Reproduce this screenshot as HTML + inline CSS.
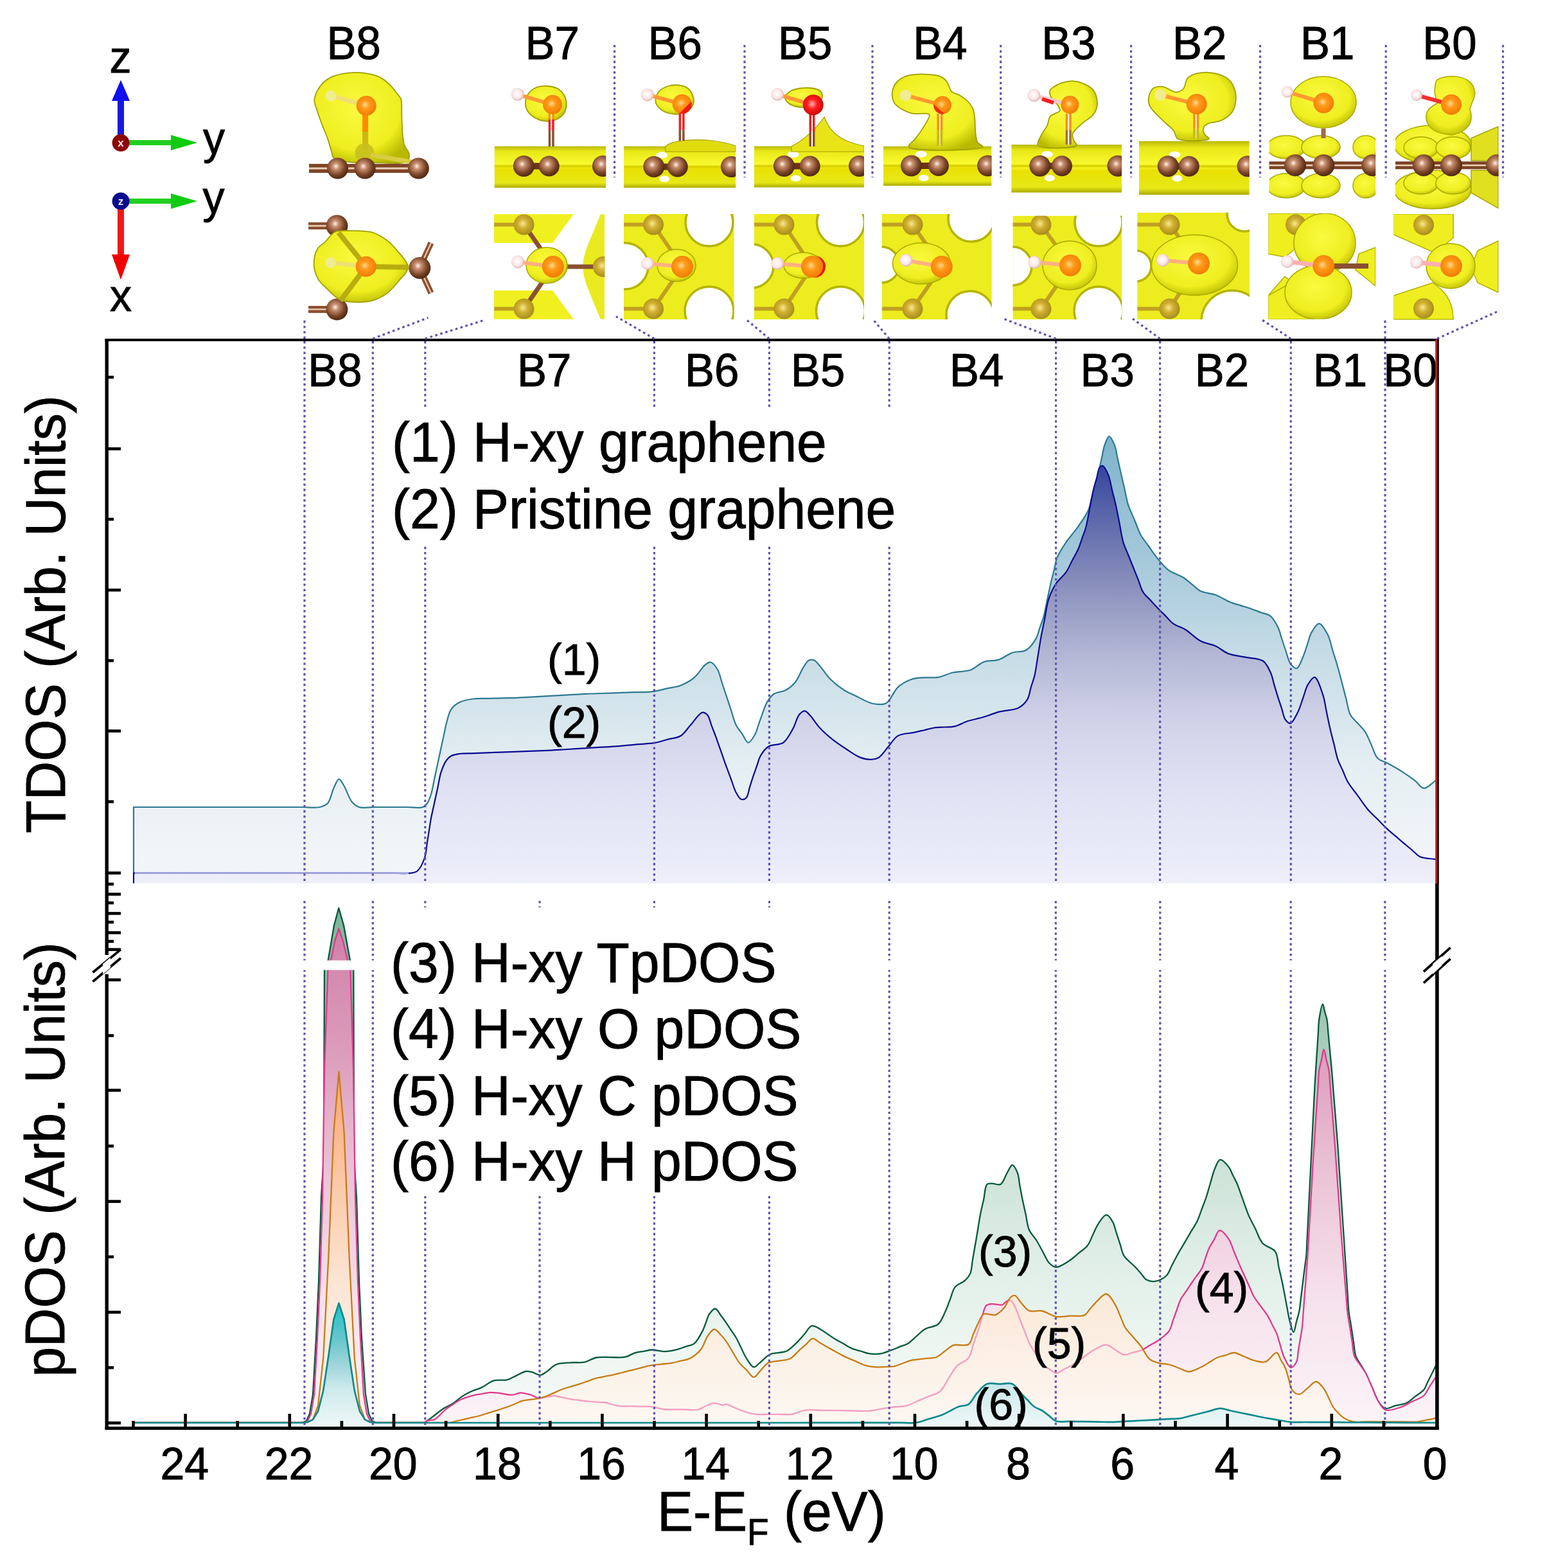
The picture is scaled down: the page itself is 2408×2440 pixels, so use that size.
<!DOCTYPE html><html><head><meta charset="utf-8"><title>DOS figure</title>
<style>html,body{margin:0;padding:0;background:#fff;}svg{display:block;}</style></head><body>
<svg width="2408" height="2440" viewBox="0 0 2408 2440">
<defs>
<linearGradient id="gf1" gradientUnits="userSpaceOnUse" x1="0" y1="680" x2="0" y2="1374"><stop offset="0" stop-color="#7fb4cc"/><stop offset="0.27" stop-color="#a4c8da"/><stop offset="0.5" stop-color="#c8dde7"/><stop offset="0.75" stop-color="#e6eff3"/><stop offset="1" stop-color="#f4f7f9"/></linearGradient>
<linearGradient id="gf2" gradientUnits="userSpaceOnUse" x1="0" y1="722" x2="0" y2="1374"><stop offset="0" stop-color="#34449e"/><stop offset="0.12" stop-color="#5a66aa"/><stop offset="0.29" stop-color="#8a90bc"/><stop offset="0.45" stop-color="#b2b6d4"/><stop offset="0.61" stop-color="#d0d2e8"/><stop offset="0.78" stop-color="#e0e2f4"/><stop offset="0.94" stop-color="#eaebf8"/><stop offset="1" stop-color="#eeeffa"/></linearGradient>
<linearGradient id="gf3" gradientUnits="userSpaceOnUse" x1="0" y1="1413" x2="0" y2="2220"><stop offset="0" stop-color="#7eb498"/><stop offset="0.185" stop-color="#9cc4b0"/><stop offset="0.48" stop-color="#cbe1d6"/><stop offset="0.66" stop-color="#deede6"/><stop offset="0.85" stop-color="#eef6f2"/><stop offset="1" stop-color="#f5faf8"/></linearGradient>
<linearGradient id="gf4" gradientUnits="userSpaceOnUse" x1="0" y1="1440" x2="0" y2="2220"><stop offset="0" stop-color="#cf7fa6"/><stop offset="0.25" stop-color="#dc9cbc"/><stop offset="0.5" stop-color="#ebc4d6"/><stop offset="0.75" stop-color="#f6e2ec"/><stop offset="1" stop-color="#fcf4f8"/></linearGradient>
<linearGradient id="gf5" gradientUnits="userSpaceOnUse" x1="0" y1="1666" x2="0" y2="2220"><stop offset="0" stop-color="#fca468"/><stop offset="0.3" stop-color="#fdc8a0"/><stop offset="0.6" stop-color="#fde6d2"/><stop offset="0.8" stop-color="#fdf0e4"/><stop offset="1" stop-color="#fdf8f2"/></linearGradient>
<linearGradient id="gf6" gradientUnits="userSpaceOnUse" x1="0" y1="2028" x2="0" y2="2220"><stop offset="0" stop-color="#04c0c8"/><stop offset="0.27" stop-color="#50c0c8"/><stop offset="0.48" stop-color="#90d0d8"/><stop offset="0.69" stop-color="#c8e8ec"/><stop offset="1" stop-color="#eef8f9"/></linearGradient>
<radialGradient id="rgC" cx="0.42" cy="0.4" r="0.6"><stop offset="0" stop-color="#fff4e8"/><stop offset="0.25" stop-color="#c89070"/><stop offset="0.7" stop-color="#7a4426"/><stop offset="1" stop-color="#4e2a14"/></radialGradient>
<radialGradient id="rgO" cx="0.45" cy="0.45" r="0.6"><stop offset="0" stop-color="#ffd890"/><stop offset="0.35" stop-color="#ff9a18"/><stop offset="1" stop-color="#f07800"/></radialGradient>
<radialGradient id="rgH" cx="0.45" cy="0.45" r="0.6"><stop offset="0" stop-color="#ffffff"/><stop offset="0.6" stop-color="#fbe6e6"/><stop offset="1" stop-color="#d8a8a8"/></radialGradient>
<radialGradient id="rgCg" cx="0.45" cy="0.45" r="0.6"><stop offset="0" stop-color="#f8e890"/><stop offset="0.4" stop-color="#d0b030"/><stop offset="1" stop-color="#a08818"/></radialGradient>
<radialGradient id="rgR" cx="0.45" cy="0.45" r="0.6"><stop offset="0" stop-color="#ffb0b0"/><stop offset="0.4" stop-color="#ff2020"/><stop offset="1" stop-color="#c80000"/></radialGradient>
<linearGradient id="band" x1="0" y1="0" x2="0" y2="1"><stop offset="0" stop-color="#b8b800"/><stop offset="0.12" stop-color="#e8e818"/><stop offset="0.45" stop-color="#fafa30"/><stop offset="0.55" stop-color="#e8e000"/><stop offset="0.88" stop-color="#e8e818"/><stop offset="1" stop-color="#a8a800"/></linearGradient>
<radialGradient id="blob" cx="0.45" cy="0.4" r="0.65"><stop offset="0" stop-color="#fafa40"/><stop offset="0.7" stop-color="#eeee20"/><stop offset="1" stop-color="#b8b800"/></radialGradient>
</defs>
<rect width="2408" height="2440" fill="#fff"/>
<path d="M208,1374.5 L208,1256 C217.7,1256 227.3,1256 237,1256 C246.6,1256 256.3,1256 266,1256 C275.6,1256 285.3,1256 294.9,1256 C304.6,1256 314.3,1256 323.9,1256 C333.6,1256 343.2,1256 352.9,1256 C362.6,1256 372.2,1256 381.9,1256 C391.5,1256 401.2,1256 410.9,1256 C420.5,1256 430.2,1256 439.8,1256 C449.5,1256 459.2,1256 468.8,1256 C478.5,1256 490.3,1257.7 497.8,1256 C502.9,1254.8 506.6,1253.6 510,1250 C514.7,1244.9 516.6,1231.8 520,1225 C522.5,1220 525.1,1212.5 527.7,1212.4 C530.1,1212.3 532.4,1217.9 535,1222 C539,1228.4 543.1,1242.2 548,1248 C551.4,1252 554.3,1254.5 559,1256 C565.4,1258.1 575.6,1256 583.8,1256 C592.1,1256 600.4,1256 608.6,1256 C616.9,1256 625.2,1256 633.5,1256 C641.7,1256 652.9,1258.1 658.3,1256 C661.6,1254.8 663.1,1252.7 665,1250 C667.5,1246.5 669.3,1241.4 671,1236 C673.2,1229.1 674.5,1219.9 676.2,1211.9 C677.9,1203.8 679.7,1195.8 681.4,1187.7 C683.1,1179.7 685,1171.2 686.6,1163.6 C688.1,1156.8 689.4,1150.7 690.8,1144.3 C692.2,1137.9 693.2,1131.5 695,1125 C696.9,1118 698.5,1109.3 702.3,1103.8 C705.5,1099 709.8,1095.7 715,1093 C721,1089.9 729.6,1088.5 737,1087.5 C744.4,1086.5 752.1,1087.1 759.6,1086.9 C767.2,1086.7 774.7,1086.6 782.3,1086.4 C789.8,1086.2 797.1,1086.1 804.9,1085.8 C813.3,1085.5 822.4,1084.8 831.1,1084.3 C839.9,1083.8 848.6,1083.3 857.3,1082.8 C866.1,1082.3 874.8,1081.8 883.6,1081.3 C892.3,1080.8 901.1,1080.2 909.8,1079.8 C918.5,1079.4 927.3,1079.2 936,1079 C944.7,1078.7 953.5,1078.4 962.2,1078.1 C970.9,1077.8 979.7,1077.5 988.4,1077.2 C997.1,1077 1006.3,1077.4 1014.6,1076.4 C1022.4,1075.4 1029.5,1073.2 1036.9,1071.6 C1044.3,1069.9 1052.1,1069.4 1059.2,1066.7 C1066.5,1063.9 1073.8,1060.1 1080.2,1054.9 C1087,1049.3 1093.3,1037.7 1098.5,1033.9 C1101.4,1031.8 1103.8,1029.9 1106.4,1030.5 C1109.9,1031.2 1114.1,1037.2 1116.9,1041.8 C1120.1,1047.2 1121.3,1054.9 1123.5,1061.4 C1125.6,1068 1127.7,1074.2 1130,1081.1 C1132.5,1088.6 1135.2,1096.8 1137.8,1104.7 C1140.5,1112.6 1142.4,1121.7 1145.7,1128.3 C1148.4,1133.7 1152,1137.4 1155.2,1141.9 C1158.4,1146.5 1161.4,1155.5 1164.7,1155.6 C1168,1155.7 1172.6,1147.6 1175.2,1143 C1177.8,1138.5 1178.7,1133.2 1180.5,1128.3 C1182.2,1123.4 1183.7,1118.9 1185.7,1113.6 C1188.1,1107.2 1190.5,1098.5 1194,1092.6 C1197,1087.6 1199.9,1083.1 1204.5,1080 C1209.5,1076.6 1217.8,1077 1223.4,1073.8 C1229,1070.7 1233.8,1066.5 1238.1,1061.2 C1243.1,1055 1246.7,1044.2 1250.7,1038.1 C1253.6,1033.8 1255.9,1029.1 1259.1,1027.6 C1261.6,1026.4 1264.9,1026.5 1267.5,1027.6 C1270.6,1028.9 1272.7,1032.5 1275.9,1036 C1280.7,1041.3 1286.3,1050.7 1292.6,1057 C1298.9,1063.3 1306.3,1069.2 1313.6,1073.8 C1320.4,1078.1 1327.4,1080.8 1334.6,1084.2 C1342.1,1087.8 1350,1093 1357.7,1094.7 C1364.7,1096.2 1373.9,1096.6 1378.6,1094.7 C1381.7,1093.4 1382.6,1091.2 1384.9,1088.4 C1388.6,1083.9 1392.2,1074.7 1397.5,1069.6 C1402.7,1064.6 1410.6,1060.4 1416.4,1058 C1420.9,1056.1 1424.5,1055.5 1429,1054.9 C1433.9,1054.2 1439.5,1054.5 1444.7,1054.3 C1449.9,1054.2 1454.7,1054.8 1460.4,1053.8 C1467.4,1052.6 1475.4,1048.4 1483.5,1046.5 C1492.2,1044.5 1502.7,1045.5 1511,1042.5 C1518.8,1039.7 1524.6,1032.3 1532,1029.7 C1539.1,1027.2 1547.2,1028.9 1554.4,1026.6 C1561.8,1024.3 1568.4,1018.2 1575.7,1015.7 C1582.6,1013.3 1591,1015.3 1597,1011.8 C1603.4,1008.1 1609,999.9 1612.6,993.6 C1615.7,988.2 1616.5,982.6 1618.4,977.1 C1620.3,971.6 1622.4,966.8 1624.2,960.6 C1626.4,952.7 1628.1,942.5 1630.1,933.4 C1632,924.3 1634,914.5 1635.9,906.2 C1637.5,899.2 1639.1,893.3 1640.8,886.8 C1642.4,880.3 1642.9,874 1645.6,867.4 C1648.7,859.8 1654.8,850.6 1659.2,844.1 C1662.5,839.1 1665.7,835.7 1668.9,831.5 C1672.1,827.3 1675.1,823.9 1678.6,818.9 C1683.3,812 1690.6,801.8 1694.1,793.7 C1697,787 1697.6,780.7 1699.3,774.3 C1701,767.8 1702.8,761.3 1704.5,754.8 C1706.2,748.4 1708.1,742 1709.7,735.4 C1711.4,728.5 1712.9,721.2 1714.6,714 C1716.2,706.9 1717.2,698.9 1719.4,692.7 C1721.3,687.5 1723.8,679.2 1726.3,679.1 C1728.9,679 1732.7,687.4 1734.9,692.7 C1737.4,698.8 1738.1,706.9 1739.8,714 C1741.4,721.2 1742.9,728 1744.6,735.4 C1746.4,743.5 1748.5,752.2 1750.4,760.6 C1752.3,769.1 1753.6,777.8 1756.2,785.9 C1758.8,793.9 1762.7,801.4 1766,809.2 C1769.2,817 1771.9,825.6 1775.7,832.5 C1779.1,838.7 1783.5,843.5 1787.3,849 C1791.2,854.5 1794.4,859.8 1799,865.5 C1804.5,872.3 1811.1,881.2 1818.4,886.8 C1825.4,892.1 1835.2,894.3 1841.7,898.5 C1847,901.9 1850.7,905.6 1855.2,909.1 C1859.8,912.7 1863.3,917.1 1868.8,919.8 C1875.2,923 1884.5,922.9 1892.1,925.7 C1900,928.6 1908.3,934.5 1915.4,937.3 C1921,939.6 1925.8,940.5 1931,942.1 C1936.1,943.8 1941.3,945.2 1946.5,947 C1951.7,948.8 1956.8,950.9 1962,952.9 C1967.2,954.8 1973.1,955.2 1977.5,958.7 C1982.4,962.6 1986.2,970.1 1989.2,976.1 C1992,981.7 1993.1,987.7 1995,993.5 C1996.9,999.4 1998.7,1004.9 2000.8,1011 C2003.2,1017.8 2005,1027.3 2008.6,1032.4 C2011.3,1036.1 2015.4,1040.8 2018.3,1040.2 C2022,1039.5 2025.3,1028.8 2028,1022.7 C2030.8,1016.5 2032.5,1009.8 2034.8,1003.3 C2037.1,996.8 2038.3,989.5 2041.6,983.9 C2044.6,978.6 2049.3,970.2 2053.3,970.3 C2057.7,970.4 2063.3,981.1 2066.8,987.8 C2070.6,995.1 2072,1004.6 2074.6,1013 C2077.2,1021.4 2080,1029.8 2082.4,1038.2 C2084.8,1046.4 2086.7,1054.6 2088.9,1062.8 C2091,1071 2093.2,1079.2 2095.3,1087.4 C2097.5,1095.6 2098.3,1105.3 2101.8,1112 C2104.7,1117.6 2109.6,1121.1 2113.4,1125.6 C2117.3,1130.1 2121.7,1134 2125.1,1139.2 C2128.9,1145.1 2131.6,1152.8 2134.8,1159.6 C2138,1166.4 2139.8,1175.3 2144.5,1180 C2148.6,1184.1 2154.4,1184.7 2160,1187.7 C2167,1191.5 2176,1196.6 2183.3,1201.3 C2190.2,1205.7 2196.9,1210.4 2202.7,1214.9 C2207.7,1218.8 2211.3,1226.3 2216.3,1226.6 C2221.8,1227 2228.4,1218.8 2234.5,1214.9 L2234.5,1374.5 Z" fill="url(#gf1)"/>
<path d="M208,1374.5 L208,1358.7 C217.6,1358.7 227.2,1358.7 236.8,1358.7 C246.3,1358.7 255.9,1358.7 265.5,1358.7 C275.1,1358.7 284.7,1358.7 294.3,1358.7 C303.9,1358.7 313.5,1358.7 323,1358.7 C332.6,1358.7 342.2,1358.7 351.8,1358.7 C361.4,1358.7 371,1358.7 380.6,1358.7 C390.1,1358.7 399.7,1358.7 409.3,1358.7 C418.9,1358.7 428.5,1358.7 438.1,1358.7 C447.7,1358.7 457.3,1358.7 466.8,1358.7 C476.4,1358.7 486,1358.7 495.6,1358.7 C505.2,1358.7 514.8,1358.7 524.4,1358.7 C533.9,1358.7 543.5,1358.7 553.1,1358.7 C562.7,1358.7 572.3,1358.7 581.9,1358.7 C591.5,1358.7 601.1,1358.7 610.6,1358.7 C620.2,1358.7 632.2,1359.9 639.4,1358.7 C643.9,1357.9 646.9,1357.7 650,1355 C654.6,1351 659,1340.7 661.4,1333.5 C663.6,1326.9 663.5,1320.2 664.6,1313.6 C665.6,1307 666.7,1300.3 667.7,1293.7 C668.8,1287.1 669.6,1280.7 670.9,1273.8 C672.3,1266.1 674.4,1257.7 676.1,1249.7 C677.9,1241.6 679.6,1233.6 681.4,1225.5 C683.1,1217.5 684.1,1208.8 686.6,1201.4 C688.8,1194.7 691.8,1187.4 695,1183 C697.2,1179.9 699.3,1177.8 702.3,1176.2 C705.8,1174.3 710.3,1173.7 715,1173 C720.6,1172.2 727.5,1172.5 733.7,1172.3 C739.9,1172.1 745.6,1171.9 752.4,1171.6 C760.4,1171.3 769.9,1170.9 778.6,1170.6 C787.4,1170.3 796.1,1169.9 804.8,1169.6 C813.6,1169.3 822.3,1168.9 831.1,1168.6 C839.8,1168.3 848.6,1168 857.3,1167.6 C866,1167.2 874.8,1166.5 883.5,1166 C892.3,1165.4 901,1164.9 909.8,1164.3 C918.5,1163.8 927.2,1163.3 936,1162.7 C944.7,1162.2 953.3,1161.8 962.2,1161.1 C971.6,1160.4 981.4,1159.3 991,1158.4 C1000.7,1157.6 1011.3,1157.3 1019.9,1155.8 C1027.1,1154.5 1033,1152.3 1039.5,1150.5 C1046.1,1148.8 1053.4,1148.8 1059.2,1145.3 C1065.3,1141.6 1069.5,1134.2 1074.9,1128.3 C1080.8,1122 1088.1,1109.5 1093.3,1108.6 C1096.3,1108.1 1099,1110.2 1101.2,1112.6 C1104.3,1116.1 1105.6,1123.9 1107.8,1129.6 C1109.9,1135.3 1112.1,1140.5 1114.3,1146.6 C1116.8,1153.5 1119.5,1161.5 1122.2,1168.9 C1124.8,1176.3 1127.3,1183.9 1130,1191.2 C1132.6,1198.3 1135.2,1205.2 1137.8,1212.2 C1140.5,1219.2 1142.6,1227.6 1145.7,1233.2 C1148.1,1237.5 1150.6,1242.7 1153.6,1243.7 C1156,1244.5 1159.4,1243.6 1161.5,1241.6 C1164.7,1238.6 1165.4,1229.7 1167.3,1223.8 C1169.2,1217.8 1171.2,1211.5 1173.1,1205.9 C1174.9,1200.7 1176.6,1196.1 1178.3,1191.2 C1180.1,1186.3 1180.9,1181.2 1183.6,1176.5 C1186.6,1171.3 1190.6,1165.3 1196.1,1161.8 C1202.2,1157.9 1213,1160 1219.2,1155.6 C1225.7,1151.1 1229.7,1142 1233.9,1134.6 C1238.1,1127.3 1240.3,1116.2 1244.4,1111.5 C1247,1108.6 1250.1,1106.1 1252.8,1106.3 C1255.7,1106.5 1258.2,1110.4 1261.2,1113.6 C1265.6,1118.3 1270.3,1126.4 1275.9,1132.5 C1282,1139.1 1289.6,1145.7 1296.8,1151.4 C1303.6,1156.8 1310.7,1161.4 1317.8,1166 C1324.7,1170.5 1332,1176 1338.8,1178.6 C1344.5,1180.8 1350.4,1182 1355.6,1181.8 C1360.1,1181.7 1364.1,1181 1368.1,1178.6 C1373.3,1175.4 1377.9,1167.4 1382.8,1161.8 C1387.7,1156.2 1391.2,1148.8 1397.5,1145.1 C1404.3,1141.1 1415.3,1141.4 1422.7,1139.8 C1428.6,1138.5 1433.2,1137.4 1438.4,1136.2 C1443.6,1134.9 1448.8,1133.3 1454.1,1132.5 C1459.3,1131.7 1464.6,1131.8 1469.8,1131.5 C1475.1,1131.1 1480.1,1131.7 1485.6,1130.4 C1492.2,1128.9 1499.5,1124.3 1506.6,1122 C1513.5,1119.8 1521.3,1118.6 1527.6,1116.8 C1532.9,1115.3 1537.2,1113.7 1541.9,1112.1 C1546.7,1110.5 1550.6,1108.9 1556.3,1107.4 C1564.3,1105.3 1577.9,1105.4 1585.4,1101.5 C1591.3,1098.4 1595.8,1093.9 1599,1088.7 C1602.4,1083.3 1602.9,1075.8 1604.8,1069.3 C1606.8,1062.8 1609,1057.1 1610.7,1049.9 C1612.7,1041.2 1613.9,1030.5 1615.6,1020.8 C1617.2,1011 1618.6,1001.3 1620.4,991.6 C1622.2,981.9 1624.3,972.2 1626.2,962.5 C1628.1,952.8 1629,942.6 1632,933.4 C1634.9,924.5 1638.9,915.5 1643.7,908.2 C1648.1,901.5 1654.9,896.9 1659.2,890.7 C1663.2,884.9 1665.7,878.4 1668.9,872.2 C1672.1,866.1 1676,859.9 1678.6,853.8 C1681,848.2 1682.5,842.8 1684.4,837.3 C1686.3,831.8 1688.5,827.1 1690.2,820.8 C1692.5,812.5 1694.1,801.4 1696.1,791.7 C1698,782 1699.9,771 1701.9,762.6 C1703.5,756 1705.1,750.9 1706.8,745.1 C1708.4,739.3 1709.2,730.7 1711.6,727.6 C1712.9,725.9 1714.7,724.5 1716.3,724.9 C1719.1,725.6 1722.8,733.7 1725.2,739.3 C1728,746 1729.1,754.8 1731,762.6 C1732.9,770.4 1735,777.7 1736.8,785.9 C1738.9,795 1740.7,805.3 1742.7,815 C1744.6,824.7 1745.9,835.5 1748.5,844.1 C1750.7,851.3 1753.7,857.1 1756.2,863.5 C1758.8,870 1761.4,876.5 1764,883 C1766.6,889.5 1769.2,895.9 1771.8,902.4 C1774.3,908.9 1776,916.3 1779.5,921.8 C1782.7,926.8 1787.3,930.2 1791.2,934.4 C1795,938.6 1798.9,942.9 1802.8,947 C1806.6,951 1810.6,954.8 1814.4,958.6 C1818.3,962.5 1821.4,966.9 1826.1,970.3 C1831.5,974.2 1838.9,975.9 1845.5,980 C1853.1,984.7 1860.7,993.3 1868.8,997.5 C1876.3,1001.4 1884.9,1001.9 1892.1,1005.2 C1899.1,1008.4 1904.2,1014 1911.5,1016.9 C1919.6,1020.1 1929.6,1020.8 1938.7,1022.7 C1947.8,1024.6 1959.3,1024 1965.9,1028.5 C1971.6,1032.4 1974.6,1039.8 1977.5,1046 C1980.4,1052.1 1981.4,1058.9 1983.3,1065.4 C1985.3,1071.9 1987.2,1078.5 1989.2,1084.8 C1991.1,1090.8 1993.1,1096.5 1995,1102.3 C1996.9,1108.1 1997.9,1115.8 2000.8,1119.8 C2002.9,1122.7 2006,1126.1 2008.6,1125.6 C2012.4,1124.9 2017,1114.4 2020.2,1108.1 C2023.5,1101.5 2025.4,1093.9 2028,1086.8 C2030.6,1079.6 2032.3,1071.2 2035.8,1065.4 C2038.7,1060.6 2043,1053.3 2046.3,1053.8 C2050.9,1054.5 2056,1071.7 2059.1,1080.9 C2062.1,1089.8 2063,1099 2064.9,1108.1 C2066.8,1117.2 2068.7,1126.6 2070.7,1135.3 C2072.6,1143.4 2074.6,1150.8 2076.6,1158.6 C2078.5,1166.4 2079.9,1174.8 2082.4,1181.9 C2084.6,1188.2 2087.6,1193.5 2090.2,1199.3 C2092.7,1205.2 2094.5,1210.9 2097.9,1216.8 C2101.9,1223.8 2108.3,1231 2113.4,1238.2 C2118.6,1245.3 2123.6,1253.1 2129,1259.5 C2134,1265.3 2139.3,1269.9 2144.5,1275 C2149.7,1280.2 2154.9,1285.9 2160,1290.6 C2164.6,1294.9 2169.1,1298.4 2173.6,1302.2 C2178.1,1306.1 2182.8,1310.2 2187.2,1313.9 C2191.2,1317.3 2195,1320.4 2198.8,1323.6 C2202.7,1326.8 2205.5,1331 2210.5,1333.3 C2216.8,1336.2 2226.5,1335.9 2234.5,1337.2 L2234.5,1374.5 Z" fill="url(#gf2)"/>
<path d="M208,1358 L208,1256 C217.7,1256 227.3,1256 237,1256 C246.6,1256 256.3,1256 266,1256 C275.6,1256 285.3,1256 294.9,1256 C304.6,1256 314.3,1256 323.9,1256 C333.6,1256 343.2,1256 352.9,1256 C362.6,1256 372.2,1256 381.9,1256 C391.5,1256 401.2,1256 410.9,1256 C420.5,1256 430.2,1256 439.8,1256 C449.5,1256 459.2,1256 468.8,1256 C478.5,1256 490.3,1257.7 497.8,1256 C502.9,1254.8 506.6,1253.6 510,1250 C514.7,1244.9 516.6,1231.8 520,1225 C522.5,1220 525.1,1212.5 527.7,1212.4 C530.1,1212.3 532.4,1217.9 535,1222 C539,1228.4 543.1,1242.2 548,1248 C551.4,1252 554.3,1254.5 559,1256 C565.4,1258.1 575.6,1256 583.8,1256 C592.1,1256 600.4,1256 608.6,1256 C616.9,1256 625.2,1256 633.5,1256 C641.7,1256 652.9,1258.1 658.3,1256 C661.6,1254.8 663.1,1252.7 665,1250 C667.5,1246.5 669.3,1241.4 671,1236 C673.2,1229.1 674.5,1219.9 676.2,1211.9 C677.9,1203.8 679.7,1195.8 681.4,1187.7 C683.1,1179.7 685,1171.2 686.6,1163.6 C688.1,1156.8 689.4,1150.7 690.8,1144.3 C692.2,1137.9 693.2,1131.5 695,1125 C696.9,1118 698.5,1109.3 702.3,1103.8 C705.5,1099 709.8,1095.7 715,1093 C721,1089.9 729.6,1088.5 737,1087.5 C744.4,1086.5 752.1,1087.1 759.6,1086.9 C767.2,1086.7 774.7,1086.6 782.3,1086.4 C789.8,1086.2 797.1,1086.1 804.9,1085.8 C813.3,1085.5 822.4,1084.8 831.1,1084.3 C839.9,1083.8 848.6,1083.3 857.3,1082.8 C866.1,1082.3 874.8,1081.8 883.6,1081.3 C892.3,1080.8 901.1,1080.2 909.8,1079.8 C918.5,1079.4 927.3,1079.2 936,1079 C944.7,1078.7 953.5,1078.4 962.2,1078.1 C970.9,1077.8 979.7,1077.5 988.4,1077.2 C997.1,1077 1006.3,1077.4 1014.6,1076.4 C1022.4,1075.4 1029.5,1073.2 1036.9,1071.6 C1044.3,1069.9 1052.1,1069.4 1059.2,1066.7 C1066.5,1063.9 1073.8,1060.1 1080.2,1054.9 C1087,1049.3 1093.3,1037.7 1098.5,1033.9 C1101.4,1031.8 1103.8,1029.9 1106.4,1030.5 C1109.9,1031.2 1114.1,1037.2 1116.9,1041.8 C1120.1,1047.2 1121.3,1054.9 1123.5,1061.4 C1125.6,1068 1127.7,1074.2 1130,1081.1 C1132.5,1088.6 1135.2,1096.8 1137.8,1104.7 C1140.5,1112.6 1142.4,1121.7 1145.7,1128.3 C1148.4,1133.7 1152,1137.4 1155.2,1141.9 C1158.4,1146.5 1161.4,1155.5 1164.7,1155.6 C1168,1155.7 1172.6,1147.6 1175.2,1143 C1177.8,1138.5 1178.7,1133.2 1180.5,1128.3 C1182.2,1123.4 1183.7,1118.9 1185.7,1113.6 C1188.1,1107.2 1190.5,1098.5 1194,1092.6 C1197,1087.6 1199.9,1083.1 1204.5,1080 C1209.5,1076.6 1217.8,1077 1223.4,1073.8 C1229,1070.7 1233.8,1066.5 1238.1,1061.2 C1243.1,1055 1246.7,1044.2 1250.7,1038.1 C1253.6,1033.8 1255.9,1029.1 1259.1,1027.6 C1261.6,1026.4 1264.9,1026.5 1267.5,1027.6 C1270.6,1028.9 1272.7,1032.5 1275.9,1036 C1280.7,1041.3 1286.3,1050.7 1292.6,1057 C1298.9,1063.3 1306.3,1069.2 1313.6,1073.8 C1320.4,1078.1 1327.4,1080.8 1334.6,1084.2 C1342.1,1087.8 1350,1093 1357.7,1094.7 C1364.7,1096.2 1373.9,1096.6 1378.6,1094.7 C1381.7,1093.4 1382.6,1091.2 1384.9,1088.4 C1388.6,1083.9 1392.2,1074.7 1397.5,1069.6 C1402.7,1064.6 1410.6,1060.4 1416.4,1058 C1420.9,1056.1 1424.5,1055.5 1429,1054.9 C1433.9,1054.2 1439.5,1054.5 1444.7,1054.3 C1449.9,1054.2 1454.7,1054.8 1460.4,1053.8 C1467.4,1052.6 1475.4,1048.4 1483.5,1046.5 C1492.2,1044.5 1502.7,1045.5 1511,1042.5 C1518.8,1039.7 1524.6,1032.3 1532,1029.7 C1539.1,1027.2 1547.2,1028.9 1554.4,1026.6 C1561.8,1024.3 1568.4,1018.2 1575.7,1015.7 C1582.6,1013.3 1591,1015.3 1597,1011.8 C1603.4,1008.1 1609,999.9 1612.6,993.6 C1615.7,988.2 1616.5,982.6 1618.4,977.1 C1620.3,971.6 1622.4,966.8 1624.2,960.6 C1626.4,952.7 1628.1,942.5 1630.1,933.4 C1632,924.3 1634,914.5 1635.9,906.2 C1637.5,899.2 1639.1,893.3 1640.8,886.8 C1642.4,880.3 1642.9,874 1645.6,867.4 C1648.7,859.8 1654.8,850.6 1659.2,844.1 C1662.5,839.1 1665.7,835.7 1668.9,831.5 C1672.1,827.3 1675.1,823.9 1678.6,818.9 C1683.3,812 1690.6,801.8 1694.1,793.7 C1697,787 1697.6,780.7 1699.3,774.3 C1701,767.8 1702.8,761.3 1704.5,754.8 C1706.2,748.4 1708.1,742 1709.7,735.4 C1711.4,728.5 1712.9,721.2 1714.6,714 C1716.2,706.9 1717.2,698.9 1719.4,692.7 C1721.3,687.5 1723.8,679.2 1726.3,679.1 C1728.9,679 1732.7,687.4 1734.9,692.7 C1737.4,698.8 1738.1,706.9 1739.8,714 C1741.4,721.2 1742.9,728 1744.6,735.4 C1746.4,743.5 1748.5,752.2 1750.4,760.6 C1752.3,769.1 1753.6,777.8 1756.2,785.9 C1758.8,793.9 1762.7,801.4 1766,809.2 C1769.2,817 1771.9,825.6 1775.7,832.5 C1779.1,838.7 1783.5,843.5 1787.3,849 C1791.2,854.5 1794.4,859.8 1799,865.5 C1804.5,872.3 1811.1,881.2 1818.4,886.8 C1825.4,892.1 1835.2,894.3 1841.7,898.5 C1847,901.9 1850.7,905.6 1855.2,909.1 C1859.8,912.7 1863.3,917.1 1868.8,919.8 C1875.2,923 1884.5,922.9 1892.1,925.7 C1900,928.6 1908.3,934.5 1915.4,937.3 C1921,939.6 1925.8,940.5 1931,942.1 C1936.1,943.8 1941.3,945.2 1946.5,947 C1951.7,948.8 1956.8,950.9 1962,952.9 C1967.2,954.8 1973.1,955.2 1977.5,958.7 C1982.4,962.6 1986.2,970.1 1989.2,976.1 C1992,981.7 1993.1,987.7 1995,993.5 C1996.9,999.4 1998.7,1004.9 2000.8,1011 C2003.2,1017.8 2005,1027.3 2008.6,1032.4 C2011.3,1036.1 2015.4,1040.8 2018.3,1040.2 C2022,1039.5 2025.3,1028.8 2028,1022.7 C2030.8,1016.5 2032.5,1009.8 2034.8,1003.3 C2037.1,996.8 2038.3,989.5 2041.6,983.9 C2044.6,978.6 2049.3,970.2 2053.3,970.3 C2057.7,970.4 2063.3,981.1 2066.8,987.8 C2070.6,995.1 2072,1004.6 2074.6,1013 C2077.2,1021.4 2080,1029.8 2082.4,1038.2 C2084.8,1046.4 2086.7,1054.6 2088.9,1062.8 C2091,1071 2093.2,1079.2 2095.3,1087.4 C2097.5,1095.6 2098.3,1105.3 2101.8,1112 C2104.7,1117.6 2109.6,1121.1 2113.4,1125.6 C2117.3,1130.1 2121.7,1134 2125.1,1139.2 C2128.9,1145.1 2131.6,1152.8 2134.8,1159.6 C2138,1166.4 2139.8,1175.3 2144.5,1180 C2148.6,1184.1 2154.4,1184.7 2160,1187.7 C2167,1191.5 2176,1196.6 2183.3,1201.3 C2190.2,1205.7 2196.9,1210.4 2202.7,1214.9 C2207.7,1218.8 2211.3,1226.3 2216.3,1226.6 C2221.8,1227 2228.4,1218.8 2234.5,1214.9" fill="none" stroke="#2c7a90" stroke-width="2.2" stroke-linejoin="round"/>
<path d="M208,1374.5 L208,1358.7 C217.6,1358.7 227.2,1358.7 236.8,1358.7 C246.3,1358.7 255.9,1358.7 265.5,1358.7 C275.1,1358.7 284.7,1358.7 294.3,1358.7 C303.9,1358.7 313.5,1358.7 323,1358.7 C332.6,1358.7 342.2,1358.7 351.8,1358.7 C361.4,1358.7 371,1358.7 380.6,1358.7 C390.1,1358.7 399.7,1358.7 409.3,1358.7 C418.9,1358.7 428.5,1358.7 438.1,1358.7 C447.7,1358.7 457.3,1358.7 466.8,1358.7 C476.4,1358.7 486,1358.7 495.6,1358.7 C505.2,1358.7 514.8,1358.7 524.4,1358.7 C533.9,1358.7 543.5,1358.7 553.1,1358.7 C562.7,1358.7 572.3,1358.7 581.9,1358.7 C591.5,1358.7 601.1,1358.7 610.6,1358.7 C620.2,1358.7 632.2,1359.9 639.4,1358.7 C643.9,1357.9 646.9,1357.7 650,1355 C654.6,1351 659,1340.7 661.4,1333.5 C663.6,1326.9 663.5,1320.2 664.6,1313.6 C665.6,1307 666.7,1300.3 667.7,1293.7 C668.8,1287.1 669.6,1280.7 670.9,1273.8 C672.3,1266.1 674.4,1257.7 676.1,1249.7 C677.9,1241.6 679.6,1233.6 681.4,1225.5 C683.1,1217.5 684.1,1208.8 686.6,1201.4 C688.8,1194.7 691.8,1187.4 695,1183 C697.2,1179.9 699.3,1177.8 702.3,1176.2 C705.8,1174.3 710.3,1173.7 715,1173 C720.6,1172.2 727.5,1172.5 733.7,1172.3 C739.9,1172.1 745.6,1171.9 752.4,1171.6 C760.4,1171.3 769.9,1170.9 778.6,1170.6 C787.4,1170.3 796.1,1169.9 804.8,1169.6 C813.6,1169.3 822.3,1168.9 831.1,1168.6 C839.8,1168.3 848.6,1168 857.3,1167.6 C866,1167.2 874.8,1166.5 883.5,1166 C892.3,1165.4 901,1164.9 909.8,1164.3 C918.5,1163.8 927.2,1163.3 936,1162.7 C944.7,1162.2 953.3,1161.8 962.2,1161.1 C971.6,1160.4 981.4,1159.3 991,1158.4 C1000.7,1157.6 1011.3,1157.3 1019.9,1155.8 C1027.1,1154.5 1033,1152.3 1039.5,1150.5 C1046.1,1148.8 1053.4,1148.8 1059.2,1145.3 C1065.3,1141.6 1069.5,1134.2 1074.9,1128.3 C1080.8,1122 1088.1,1109.5 1093.3,1108.6 C1096.3,1108.1 1099,1110.2 1101.2,1112.6 C1104.3,1116.1 1105.6,1123.9 1107.8,1129.6 C1109.9,1135.3 1112.1,1140.5 1114.3,1146.6 C1116.8,1153.5 1119.5,1161.5 1122.2,1168.9 C1124.8,1176.3 1127.3,1183.9 1130,1191.2 C1132.6,1198.3 1135.2,1205.2 1137.8,1212.2 C1140.5,1219.2 1142.6,1227.6 1145.7,1233.2 C1148.1,1237.5 1150.6,1242.7 1153.6,1243.7 C1156,1244.5 1159.4,1243.6 1161.5,1241.6 C1164.7,1238.6 1165.4,1229.7 1167.3,1223.8 C1169.2,1217.8 1171.2,1211.5 1173.1,1205.9 C1174.9,1200.7 1176.6,1196.1 1178.3,1191.2 C1180.1,1186.3 1180.9,1181.2 1183.6,1176.5 C1186.6,1171.3 1190.6,1165.3 1196.1,1161.8 C1202.2,1157.9 1213,1160 1219.2,1155.6 C1225.7,1151.1 1229.7,1142 1233.9,1134.6 C1238.1,1127.3 1240.3,1116.2 1244.4,1111.5 C1247,1108.6 1250.1,1106.1 1252.8,1106.3 C1255.7,1106.5 1258.2,1110.4 1261.2,1113.6 C1265.6,1118.3 1270.3,1126.4 1275.9,1132.5 C1282,1139.1 1289.6,1145.7 1296.8,1151.4 C1303.6,1156.8 1310.7,1161.4 1317.8,1166 C1324.7,1170.5 1332,1176 1338.8,1178.6 C1344.5,1180.8 1350.4,1182 1355.6,1181.8 C1360.1,1181.7 1364.1,1181 1368.1,1178.6 C1373.3,1175.4 1377.9,1167.4 1382.8,1161.8 C1387.7,1156.2 1391.2,1148.8 1397.5,1145.1 C1404.3,1141.1 1415.3,1141.4 1422.7,1139.8 C1428.6,1138.5 1433.2,1137.4 1438.4,1136.2 C1443.6,1134.9 1448.8,1133.3 1454.1,1132.5 C1459.3,1131.7 1464.6,1131.8 1469.8,1131.5 C1475.1,1131.1 1480.1,1131.7 1485.6,1130.4 C1492.2,1128.9 1499.5,1124.3 1506.6,1122 C1513.5,1119.8 1521.3,1118.6 1527.6,1116.8 C1532.9,1115.3 1537.2,1113.7 1541.9,1112.1 C1546.7,1110.5 1550.6,1108.9 1556.3,1107.4 C1564.3,1105.3 1577.9,1105.4 1585.4,1101.5 C1591.3,1098.4 1595.8,1093.9 1599,1088.7 C1602.4,1083.3 1602.9,1075.8 1604.8,1069.3 C1606.8,1062.8 1609,1057.1 1610.7,1049.9 C1612.7,1041.2 1613.9,1030.5 1615.6,1020.8 C1617.2,1011 1618.6,1001.3 1620.4,991.6 C1622.2,981.9 1624.3,972.2 1626.2,962.5 C1628.1,952.8 1629,942.6 1632,933.4 C1634.9,924.5 1638.9,915.5 1643.7,908.2 C1648.1,901.5 1654.9,896.9 1659.2,890.7 C1663.2,884.9 1665.7,878.4 1668.9,872.2 C1672.1,866.1 1676,859.9 1678.6,853.8 C1681,848.2 1682.5,842.8 1684.4,837.3 C1686.3,831.8 1688.5,827.1 1690.2,820.8 C1692.5,812.5 1694.1,801.4 1696.1,791.7 C1698,782 1699.9,771 1701.9,762.6 C1703.5,756 1705.1,750.9 1706.8,745.1 C1708.4,739.3 1709.2,730.7 1711.6,727.6 C1712.9,725.9 1714.7,724.5 1716.3,724.9 C1719.1,725.6 1722.8,733.7 1725.2,739.3 C1728,746 1729.1,754.8 1731,762.6 C1732.9,770.4 1735,777.7 1736.8,785.9 C1738.9,795 1740.7,805.3 1742.7,815 C1744.6,824.7 1745.9,835.5 1748.5,844.1 C1750.7,851.3 1753.7,857.1 1756.2,863.5 C1758.8,870 1761.4,876.5 1764,883 C1766.6,889.5 1769.2,895.9 1771.8,902.4 C1774.3,908.9 1776,916.3 1779.5,921.8 C1782.7,926.8 1787.3,930.2 1791.2,934.4 C1795,938.6 1798.9,942.9 1802.8,947 C1806.6,951 1810.6,954.8 1814.4,958.6 C1818.3,962.5 1821.4,966.9 1826.1,970.3 C1831.5,974.2 1838.9,975.9 1845.5,980 C1853.1,984.7 1860.7,993.3 1868.8,997.5 C1876.3,1001.4 1884.9,1001.9 1892.1,1005.2 C1899.1,1008.4 1904.2,1014 1911.5,1016.9 C1919.6,1020.1 1929.6,1020.8 1938.7,1022.7 C1947.8,1024.6 1959.3,1024 1965.9,1028.5 C1971.6,1032.4 1974.6,1039.8 1977.5,1046 C1980.4,1052.1 1981.4,1058.9 1983.3,1065.4 C1985.3,1071.9 1987.2,1078.5 1989.2,1084.8 C1991.1,1090.8 1993.1,1096.5 1995,1102.3 C1996.9,1108.1 1997.9,1115.8 2000.8,1119.8 C2002.9,1122.7 2006,1126.1 2008.6,1125.6 C2012.4,1124.9 2017,1114.4 2020.2,1108.1 C2023.5,1101.5 2025.4,1093.9 2028,1086.8 C2030.6,1079.6 2032.3,1071.2 2035.8,1065.4 C2038.7,1060.6 2043,1053.3 2046.3,1053.8 C2050.9,1054.5 2056,1071.7 2059.1,1080.9 C2062.1,1089.8 2063,1099 2064.9,1108.1 C2066.8,1117.2 2068.7,1126.6 2070.7,1135.3 C2072.6,1143.4 2074.6,1150.8 2076.6,1158.6 C2078.5,1166.4 2079.9,1174.8 2082.4,1181.9 C2084.6,1188.2 2087.6,1193.5 2090.2,1199.3 C2092.7,1205.2 2094.5,1210.9 2097.9,1216.8 C2101.9,1223.8 2108.3,1231 2113.4,1238.2 C2118.6,1245.3 2123.6,1253.1 2129,1259.5 C2134,1265.3 2139.3,1269.9 2144.5,1275 C2149.7,1280.2 2154.9,1285.9 2160,1290.6 C2164.6,1294.9 2169.1,1298.4 2173.6,1302.2 C2178.1,1306.1 2182.8,1310.2 2187.2,1313.9 C2191.2,1317.3 2195,1320.4 2198.8,1323.6 C2202.7,1326.8 2205.5,1331 2210.5,1333.3 C2216.8,1336.2 2226.5,1335.9 2234.5,1337.2" fill="none" stroke="#0a0a92" stroke-width="2.2" stroke-linejoin="round"/>
<line x1="210" y1="1358.7" x2="636" y2="1358.7" stroke="#a4a4dc" stroke-width="2.8"/>
<path d="M208,2220.5 L208,2214 L470,2214 L477,2211 L482,2200 L487,2170 L492,2083 L496,1995 L500,1863 L504,1800 L505,1509 L510.8,1494 L520,1440 L527.3,1413 L535,1440 L544.8,1494 L550.3,1509 L551,1800 L555,1863 L559,1995 L563,2083 L569,2170 L574,2200 L579,2211 L586,2214 L660,2214 C662.1,2212.7 663.8,2211.7 666.2,2210 C669.6,2207.6 674.1,2204 678.1,2201 C682.1,2198 685.6,2194.8 690,2192 C694.7,2189 700.7,2186.9 705.5,2183.8 C710.2,2180.7 714.2,2176.4 718.7,2173.4 C723,2170.5 727,2168.3 731.8,2166 C737.3,2163.4 744.1,2161.8 750.1,2158.9 C756.3,2155.9 761.9,2150.4 768.5,2148.4 C775,2146.4 783.2,2148.6 789.4,2147.1 C794.8,2145.8 799,2142.7 803.8,2140.6 C808.7,2138.4 813.8,2134.7 818.3,2134 C822,2133.4 825.3,2134.4 828.8,2135.3 C832.7,2136.3 836.9,2140 840.6,2139.8 C843.9,2139.7 846.4,2137.4 849.8,2135.3 C854.5,2132.4 859.4,2126 865.5,2123.5 C872.3,2120.7 881.5,2121 889.1,2120.4 C896.3,2119.8 903.4,2121 910,2119.6 C916.4,2118.3 921.9,2113.8 928.4,2112.5 C935.4,2111.1 943.3,2112.2 950.7,2112.1 C958.1,2112 966.3,2113.1 973,2111.7 C978.8,2110.5 983.6,2106.7 988.7,2105.2 C993.2,2103.9 997.4,2103.6 1001.8,2102.8 C1006.2,2102.1 1010.2,2100.6 1014.9,2100.5 C1020.5,2100.4 1027,2103.1 1033.3,2103.1 C1040.1,2103.1 1048.2,2101.4 1054.3,2099.9 C1059.2,2098.7 1063,2096.9 1067.4,2095.4 C1071.8,2093.8 1076.6,2093.8 1080.5,2090.8 C1085.6,2086.8 1090.4,2077.2 1093.6,2071.1 C1096.1,2066.4 1097.1,2062.4 1098.8,2058 C1100.6,2053.6 1101.6,2048.6 1104.1,2044.9 C1106.5,2041.5 1110.3,2036.3 1113.3,2036.5 C1116.5,2036.7 1119.6,2043.8 1122.4,2047.5 C1125.1,2051 1127.5,2054.3 1130,2057.9 C1132.6,2061.7 1135.2,2065.8 1137.8,2069.7 C1140.5,2073.6 1143.2,2077.2 1145.7,2081.5 C1148.5,2086.3 1151,2092 1153.6,2097.2 C1156.2,2102.5 1158.3,2108 1161.5,2113 C1164.8,2118.1 1169.4,2126.9 1173.3,2127.4 C1176.3,2127.8 1179,2123.5 1182.4,2120.9 C1187,2117.3 1192.8,2110.3 1198.2,2107.7 C1202.5,2105.6 1206.9,2106 1211.3,2105.1 C1215.7,2104.2 1220.1,2104.6 1224.4,2102.5 C1229.7,2100 1235.4,2093.9 1240.1,2089.4 C1244.5,2085.2 1248,2080.7 1251.9,2076.3 C1255.8,2071.9 1259.3,2064.2 1263.7,2063.2 C1267.7,2062.3 1272.7,2066.2 1276.8,2068.4 C1281,2070.6 1284.7,2073.6 1288.6,2076.2 C1292.5,2078.9 1296.3,2081.6 1300.4,2084.1 C1304.6,2086.7 1309.1,2088.9 1313.5,2091.3 C1317.9,2093.8 1322.1,2096.7 1326.6,2098.6 C1330.9,2100.4 1335.4,2101.2 1339.8,2102.5 C1344.1,2103.8 1348.1,2105.7 1352.9,2106.4 C1358.4,2107.2 1365.4,2107.3 1371.2,2106.4 C1376.7,2105.5 1382,2103 1387,2101.2 C1391.6,2099.5 1395.7,2097.7 1400.1,2095.9 C1404.5,2094.2 1409,2093.2 1413.2,2090.7 C1417.8,2087.9 1421.9,2083.3 1426.3,2079.6 C1430.7,2075.8 1434.2,2071.5 1439.4,2068.4 C1445.3,2064.9 1455.1,2065 1460.4,2060.5 C1465.5,2056.1 1467.8,2048.5 1470.8,2042.2 C1473.9,2035.9 1476.1,2029.1 1478.7,2022.6 C1481.3,2016 1482.5,2008 1486.6,2002.9 C1490.5,1998.1 1498.2,1996.3 1502.3,1992.4 C1505.7,1989.2 1508.3,1986.3 1510.2,1981.9 C1512.7,1976.1 1512.8,1967 1514.1,1959.6 C1515.4,1952.2 1516.7,1944.8 1518,1937.3 C1519.3,1929.5 1520.6,1921.6 1522,1913.7 C1523.3,1905.8 1524.4,1897.9 1525.9,1890.1 C1527.4,1882.2 1529.4,1874.4 1531.2,1866.5 C1532.9,1858.6 1532.9,1846.3 1536.4,1842.9 C1538.4,1841 1541.3,1841.7 1544.3,1841.6 C1548.1,1841.5 1553.7,1844.8 1557.4,1842.9 C1562,1840.5 1564.6,1830 1567.9,1824.6 C1570.6,1820.2 1573.1,1812.8 1575.7,1812.8 C1578.3,1812.8 1581.7,1819.9 1583.6,1824.6 C1586,1830.4 1586.2,1838.6 1587.5,1845.5 C1588.9,1852.5 1590,1859.3 1591.5,1866.5 C1593.1,1874.1 1595,1882.2 1596.7,1890.1 C1598.4,1898 1598.9,1906.8 1601.9,1913.7 C1604.6,1919.9 1609.7,1924.4 1613.2,1930 C1616.8,1935.7 1619.8,1941.7 1623.1,1947.6 C1626.4,1953.5 1629,1961.1 1633,1965.2 C1636.2,1968.5 1639.7,1971.6 1644,1971.8 C1650,1972 1659.8,1964.9 1666,1960.8 C1671.2,1957.4 1674.8,1953.5 1679.2,1949.8 C1683.6,1946.1 1688.8,1943.3 1692.4,1938.8 C1696.3,1933.9 1698.3,1927.1 1701.2,1921.2 C1704.1,1915.3 1706.4,1908.8 1710,1903.6 C1713.5,1898.6 1718.5,1890.3 1722.3,1890.4 C1725.8,1890.4 1729.5,1897 1732,1901.4 C1734.8,1906.3 1735.9,1913.1 1737.9,1919 C1739.8,1924.9 1741.8,1930.7 1743.7,1936.6 C1745.7,1942.5 1746.2,1948.7 1749.6,1954.2 C1753.5,1960.6 1762.4,1966.7 1767.2,1971.8 C1770.7,1975.5 1773.1,1978.4 1776,1981.7 C1778.9,1985 1781.1,1989.6 1784.8,1991.6 C1788.5,1993.6 1793.4,1994.5 1798,1993.8 C1803.6,1993 1811.2,1989.3 1815.6,1985 C1819.9,1980.8 1821.5,1974 1824.4,1968.5 C1827.3,1963 1830.1,1957.6 1833.2,1952 C1836.4,1946.2 1840,1940.3 1843.5,1934.4 C1846.9,1928.5 1850.3,1922.7 1853.7,1916.8 C1857.2,1910.9 1861.2,1905.2 1864,1899.2 C1866.7,1893.4 1868.4,1887.5 1870.6,1881.6 C1872.8,1875.7 1875.1,1870.2 1877.2,1864 C1879.5,1857.1 1881.6,1849.3 1883.8,1842 C1886,1834.7 1887.6,1826.5 1890.4,1820 C1892.9,1814.3 1895.5,1805.3 1899.2,1804.6 C1902.8,1803.9 1909.1,1811.4 1912.4,1815.6 C1915.5,1819.5 1916.8,1824.4 1919,1828.8 C1921.2,1833.2 1923.6,1837.3 1925.6,1842 C1927.8,1847 1929.5,1852.8 1931.5,1858.1 C1933.4,1863.5 1935.4,1868.9 1937.3,1874.3 C1939.3,1879.6 1940.7,1884.7 1943.2,1890.4 C1946.1,1897.2 1950.5,1905.1 1954.2,1912.4 C1957.9,1919.7 1960,1928.5 1965.2,1934.4 C1970.3,1940.2 1980.8,1941.5 1985,1947.6 C1989.3,1953.9 1988.7,1963.7 1990.5,1971.8 C1992.3,1979.9 1994.4,1988.4 1996,1996 C1997.4,2002.7 1998.4,2008.7 1999.7,2015.1 C2000.9,2021.4 2002.1,2027.8 2003.3,2034.1 C2004.6,2040.5 2005.3,2046.8 2007,2053.2 C2008.7,2059.8 2011.7,2073.1 2013.6,2073 C2015.3,2072.9 2016.5,2062 2018,2056.5 C2019.5,2051 2021.2,2045.9 2022.4,2040 C2023.7,2033.2 2024.2,2025.3 2025.2,2018 C2026.1,2010.7 2027,2003.3 2027.9,1996 C2028.8,1988.7 2029.7,1981.3 2030.7,1974 C2031.6,1966.7 2032.8,1959.3 2033.4,1952 C2034,1944.7 2034.1,1937.3 2034.5,1930 C2034.9,1922.7 2035.2,1915.3 2035.6,1908 C2036,1900.7 2036.3,1893.3 2036.7,1886 C2037.1,1878.7 2037.4,1871.3 2037.8,1864 C2038.2,1856.7 2038.5,1849.3 2038.9,1842 C2039.3,1834.7 2039.6,1827.3 2040,1820 C2040.4,1812.7 2040.7,1805.3 2041.1,1798 C2041.5,1790.7 2041.8,1783.3 2042.2,1776 C2042.6,1768.7 2042.9,1761.3 2043.3,1754 C2043.7,1746.7 2044,1739.3 2044.4,1732 C2044.8,1724.7 2045.1,1717.3 2045.5,1710 C2045.9,1702.7 2046.2,1695.2 2046.6,1688 C2047,1681.1 2047.5,1674.5 2047.9,1667.8 C2048.4,1661 2048.8,1654.3 2049.2,1647.5 C2049.7,1640.8 2050.1,1634 2050.6,1627.3 C2051,1620.5 2051.4,1613.8 2051.9,1607 C2052.3,1600.3 2052.2,1593.8 2053.2,1586.8 C2054.4,1579 2057.2,1562.6 2058.9,1562.6 C2060.1,1562.6 2061.1,1570.7 2062.2,1574.7 C2063.3,1578.7 2064.7,1582.2 2065.5,1586.8 C2066.5,1592.6 2066.8,1600 2067.4,1606.6 C2068,1613.2 2068.6,1619.8 2069.2,1626.4 C2069.9,1633 2070.5,1639.6 2071.1,1646.2 C2071.8,1652.8 2072.4,1659.2 2073,1666 C2073.6,1673.1 2074.2,1680.7 2074.8,1688 C2075.3,1695.3 2075.9,1702.7 2076.5,1710 C2077.1,1717.3 2077.7,1724.7 2078.3,1732 C2078.9,1739.3 2079.5,1746.7 2080,1754 C2080.6,1761.3 2081.3,1768.7 2081.8,1776 C2082.3,1783.3 2082.8,1790.7 2083.3,1798 C2083.8,1805.3 2084.2,1812.7 2084.7,1820 C2085.2,1827.3 2085.7,1834.7 2086.2,1842 C2086.7,1849.3 2087.2,1856.7 2087.7,1864 C2088.2,1871.3 2088.6,1878.7 2089.1,1886 C2089.6,1893.3 2090.1,1900.7 2090.6,1908 C2091.1,1915.3 2091.6,1922.7 2092.1,1930 C2092.6,1937.3 2093,1944.7 2093.5,1952 C2094,1959.3 2094.5,1966.7 2095,1974 C2095.5,1981.3 2096,1988.7 2096.5,1996 C2097,2003.3 2097.4,2010.7 2097.9,2018 C2098.4,2025.3 2098.6,2032.6 2099.4,2040 C2100.3,2047.7 2101.8,2055.6 2103.1,2063.5 C2104.3,2071.3 2105.5,2079.1 2106.7,2086.9 C2108,2094.8 2108.1,2103.9 2110.4,2110.4 C2112.3,2115.6 2115.5,2119.2 2118.1,2123.6 C2120.7,2128 2123.2,2131.8 2125.8,2136.8 C2129.1,2143.1 2132.4,2151.5 2135.7,2158.8 C2139,2166.1 2141.6,2175 2145.6,2180.8 C2148.8,2185.5 2152.2,2190.7 2156.6,2191.8 C2161,2192.9 2166.7,2188.8 2172,2187.4 C2177.7,2185.9 2184.4,2185.5 2189.6,2183 C2194.6,2180.6 2198.4,2176.4 2202.8,2173.1 C2207.2,2169.7 2212.7,2167.1 2216,2163.1 C2219.1,2159.3 2220.4,2154.3 2222.6,2149.9 C2224.8,2145.6 2227.1,2141 2229.2,2136.8 C2231.1,2133 2232.7,2129.5 2234.5,2125.8 L2234.5,2220.5 Z" fill="url(#gf3)"/>
<path d="M208,2214 L470,2214 L477,2211 L482,2200 L487,2170 L492,2083 L496,1995 L500,1863 L504,1800 L505,1509 L510.8,1494 L520,1440 L527.3,1413 L535,1440 L544.8,1494 L550.3,1509 L551,1800 L555,1863 L559,1995 L563,2083 L569,2170 L574,2200 L579,2211 L586,2214 L660,2214 C662.1,2212.7 663.8,2211.7 666.2,2210 C669.6,2207.6 674.1,2204 678.1,2201 C682.1,2198 685.6,2194.8 690,2192 C694.7,2189 700.7,2186.9 705.5,2183.8 C710.2,2180.7 714.2,2176.4 718.7,2173.4 C723,2170.5 727,2168.3 731.8,2166 C737.3,2163.4 744.1,2161.8 750.1,2158.9 C756.3,2155.9 761.9,2150.4 768.5,2148.4 C775,2146.4 783.2,2148.6 789.4,2147.1 C794.8,2145.8 799,2142.7 803.8,2140.6 C808.7,2138.4 813.8,2134.7 818.3,2134 C822,2133.4 825.3,2134.4 828.8,2135.3 C832.7,2136.3 836.9,2140 840.6,2139.8 C843.9,2139.7 846.4,2137.4 849.8,2135.3 C854.5,2132.4 859.4,2126 865.5,2123.5 C872.3,2120.7 881.5,2121 889.1,2120.4 C896.3,2119.8 903.4,2121 910,2119.6 C916.4,2118.3 921.9,2113.8 928.4,2112.5 C935.4,2111.1 943.3,2112.2 950.7,2112.1 C958.1,2112 966.3,2113.1 973,2111.7 C978.8,2110.5 983.6,2106.7 988.7,2105.2 C993.2,2103.9 997.4,2103.6 1001.8,2102.8 C1006.2,2102.1 1010.2,2100.6 1014.9,2100.5 C1020.5,2100.4 1027,2103.1 1033.3,2103.1 C1040.1,2103.1 1048.2,2101.4 1054.3,2099.9 C1059.2,2098.7 1063,2096.9 1067.4,2095.4 C1071.8,2093.8 1076.6,2093.8 1080.5,2090.8 C1085.6,2086.8 1090.4,2077.2 1093.6,2071.1 C1096.1,2066.4 1097.1,2062.4 1098.8,2058 C1100.6,2053.6 1101.6,2048.6 1104.1,2044.9 C1106.5,2041.5 1110.3,2036.3 1113.3,2036.5 C1116.5,2036.7 1119.6,2043.8 1122.4,2047.5 C1125.1,2051 1127.5,2054.3 1130,2057.9 C1132.6,2061.7 1135.2,2065.8 1137.8,2069.7 C1140.5,2073.6 1143.2,2077.2 1145.7,2081.5 C1148.5,2086.3 1151,2092 1153.6,2097.2 C1156.2,2102.5 1158.3,2108 1161.5,2113 C1164.8,2118.1 1169.4,2126.9 1173.3,2127.4 C1176.3,2127.8 1179,2123.5 1182.4,2120.9 C1187,2117.3 1192.8,2110.3 1198.2,2107.7 C1202.5,2105.6 1206.9,2106 1211.3,2105.1 C1215.7,2104.2 1220.1,2104.6 1224.4,2102.5 C1229.7,2100 1235.4,2093.9 1240.1,2089.4 C1244.5,2085.2 1248,2080.7 1251.9,2076.3 C1255.8,2071.9 1259.3,2064.2 1263.7,2063.2 C1267.7,2062.3 1272.7,2066.2 1276.8,2068.4 C1281,2070.6 1284.7,2073.6 1288.6,2076.2 C1292.5,2078.9 1296.3,2081.6 1300.4,2084.1 C1304.6,2086.7 1309.1,2088.9 1313.5,2091.3 C1317.9,2093.8 1322.1,2096.7 1326.6,2098.6 C1330.9,2100.4 1335.4,2101.2 1339.8,2102.5 C1344.1,2103.8 1348.1,2105.7 1352.9,2106.4 C1358.4,2107.2 1365.4,2107.3 1371.2,2106.4 C1376.7,2105.5 1382,2103 1387,2101.2 C1391.6,2099.5 1395.7,2097.7 1400.1,2095.9 C1404.5,2094.2 1409,2093.2 1413.2,2090.7 C1417.8,2087.9 1421.9,2083.3 1426.3,2079.6 C1430.7,2075.8 1434.2,2071.5 1439.4,2068.4 C1445.3,2064.9 1455.1,2065 1460.4,2060.5 C1465.5,2056.1 1467.8,2048.5 1470.8,2042.2 C1473.9,2035.9 1476.1,2029.1 1478.7,2022.6 C1481.3,2016 1482.5,2008 1486.6,2002.9 C1490.5,1998.1 1498.2,1996.3 1502.3,1992.4 C1505.7,1989.2 1508.3,1986.3 1510.2,1981.9 C1512.7,1976.1 1512.8,1967 1514.1,1959.6 C1515.4,1952.2 1516.7,1944.8 1518,1937.3 C1519.3,1929.5 1520.6,1921.6 1522,1913.7 C1523.3,1905.8 1524.4,1897.9 1525.9,1890.1 C1527.4,1882.2 1529.4,1874.4 1531.2,1866.5 C1532.9,1858.6 1532.9,1846.3 1536.4,1842.9 C1538.4,1841 1541.3,1841.7 1544.3,1841.6 C1548.1,1841.5 1553.7,1844.8 1557.4,1842.9 C1562,1840.5 1564.6,1830 1567.9,1824.6 C1570.6,1820.2 1573.1,1812.8 1575.7,1812.8 C1578.3,1812.8 1581.7,1819.9 1583.6,1824.6 C1586,1830.4 1586.2,1838.6 1587.5,1845.5 C1588.9,1852.5 1590,1859.3 1591.5,1866.5 C1593.1,1874.1 1595,1882.2 1596.7,1890.1 C1598.4,1898 1598.9,1906.8 1601.9,1913.7 C1604.6,1919.9 1609.7,1924.4 1613.2,1930 C1616.8,1935.7 1619.8,1941.7 1623.1,1947.6 C1626.4,1953.5 1629,1961.1 1633,1965.2 C1636.2,1968.5 1639.7,1971.6 1644,1971.8 C1650,1972 1659.8,1964.9 1666,1960.8 C1671.2,1957.4 1674.8,1953.5 1679.2,1949.8 C1683.6,1946.1 1688.8,1943.3 1692.4,1938.8 C1696.3,1933.9 1698.3,1927.1 1701.2,1921.2 C1704.1,1915.3 1706.4,1908.8 1710,1903.6 C1713.5,1898.6 1718.5,1890.3 1722.3,1890.4 C1725.8,1890.4 1729.5,1897 1732,1901.4 C1734.8,1906.3 1735.9,1913.1 1737.9,1919 C1739.8,1924.9 1741.8,1930.7 1743.7,1936.6 C1745.7,1942.5 1746.2,1948.7 1749.6,1954.2 C1753.5,1960.6 1762.4,1966.7 1767.2,1971.8 C1770.7,1975.5 1773.1,1978.4 1776,1981.7 C1778.9,1985 1781.1,1989.6 1784.8,1991.6 C1788.5,1993.6 1793.4,1994.5 1798,1993.8 C1803.6,1993 1811.2,1989.3 1815.6,1985 C1819.9,1980.8 1821.5,1974 1824.4,1968.5 C1827.3,1963 1830.1,1957.6 1833.2,1952 C1836.4,1946.2 1840,1940.3 1843.5,1934.4 C1846.9,1928.5 1850.3,1922.7 1853.7,1916.8 C1857.2,1910.9 1861.2,1905.2 1864,1899.2 C1866.7,1893.4 1868.4,1887.5 1870.6,1881.6 C1872.8,1875.7 1875.1,1870.2 1877.2,1864 C1879.5,1857.1 1881.6,1849.3 1883.8,1842 C1886,1834.7 1887.6,1826.5 1890.4,1820 C1892.9,1814.3 1895.5,1805.3 1899.2,1804.6 C1902.8,1803.9 1909.1,1811.4 1912.4,1815.6 C1915.5,1819.5 1916.8,1824.4 1919,1828.8 C1921.2,1833.2 1923.6,1837.3 1925.6,1842 C1927.8,1847 1929.5,1852.8 1931.5,1858.1 C1933.4,1863.5 1935.4,1868.9 1937.3,1874.3 C1939.3,1879.6 1940.7,1884.7 1943.2,1890.4 C1946.1,1897.2 1950.5,1905.1 1954.2,1912.4 C1957.9,1919.7 1960,1928.5 1965.2,1934.4 C1970.3,1940.2 1980.8,1941.5 1985,1947.6 C1989.3,1953.9 1988.7,1963.7 1990.5,1971.8 C1992.3,1979.9 1994.4,1988.4 1996,1996 C1997.4,2002.7 1998.4,2008.7 1999.7,2015.1 C2000.9,2021.4 2002.1,2027.8 2003.3,2034.1 C2004.6,2040.5 2005.3,2046.8 2007,2053.2 C2008.7,2059.8 2011.7,2073.1 2013.6,2073 C2015.3,2072.9 2016.5,2062 2018,2056.5 C2019.5,2051 2021.2,2045.9 2022.4,2040 C2023.7,2033.2 2024.2,2025.3 2025.2,2018 C2026.1,2010.7 2027,2003.3 2027.9,1996 C2028.8,1988.7 2029.7,1981.3 2030.7,1974 C2031.6,1966.7 2032.8,1959.3 2033.4,1952 C2034,1944.7 2034.1,1937.3 2034.5,1930 C2034.9,1922.7 2035.2,1915.3 2035.6,1908 C2036,1900.7 2036.3,1893.3 2036.7,1886 C2037.1,1878.7 2037.4,1871.3 2037.8,1864 C2038.2,1856.7 2038.5,1849.3 2038.9,1842 C2039.3,1834.7 2039.6,1827.3 2040,1820 C2040.4,1812.7 2040.7,1805.3 2041.1,1798 C2041.5,1790.7 2041.8,1783.3 2042.2,1776 C2042.6,1768.7 2042.9,1761.3 2043.3,1754 C2043.7,1746.7 2044,1739.3 2044.4,1732 C2044.8,1724.7 2045.1,1717.3 2045.5,1710 C2045.9,1702.7 2046.2,1695.2 2046.6,1688 C2047,1681.1 2047.5,1674.5 2047.9,1667.8 C2048.4,1661 2048.8,1654.3 2049.2,1647.5 C2049.7,1640.8 2050.1,1634 2050.6,1627.3 C2051,1620.5 2051.4,1613.8 2051.9,1607 C2052.3,1600.3 2052.2,1593.8 2053.2,1586.8 C2054.4,1579 2057.2,1562.6 2058.9,1562.6 C2060.1,1562.6 2061.1,1570.7 2062.2,1574.7 C2063.3,1578.7 2064.7,1582.2 2065.5,1586.8 C2066.5,1592.6 2066.8,1600 2067.4,1606.6 C2068,1613.2 2068.6,1619.8 2069.2,1626.4 C2069.9,1633 2070.5,1639.6 2071.1,1646.2 C2071.8,1652.8 2072.4,1659.2 2073,1666 C2073.6,1673.1 2074.2,1680.7 2074.8,1688 C2075.3,1695.3 2075.9,1702.7 2076.5,1710 C2077.1,1717.3 2077.7,1724.7 2078.3,1732 C2078.9,1739.3 2079.5,1746.7 2080,1754 C2080.6,1761.3 2081.3,1768.7 2081.8,1776 C2082.3,1783.3 2082.8,1790.7 2083.3,1798 C2083.8,1805.3 2084.2,1812.7 2084.7,1820 C2085.2,1827.3 2085.7,1834.7 2086.2,1842 C2086.7,1849.3 2087.2,1856.7 2087.7,1864 C2088.2,1871.3 2088.6,1878.7 2089.1,1886 C2089.6,1893.3 2090.1,1900.7 2090.6,1908 C2091.1,1915.3 2091.6,1922.7 2092.1,1930 C2092.6,1937.3 2093,1944.7 2093.5,1952 C2094,1959.3 2094.5,1966.7 2095,1974 C2095.5,1981.3 2096,1988.7 2096.5,1996 C2097,2003.3 2097.4,2010.7 2097.9,2018 C2098.4,2025.3 2098.6,2032.6 2099.4,2040 C2100.3,2047.7 2101.8,2055.6 2103.1,2063.5 C2104.3,2071.3 2105.5,2079.1 2106.7,2086.9 C2108,2094.8 2108.1,2103.9 2110.4,2110.4 C2112.3,2115.6 2115.5,2119.2 2118.1,2123.6 C2120.7,2128 2123.2,2131.8 2125.8,2136.8 C2129.1,2143.1 2132.4,2151.5 2135.7,2158.8 C2139,2166.1 2141.6,2175 2145.6,2180.8 C2148.8,2185.5 2152.2,2190.7 2156.6,2191.8 C2161,2192.9 2166.7,2188.8 2172,2187.4 C2177.7,2185.9 2184.4,2185.5 2189.6,2183 C2194.6,2180.6 2198.4,2176.4 2202.8,2173.1 C2207.2,2169.7 2212.7,2167.1 2216,2163.1 C2219.1,2159.3 2220.4,2154.3 2222.6,2149.9 C2224.8,2145.6 2227.1,2141 2229.2,2136.8 C2231.1,2133 2232.7,2129.5 2234.5,2125.8" fill="none" stroke="#045a3a" stroke-width="2.3" stroke-linejoin="round"/>
<path d="M208,2220.5 L208,2214 L473,2214 L479,2211 L484,2200 L489,2170 L494,2083 L498,1995 L502,1863 L505,1664 L510.4,1509 L515,1494 L521,1465 L527.3,1445 L534,1465 L541,1494 L545.4,1509 L550,1664 L553,1863 L557,1995 L561,2083 L566,2170 L571,2200 L576,2211 L582,2214 L660,2214 C662.1,2212.9 663.8,2211.5 666.2,2210.6 C669.2,2209.5 673.1,2210.5 676.7,2208.7 C681.8,2206.2 687.3,2198.4 692.4,2194.3 C696.8,2190.7 701.1,2188 705.5,2185.1 C709.8,2182.3 713.8,2179.5 718.7,2177.3 C724.2,2174.8 731.4,2172.7 737,2171.3 C741.7,2170.1 745.7,2169.8 750.1,2169.1 C754.5,2168.3 758.6,2167 763.2,2166.8 C768.2,2166.6 773.5,2167.5 779,2168.1 C784.9,2168.8 791.7,2171 797.3,2170.7 C802.1,2170.4 805.8,2167.4 810.4,2167.3 C815.4,2167.2 821.2,2169.2 826.2,2170.7 C830.8,2172.1 834.2,2175.4 839.3,2176 C845.9,2176.7 856.2,2171.9 862.9,2172 C867.9,2172.1 871.6,2173.8 876,2174.7 C880.4,2175.5 884.7,2176.6 889.1,2177.3 C893.5,2178 897.8,2178.4 902.2,2179 C906.6,2179.6 910.9,2180.3 915.3,2180.7 C919.7,2181.1 924,2181.3 928.4,2181.6 C932.8,2181.9 936.7,2181.7 941.5,2182.5 C947.7,2183.5 955.8,2186.9 962.5,2187.8 C968.5,2188.6 974.1,2188.1 980,2188.2 C985.8,2188.4 991.6,2188.5 997.4,2188.7 C1003.3,2188.8 1009,2188.4 1014.9,2189.1 C1021,2189.8 1027.2,2192.3 1033.3,2193 C1039.2,2193.7 1044.9,2193.2 1050.8,2193.3 C1056.6,2193.4 1062.4,2193.4 1068.2,2193.5 C1074.1,2193.6 1080.2,2195 1085.7,2193.8 C1091.2,2192.6 1096.7,2188.3 1101.5,2186.5 C1105.3,2185.1 1108.2,2183.4 1111.9,2183.3 C1116,2183.2 1121.8,2186.6 1125.1,2186.5 C1127.1,2186.5 1128,2185 1130,2185.1 C1133.3,2185.3 1138.7,2188.6 1143.1,2190.3 C1147.5,2192.1 1151.3,2194 1156.2,2195.6 C1162.3,2197.6 1170.4,2200 1177.2,2200.8 C1183.5,2201.6 1189.4,2200.8 1195.6,2200.8 C1201.7,2200.8 1207.8,2200.8 1213.9,2200.8 C1220.1,2200.8 1226.1,2201.7 1232.3,2200.8 C1239.1,2199.8 1245.8,2195.4 1253.2,2194.3 C1261.1,2193.2 1269.8,2194.5 1278.1,2194.6 C1286.4,2194.7 1294.7,2194.8 1303.1,2194.9 C1311.4,2195.1 1319.7,2195.2 1328,2195.3 C1336.3,2195.4 1345.6,2196.2 1352.9,2195.6 C1358.8,2195.1 1363.4,2193.8 1368.6,2192.9 C1373.8,2192.1 1379.3,2191 1384.3,2190.3 C1388.9,2189.7 1393,2189.4 1397.4,2189 C1401.8,2188.6 1405.9,2188.9 1410.5,2187.7 C1415.9,2186.3 1421.9,2182.9 1427.5,2180.5 C1433.2,2178.1 1438.8,2175.8 1444.6,2173.3 C1450.6,2170.7 1457.9,2169.7 1463,2165.4 C1468.6,2160.8 1471.7,2152.3 1476.1,2145.8 C1480.5,2139.2 1483.9,2131.6 1489.2,2126.1 C1494.4,2120.7 1503.2,2118.8 1507.6,2113 C1512.1,2107.1 1512.8,2098.1 1515.4,2090.7 C1518.1,2083.3 1521,2075.5 1523.3,2068.4 C1525.3,2062 1526.5,2056.2 1528.5,2050.1 C1530.5,2043.9 1531.6,2035 1535.1,2031.7 C1537.5,2029.4 1540.8,2029.4 1544.3,2029.1 C1548.8,2028.7 1556.1,2031.6 1560,2030.4 C1562.9,2029.5 1564.3,2026.3 1566.6,2025.2 C1568.7,2024.2 1571.1,2023 1573.1,2023.8 C1576,2025 1578.7,2031.4 1580.9,2035.6 C1583.1,2039.9 1584.4,2044.8 1586.2,2049.4 C1588,2054 1589.7,2058.7 1591.5,2063.2 C1593.2,2067.6 1595,2071.9 1596.7,2076.3 C1598.4,2080.7 1599.7,2084.8 1601.9,2089.4 C1604.5,2094.8 1608.6,2100.8 1612,2106.4 C1615.3,2112.1 1618,2119.4 1622,2123.5 C1625.2,2126.8 1629.3,2127.9 1633,2130.2 C1636.7,2132.4 1640.1,2136.7 1644,2136.8 C1648.2,2137 1652.8,2132.4 1657.2,2130.2 C1661.6,2127.9 1665.9,2126.2 1670.4,2123.5 C1675.5,2120.4 1680.7,2116.2 1685.8,2112.5 C1690.9,2108.8 1695.5,2104.7 1701.2,2101.5 C1707.5,2098 1716.1,2092.3 1722.3,2092.7 C1727.4,2093 1731.4,2097.9 1735.9,2100.4 C1740.5,2103 1745,2107.6 1749.6,2108.2 C1753.9,2108.8 1758.4,2106 1762.8,2104.8 C1767.2,2103.7 1771.7,2103.2 1776,2101.5 C1780.5,2099.7 1784.8,2096.4 1789.2,2093.8 C1793.6,2091.3 1797.8,2089.5 1802.4,2086.2 C1808,2082.2 1816.1,2076.5 1820,2070.8 C1823.4,2065.9 1823.9,2060 1825.9,2054.7 C1827.8,2049.3 1829.8,2043.9 1831.7,2038.5 C1833.7,2033.2 1835.1,2027.4 1837.6,2022.4 C1840,2017.6 1843.5,2013.6 1846.4,2009.2 C1849.3,2004.8 1852.3,2000.2 1855.2,1996 C1857.8,1992.2 1860.3,1988.7 1862.9,1985 C1865.5,1981.3 1868.5,1978.1 1870.6,1974 C1873,1969.4 1874.3,1963.7 1876.1,1958.6 C1877.9,1953.5 1879.3,1948.1 1881.6,1943.2 C1883.9,1938.2 1887.2,1933.7 1889.9,1928.9 C1892.7,1924.1 1894.8,1915.1 1898.3,1914.6 C1902.1,1914 1908.7,1922.4 1912.4,1927.8 C1916.5,1933.6 1918.3,1941.7 1921.2,1948.7 C1924.1,1955.7 1927.2,1963.1 1930,1969.6 C1932.5,1975.3 1934.9,1980.4 1937.3,1985.7 C1939.8,1991.1 1942.2,1996.5 1944.7,2001.9 C1947.1,2007.2 1949,2012.8 1952,2018 C1955.1,2023.3 1959.3,2028.3 1963,2033.4 C1966.7,2038.5 1971,2043.7 1974,2048.8 C1976.7,2053.3 1978.4,2057.6 1980.6,2062 C1982.8,2066.4 1985.3,2070.4 1987.2,2075.2 C1989.4,2080.6 1990.9,2086.9 1992.7,2092.8 C1994.5,2098.7 1995.6,2104.7 1998.2,2110.4 C2001,2116.5 2005.5,2127.6 2009.2,2128 C2012.1,2128.3 2016,2123 2018,2119.2 C2020.4,2114.6 2020,2107.5 2020.9,2101.6 C2021.9,2095.7 2022.9,2089.9 2023.9,2084 C2024.8,2078.1 2026,2072.7 2026.8,2066.4 C2027.7,2059.3 2028,2051.1 2028.6,2043.5 C2029.1,2035.9 2029.7,2028.3 2030.3,2020.6 C2030.9,2013 2031.5,2005.4 2032.1,1997.8 C2032.7,1990.1 2033.3,1982.5 2033.8,1974.9 C2034.4,1967.3 2035.1,1959.6 2035.6,1952 C2036.1,1944.6 2036.4,1937.3 2036.9,1930 C2037.3,1922.7 2037.7,1915.3 2038.1,1908 C2038.5,1900.7 2039,1893.3 2039.4,1886 C2039.8,1878.7 2040.2,1871.3 2040.6,1864 C2041,1856.7 2041.5,1849.3 2041.9,1842 C2042.3,1834.7 2042.7,1827.3 2043.1,1820 C2043.6,1812.7 2043.9,1805.3 2044.4,1798 C2044.9,1790.7 2045.4,1783.3 2045.9,1776 C2046.4,1768.7 2046.8,1761.3 2047.3,1754 C2047.8,1746.7 2048.3,1739.3 2048.8,1732 C2049.3,1724.7 2049.8,1717.3 2050.3,1710 C2050.8,1702.7 2051.2,1695.3 2051.7,1688 C2052.2,1680.7 2052.2,1672.8 2053.2,1666 C2054.1,1660.1 2055.7,1655 2056.9,1649.5 C2058.2,1644 2059.4,1633 2060.7,1633 C2062,1633 2063.3,1644 2064.6,1649.5 C2066,1655 2067.7,1660.1 2068.6,1666 C2069.7,1672.8 2069.8,1680.7 2070.4,1688 C2070.9,1695.3 2071.5,1702.7 2072.1,1710 C2072.7,1717.3 2073.3,1724.7 2073.9,1732 C2074.5,1739.3 2075.1,1746.7 2075.6,1754 C2076.2,1761.3 2076.8,1768.7 2077.4,1776 C2078,1783.3 2078.4,1790.7 2079,1798 C2079.5,1805.3 2080,1812.7 2080.5,1820 C2081.1,1827.3 2081.6,1834.7 2082.1,1842 C2082.6,1849.3 2083.2,1856.7 2083.7,1864 C2084.2,1871.3 2084.7,1878.7 2085.3,1886 C2085.8,1893.3 2086.3,1900.7 2086.8,1908 C2087.4,1915.3 2087.8,1922.7 2088.4,1930 C2089,1937.3 2089.6,1944.7 2090.2,1952 C2090.7,1959.3 2091.3,1966.7 2091.9,1974 C2092.5,1981.3 2093.1,1988.7 2093.7,1996 C2094.3,2003.3 2094.9,2010.7 2095.4,2018 C2096,2025.3 2096.3,2032.6 2097.2,2040 C2098.1,2047.7 2099.6,2055.6 2100.9,2063.5 C2102.1,2071.3 2103.3,2079.1 2104.5,2086.9 C2105.8,2094.8 2105.7,2103.9 2108.2,2110.4 C2110.3,2115.7 2114.1,2119.2 2117,2123.6 C2119.9,2128 2123,2131.7 2125.8,2136.8 C2129.3,2143.1 2132.4,2151.5 2135.7,2158.8 C2139,2166.1 2141.7,2174.6 2145.6,2180.8 C2148.9,2186 2151.5,2192.2 2156.6,2194 C2162.7,2196.2 2173.5,2192 2180.8,2189.6 C2187.3,2187.4 2192.5,2183.7 2198.4,2180.8 C2204.3,2177.9 2211.5,2176.1 2216,2172 C2220.2,2168.2 2222.2,2162.5 2225.2,2157.7 C2228.3,2152.9 2231.4,2148.2 2234.5,2143.4 L2234.5,2220.5 Z" fill="url(#gf4)"/>
<path d="M208,2214 L473,2214 L479,2211 L484,2200 L489,2170 L494,2083 L498,1995 L502,1863 L505,1664 L510.4,1509 L515,1494 L521,1465 L527.3,1445 L534,1465 L541,1494 L545.4,1509 L550,1664 L553,1863 L557,1995 L561,2083 L566,2170 L571,2200 L576,2211 L582,2214 L660,2214 C662.1,2212.9 663.8,2211.5 666.2,2210.6 C669.2,2209.5 673.1,2210.5 676.7,2208.7 C681.8,2206.2 687.3,2198.4 692.4,2194.3 C696.8,2190.7 701.1,2188 705.5,2185.1 C709.8,2182.3 713.8,2179.5 718.7,2177.3 C724.2,2174.8 731.4,2172.7 737,2171.3 C741.7,2170.1 745.7,2169.8 750.1,2169.1 C754.5,2168.3 758.6,2167 763.2,2166.8 C768.2,2166.6 773.5,2167.5 779,2168.1 C784.9,2168.8 791.7,2171 797.3,2170.7 C802.1,2170.4 805.8,2167.4 810.4,2167.3 C815.4,2167.2 821.2,2169.2 826.2,2170.7 C830.8,2172.1 834.2,2175.4 839.3,2176 C845.9,2176.7 856.2,2171.9 862.9,2172 C867.9,2172.1 871.6,2173.8 876,2174.7 C880.4,2175.5 884.7,2176.6 889.1,2177.3 C893.5,2178 897.8,2178.4 902.2,2179 C906.6,2179.6 910.9,2180.3 915.3,2180.7 C919.7,2181.1 924,2181.3 928.4,2181.6 C932.8,2181.9 936.7,2181.7 941.5,2182.5 C947.7,2183.5 955.8,2186.9 962.5,2187.8 C968.5,2188.6 974.1,2188.1 980,2188.2 C985.8,2188.4 991.6,2188.5 997.4,2188.7 C1003.3,2188.8 1009,2188.4 1014.9,2189.1 C1021,2189.8 1027.2,2192.3 1033.3,2193 C1039.2,2193.7 1044.9,2193.2 1050.8,2193.3 C1056.6,2193.4 1062.4,2193.4 1068.2,2193.5 C1074.1,2193.6 1080.2,2195 1085.7,2193.8 C1091.2,2192.6 1096.7,2188.3 1101.5,2186.5 C1105.3,2185.1 1108.2,2183.4 1111.9,2183.3 C1116,2183.2 1121.8,2186.6 1125.1,2186.5 C1127.1,2186.5 1128,2185 1130,2185.1 C1133.3,2185.3 1138.7,2188.6 1143.1,2190.3 C1147.5,2192.1 1151.3,2194 1156.2,2195.6 C1162.3,2197.6 1170.4,2200 1177.2,2200.8 C1183.5,2201.6 1189.4,2200.8 1195.6,2200.8 C1201.7,2200.8 1207.8,2200.8 1213.9,2200.8 C1220.1,2200.8 1226.1,2201.7 1232.3,2200.8 C1239.1,2199.8 1245.8,2195.4 1253.2,2194.3 C1261.1,2193.2 1269.8,2194.5 1278.1,2194.6 C1286.4,2194.7 1294.7,2194.8 1303.1,2194.9 C1311.4,2195.1 1319.7,2195.2 1328,2195.3 C1336.3,2195.4 1345.6,2196.2 1352.9,2195.6 C1358.8,2195.1 1363.4,2193.8 1368.6,2192.9 C1373.8,2192.1 1379.3,2191 1384.3,2190.3 C1388.9,2189.7 1393,2189.4 1397.4,2189 C1401.8,2188.6 1405.9,2188.9 1410.5,2187.7 C1415.9,2186.3 1421.9,2182.9 1427.5,2180.5 C1433.2,2178.1 1438.8,2175.8 1444.6,2173.3 C1450.6,2170.7 1457.9,2169.7 1463,2165.4 C1468.6,2160.8 1471.7,2152.3 1476.1,2145.8 C1480.5,2139.2 1483.9,2131.6 1489.2,2126.1 C1494.4,2120.7 1503.2,2118.8 1507.6,2113 C1512.1,2107.1 1512.8,2098.1 1515.4,2090.7 C1518.1,2083.3 1521,2075.5 1523.3,2068.4 C1525.3,2062 1526.5,2056.2 1528.5,2050.1 C1530.5,2043.9 1531.6,2035 1535.1,2031.7 C1537.5,2029.4 1540.8,2029.4 1544.3,2029.1 C1548.8,2028.7 1556.1,2031.6 1560,2030.4 C1562.9,2029.5 1564.3,2026.3 1566.6,2025.2 C1568.7,2024.2 1571.1,2023 1573.1,2023.8 C1576,2025 1578.7,2031.4 1580.9,2035.6 C1583.1,2039.9 1584.4,2044.8 1586.2,2049.4 C1588,2054 1589.7,2058.7 1591.5,2063.2 C1593.2,2067.6 1595,2071.9 1596.7,2076.3 C1598.4,2080.7 1599.7,2084.8 1601.9,2089.4 C1604.5,2094.8 1608.6,2100.8 1612,2106.4 C1615.3,2112.1 1618,2119.4 1622,2123.5 C1625.2,2126.8 1629.3,2127.9 1633,2130.2 C1636.7,2132.4 1640.1,2136.7 1644,2136.8 C1648.2,2137 1652.8,2132.4 1657.2,2130.2 C1661.6,2127.9 1665.9,2126.2 1670.4,2123.5 C1675.5,2120.4 1680.7,2116.2 1685.8,2112.5 C1690.9,2108.8 1695.5,2104.7 1701.2,2101.5 C1707.5,2098 1716.1,2092.3 1722.3,2092.7 C1727.4,2093 1731.4,2097.9 1735.9,2100.4 C1740.5,2103 1745,2107.6 1749.6,2108.2 C1753.9,2108.8 1758.4,2106 1762.8,2104.8 C1767.2,2103.7 1771.7,2103.2 1776,2101.5 C1780.5,2099.7 1784.8,2096.4 1789.2,2093.8 C1793.6,2091.3 1797.8,2089.5 1802.4,2086.2 C1808,2082.2 1816.1,2076.5 1820,2070.8 C1823.4,2065.9 1823.9,2060 1825.9,2054.7 C1827.8,2049.3 1829.8,2043.9 1831.7,2038.5 C1833.7,2033.2 1835.1,2027.4 1837.6,2022.4 C1840,2017.6 1843.5,2013.6 1846.4,2009.2 C1849.3,2004.8 1852.3,2000.2 1855.2,1996 C1857.8,1992.2 1860.3,1988.7 1862.9,1985 C1865.5,1981.3 1868.5,1978.1 1870.6,1974 C1873,1969.4 1874.3,1963.7 1876.1,1958.6 C1877.9,1953.5 1879.3,1948.1 1881.6,1943.2 C1883.9,1938.2 1887.2,1933.7 1889.9,1928.9 C1892.7,1924.1 1894.8,1915.1 1898.3,1914.6 C1902.1,1914 1908.7,1922.4 1912.4,1927.8 C1916.5,1933.6 1918.3,1941.7 1921.2,1948.7 C1924.1,1955.7 1927.2,1963.1 1930,1969.6 C1932.5,1975.3 1934.9,1980.4 1937.3,1985.7 C1939.8,1991.1 1942.2,1996.5 1944.7,2001.9 C1947.1,2007.2 1949,2012.8 1952,2018 C1955.1,2023.3 1959.3,2028.3 1963,2033.4 C1966.7,2038.5 1971,2043.7 1974,2048.8 C1976.7,2053.3 1978.4,2057.6 1980.6,2062 C1982.8,2066.4 1985.3,2070.4 1987.2,2075.2 C1989.4,2080.6 1990.9,2086.9 1992.7,2092.8 C1994.5,2098.7 1995.6,2104.7 1998.2,2110.4 C2001,2116.5 2005.5,2127.6 2009.2,2128 C2012.1,2128.3 2016,2123 2018,2119.2 C2020.4,2114.6 2020,2107.5 2020.9,2101.6 C2021.9,2095.7 2022.9,2089.9 2023.9,2084 C2024.8,2078.1 2026,2072.7 2026.8,2066.4 C2027.7,2059.3 2028,2051.1 2028.6,2043.5 C2029.1,2035.9 2029.7,2028.3 2030.3,2020.6 C2030.9,2013 2031.5,2005.4 2032.1,1997.8 C2032.7,1990.1 2033.3,1982.5 2033.8,1974.9 C2034.4,1967.3 2035.1,1959.6 2035.6,1952 C2036.1,1944.6 2036.4,1937.3 2036.9,1930 C2037.3,1922.7 2037.7,1915.3 2038.1,1908 C2038.5,1900.7 2039,1893.3 2039.4,1886 C2039.8,1878.7 2040.2,1871.3 2040.6,1864 C2041,1856.7 2041.5,1849.3 2041.9,1842 C2042.3,1834.7 2042.7,1827.3 2043.1,1820 C2043.6,1812.7 2043.9,1805.3 2044.4,1798 C2044.9,1790.7 2045.4,1783.3 2045.9,1776 C2046.4,1768.7 2046.8,1761.3 2047.3,1754 C2047.8,1746.7 2048.3,1739.3 2048.8,1732 C2049.3,1724.7 2049.8,1717.3 2050.3,1710 C2050.8,1702.7 2051.2,1695.3 2051.7,1688 C2052.2,1680.7 2052.2,1672.8 2053.2,1666 C2054.1,1660.1 2055.7,1655 2056.9,1649.5 C2058.2,1644 2059.4,1633 2060.7,1633 C2062,1633 2063.3,1644 2064.6,1649.5 C2066,1655 2067.7,1660.1 2068.6,1666 C2069.7,1672.8 2069.8,1680.7 2070.4,1688 C2070.9,1695.3 2071.5,1702.7 2072.1,1710 C2072.7,1717.3 2073.3,1724.7 2073.9,1732 C2074.5,1739.3 2075.1,1746.7 2075.6,1754 C2076.2,1761.3 2076.8,1768.7 2077.4,1776 C2078,1783.3 2078.4,1790.7 2079,1798 C2079.5,1805.3 2080,1812.7 2080.5,1820 C2081.1,1827.3 2081.6,1834.7 2082.1,1842 C2082.6,1849.3 2083.2,1856.7 2083.7,1864 C2084.2,1871.3 2084.7,1878.7 2085.3,1886 C2085.8,1893.3 2086.3,1900.7 2086.8,1908 C2087.4,1915.3 2087.8,1922.7 2088.4,1930 C2089,1937.3 2089.6,1944.7 2090.2,1952 C2090.7,1959.3 2091.3,1966.7 2091.9,1974 C2092.5,1981.3 2093.1,1988.7 2093.7,1996 C2094.3,2003.3 2094.9,2010.7 2095.4,2018 C2096,2025.3 2096.3,2032.6 2097.2,2040 C2098.1,2047.7 2099.6,2055.6 2100.9,2063.5 C2102.1,2071.3 2103.3,2079.1 2104.5,2086.9 C2105.8,2094.8 2105.7,2103.9 2108.2,2110.4 C2110.3,2115.7 2114.1,2119.2 2117,2123.6 C2119.9,2128 2123,2131.7 2125.8,2136.8 C2129.3,2143.1 2132.4,2151.5 2135.7,2158.8 C2139,2166.1 2141.7,2174.6 2145.6,2180.8 C2148.9,2186 2151.5,2192.2 2156.6,2194 C2162.7,2196.2 2173.5,2192 2180.8,2189.6 C2187.3,2187.4 2192.5,2183.7 2198.4,2180.8 C2204.3,2177.9 2211.5,2176.1 2216,2172 C2220.2,2168.2 2222.2,2162.5 2225.2,2157.7 C2228.3,2152.9 2231.4,2148.2 2234.5,2143.4" fill="none" stroke="#e0388a" stroke-width="2.3" stroke-linejoin="round"/>
<clipPath id="clipO"><path d="M208,2220.5 L208,2214 L470.8,2213.9 L478.9,2213.4 L487,2209.1 L495.1,2187.2 L503.2,2113.7 L511.3,1956.9 L519.4,1761.7 L527.5,1668 L535.6,1761.7 L543.7,1956.9 L551.8,2113.7 L559.9,2187.2 L568,2209.1 L576.1,2213.4 L584.2,2213.9 L590,2214 L700,2214 C705.3,2212.7 710.8,2211.2 716,2210 C720.9,2208.8 725.6,2207.8 730.5,2206.8 C735.3,2205.7 740,2204.8 744.9,2203.5 C750.1,2202.1 755.4,2200.3 760.6,2198.7 C765.8,2197 770.7,2195.6 776.3,2193.8 C782.8,2191.7 790.8,2189 797.3,2186.5 C803,2184.3 807.9,2181.3 813,2179.9 C817.5,2178.6 821.8,2178.6 826.1,2177.9 C830.5,2177.3 834.8,2177.1 839.3,2176 C844.4,2174.8 849.4,2172.9 855,2170.7 C861.5,2168.2 869.8,2163.8 876,2161.5 C880.8,2159.7 884.7,2158.9 889.1,2157.6 C893.5,2156.3 897.9,2155.1 902.2,2153.7 C906.6,2152.3 910.9,2150.6 915.3,2149.1 C919.7,2147.6 924,2145.7 928.4,2144.5 C932.7,2143.3 937.1,2142.8 941.5,2141.9 C945.9,2141 950.2,2140.3 954.6,2139.3 C959,2138.3 963.4,2137.1 967.8,2136 C972.1,2134.9 976.3,2133.9 980.9,2132.7 C985.9,2131.4 991.4,2130.1 996.6,2128.8 C1001.8,2127.4 1006.9,2125.8 1012.3,2124.8 C1017.8,2123.8 1023.7,2123.5 1029.3,2122.9 C1035,2122.2 1041.1,2121.9 1046.4,2120.9 C1051.1,2120.1 1055.1,2118.7 1059.5,2117.7 C1063.9,2116.6 1068.1,2116.6 1072.6,2114.4 C1078.5,2111.5 1086.2,2105.8 1091,2099.9 C1095.8,2094 1097.5,2084.5 1101.5,2079 C1104.7,2074.6 1108.4,2068.6 1111.9,2068.5 C1115.3,2068.4 1119.3,2074.5 1122.4,2077.7 C1125.3,2080.6 1127.4,2083.2 1130,2086.8 C1133.4,2091.5 1137,2098.2 1140.5,2103.9 C1144,2109.5 1147.1,2116 1151,2120.9 C1154.4,2125.2 1158.4,2128.3 1162.2,2132 C1165.9,2135.7 1169.6,2143.1 1173.3,2143.1 C1177,2143.1 1180.7,2135.7 1184.4,2132 C1188.1,2128.3 1191,2123.3 1195.5,2120.9 C1200.3,2118.4 1206.9,2118.7 1212.5,2117.6 C1218.2,2116.5 1224.4,2116.9 1229.6,2114.3 C1235.4,2111.4 1240.7,2104.1 1245.4,2099.9 C1249,2096.7 1251.9,2094.2 1255.2,2091.4 C1258.5,2088.5 1261.5,2083.1 1265,2082.8 C1268.5,2082.5 1272.4,2087.2 1276.2,2089.4 C1279.9,2091.5 1283.4,2093.7 1287.3,2095.9 C1291.5,2098.3 1296,2100.7 1300.4,2103.2 C1304.8,2105.6 1308.8,2108.1 1313.5,2110.4 C1318.7,2113 1324.9,2115.2 1330.5,2117.6 C1336.2,2120 1341.7,2123.2 1347.6,2124.8 C1353.5,2126.4 1360.4,2127.1 1366,2127.4 C1370.7,2127.6 1374.7,2127 1379.1,2126.8 C1383.5,2126.5 1387.9,2126.9 1392.2,2126.1 C1396.6,2125.2 1400.9,2123 1405.3,2121.5 C1409.7,2120 1413.5,2118.1 1418.4,2116.9 C1424.2,2115.5 1431.5,2115.2 1438.1,2114.3 C1444.6,2113.4 1452,2113.9 1457.7,2111.7 C1462.8,2109.7 1466.5,2105.6 1470.8,2102.5 C1475.2,2099.4 1478.7,2095.1 1484,2093.3 C1490.5,2091.1 1502.3,2095.6 1507.6,2092 C1512.3,2088.8 1512.8,2080.6 1515.4,2074.9 C1518.1,2069.3 1520.5,2063.1 1523.3,2057.9 C1525.8,2053.2 1527.2,2046.9 1531.2,2044.8 C1535.6,2042.5 1544.2,2047.8 1549.5,2046.1 C1554.6,2044.5 1558.8,2039.9 1562.6,2035.6 C1566.8,2030.9 1569.5,2021.6 1573.1,2018.6 C1575.3,2016.8 1577.5,2015.5 1579.7,2016 C1582.8,2016.8 1585.4,2022.9 1588.8,2026.5 C1592.7,2030.7 1596.5,2037.3 1601.9,2039.6 C1607.5,2042 1615.3,2038.6 1622,2040 C1629.3,2041.5 1636.5,2047.6 1644,2048.8 C1651.2,2050 1658.7,2048.1 1666,2047.7 C1673.3,2047.3 1682.7,2049.2 1688,2046.6 C1692.1,2044.6 1693.9,2040 1696.8,2036.7 C1699.7,2033.4 1702,2030.2 1705.6,2026.8 C1710.1,2022.5 1717.2,2012.9 1722.3,2013.5 C1727.5,2014.1 1732.7,2025.1 1736.4,2031.2 C1739.8,2036.9 1741.5,2042.9 1744.1,2048.8 C1746.7,2054.7 1748.5,2061.1 1751.8,2066.4 C1755.1,2071.7 1759.9,2075.9 1763.9,2080.7 C1767.9,2085.5 1772,2089.7 1776,2095 C1780.5,2100.9 1783.9,2110.4 1789.2,2114.8 C1793.7,2118.5 1799.4,2119.8 1804.6,2121.3 C1809.6,2122.7 1814.9,2122.2 1820,2123.5 C1825.2,2124.8 1830.3,2127.2 1835.4,2129 C1840.5,2130.8 1845.2,2134.6 1850.8,2134.5 C1857.5,2134.4 1866.8,2128.7 1872.8,2125.7 C1877.2,2123.5 1880.1,2121.3 1883.8,2119.1 C1887.5,2116.9 1890.8,2114.2 1894.8,2112.5 C1898.9,2110.7 1903.6,2110 1908,2108.8 C1912.4,2107.5 1916.7,2104.8 1921.2,2105 C1926.2,2105.2 1931.5,2109 1936.6,2111 C1941.7,2113 1946.6,2115.6 1952,2117 C1957.6,2118.4 1964,2120.8 1969.6,2119.2 C1975.9,2117.4 1983,2104.2 1987.2,2105 C1990.4,2105.6 1991.6,2112.7 1993.8,2116.5 C1996,2120.3 1998.5,2123.6 2000.4,2128 C2002.6,2133.1 2004.1,2139.7 2005.9,2145.6 C2007.7,2151.4 2008.2,2159 2011.4,2163.1 C2014.1,2166.5 2018.6,2169.9 2022.4,2169.7 C2026.7,2169.5 2031.2,2163.1 2035.6,2159.8 C2040,2156.6 2044.5,2149.7 2048.8,2150 C2053.3,2150.3 2058.6,2158.4 2062,2163.1 C2065,2167.3 2066.4,2171.9 2068.6,2176.3 C2070.8,2180.8 2072,2185.1 2075.2,2189.6 C2079.4,2195.4 2087,2203.3 2092.8,2207.1 C2097.2,2210 2101,2211.4 2106,2212.4 C2111.9,2213.5 2119.5,2212.4 2126.2,2212.4 C2132.9,2212.4 2139.7,2212.4 2146.4,2212.4 C2153.1,2212.4 2159.9,2212.4 2166.6,2212.4 C2173.3,2212.4 2180.1,2212.4 2186.8,2212.4 C2193.5,2212.4 2201,2213 2207,2212.4 C2211.9,2211.9 2215.9,2210.6 2220.3,2209.7 C2224.7,2208.8 2231.8,2208 2233.6,2207 C2234.2,2206.7 2234.2,2206.3 2234.5,2206 L2234.5,2220.5 Z"/></clipPath>
<path d="M208,2220.5 L208,2214 L470.8,2213.9 L478.9,2213.4 L487,2209.1 L495.1,2187.2 L503.2,2113.7 L511.3,1956.9 L519.4,1761.7 L527.5,1668 L535.6,1761.7 L543.7,1956.9 L551.8,2113.7 L559.9,2187.2 L568,2209.1 L576.1,2213.4 L584.2,2213.9 L590,2214 L700,2214 C705.3,2212.7 710.8,2211.2 716,2210 C720.9,2208.8 725.6,2207.8 730.5,2206.8 C735.3,2205.7 740,2204.8 744.9,2203.5 C750.1,2202.1 755.4,2200.3 760.6,2198.7 C765.8,2197 770.7,2195.6 776.3,2193.8 C782.8,2191.7 790.8,2189 797.3,2186.5 C803,2184.3 807.9,2181.3 813,2179.9 C817.5,2178.6 821.8,2178.6 826.1,2177.9 C830.5,2177.3 834.8,2177.1 839.3,2176 C844.4,2174.8 849.4,2172.9 855,2170.7 C861.5,2168.2 869.8,2163.8 876,2161.5 C880.8,2159.7 884.7,2158.9 889.1,2157.6 C893.5,2156.3 897.9,2155.1 902.2,2153.7 C906.6,2152.3 910.9,2150.6 915.3,2149.1 C919.7,2147.6 924,2145.7 928.4,2144.5 C932.7,2143.3 937.1,2142.8 941.5,2141.9 C945.9,2141 950.2,2140.3 954.6,2139.3 C959,2138.3 963.4,2137.1 967.8,2136 C972.1,2134.9 976.3,2133.9 980.9,2132.7 C985.9,2131.4 991.4,2130.1 996.6,2128.8 C1001.8,2127.4 1006.9,2125.8 1012.3,2124.8 C1017.8,2123.8 1023.7,2123.5 1029.3,2122.9 C1035,2122.2 1041.1,2121.9 1046.4,2120.9 C1051.1,2120.1 1055.1,2118.7 1059.5,2117.7 C1063.9,2116.6 1068.1,2116.6 1072.6,2114.4 C1078.5,2111.5 1086.2,2105.8 1091,2099.9 C1095.8,2094 1097.5,2084.5 1101.5,2079 C1104.7,2074.6 1108.4,2068.6 1111.9,2068.5 C1115.3,2068.4 1119.3,2074.5 1122.4,2077.7 C1125.3,2080.6 1127.4,2083.2 1130,2086.8 C1133.4,2091.5 1137,2098.2 1140.5,2103.9 C1144,2109.5 1147.1,2116 1151,2120.9 C1154.4,2125.2 1158.4,2128.3 1162.2,2132 C1165.9,2135.7 1169.6,2143.1 1173.3,2143.1 C1177,2143.1 1180.7,2135.7 1184.4,2132 C1188.1,2128.3 1191,2123.3 1195.5,2120.9 C1200.3,2118.4 1206.9,2118.7 1212.5,2117.6 C1218.2,2116.5 1224.4,2116.9 1229.6,2114.3 C1235.4,2111.4 1240.7,2104.1 1245.4,2099.9 C1249,2096.7 1251.9,2094.2 1255.2,2091.4 C1258.5,2088.5 1261.5,2083.1 1265,2082.8 C1268.5,2082.5 1272.4,2087.2 1276.2,2089.4 C1279.9,2091.5 1283.4,2093.7 1287.3,2095.9 C1291.5,2098.3 1296,2100.7 1300.4,2103.2 C1304.8,2105.6 1308.8,2108.1 1313.5,2110.4 C1318.7,2113 1324.9,2115.2 1330.5,2117.6 C1336.2,2120 1341.7,2123.2 1347.6,2124.8 C1353.5,2126.4 1360.4,2127.1 1366,2127.4 C1370.7,2127.6 1374.7,2127 1379.1,2126.8 C1383.5,2126.5 1387.9,2126.9 1392.2,2126.1 C1396.6,2125.2 1400.9,2123 1405.3,2121.5 C1409.7,2120 1413.5,2118.1 1418.4,2116.9 C1424.2,2115.5 1431.5,2115.2 1438.1,2114.3 C1444.6,2113.4 1452,2113.9 1457.7,2111.7 C1462.8,2109.7 1466.5,2105.6 1470.8,2102.5 C1475.2,2099.4 1478.7,2095.1 1484,2093.3 C1490.5,2091.1 1502.3,2095.6 1507.6,2092 C1512.3,2088.8 1512.8,2080.6 1515.4,2074.9 C1518.1,2069.3 1520.5,2063.1 1523.3,2057.9 C1525.8,2053.2 1527.2,2046.9 1531.2,2044.8 C1535.6,2042.5 1544.2,2047.8 1549.5,2046.1 C1554.6,2044.5 1558.8,2039.9 1562.6,2035.6 C1566.8,2030.9 1569.5,2021.6 1573.1,2018.6 C1575.3,2016.8 1577.5,2015.5 1579.7,2016 C1582.8,2016.8 1585.4,2022.9 1588.8,2026.5 C1592.7,2030.7 1596.5,2037.3 1601.9,2039.6 C1607.5,2042 1615.3,2038.6 1622,2040 C1629.3,2041.5 1636.5,2047.6 1644,2048.8 C1651.2,2050 1658.7,2048.1 1666,2047.7 C1673.3,2047.3 1682.7,2049.2 1688,2046.6 C1692.1,2044.6 1693.9,2040 1696.8,2036.7 C1699.7,2033.4 1702,2030.2 1705.6,2026.8 C1710.1,2022.5 1717.2,2012.9 1722.3,2013.5 C1727.5,2014.1 1732.7,2025.1 1736.4,2031.2 C1739.8,2036.9 1741.5,2042.9 1744.1,2048.8 C1746.7,2054.7 1748.5,2061.1 1751.8,2066.4 C1755.1,2071.7 1759.9,2075.9 1763.9,2080.7 C1767.9,2085.5 1772,2089.7 1776,2095 C1780.5,2100.9 1783.9,2110.4 1789.2,2114.8 C1793.7,2118.5 1799.4,2119.8 1804.6,2121.3 C1809.6,2122.7 1814.9,2122.2 1820,2123.5 C1825.2,2124.8 1830.3,2127.2 1835.4,2129 C1840.5,2130.8 1845.2,2134.6 1850.8,2134.5 C1857.5,2134.4 1866.8,2128.7 1872.8,2125.7 C1877.2,2123.5 1880.1,2121.3 1883.8,2119.1 C1887.5,2116.9 1890.8,2114.2 1894.8,2112.5 C1898.9,2110.7 1903.6,2110 1908,2108.8 C1912.4,2107.5 1916.7,2104.8 1921.2,2105 C1926.2,2105.2 1931.5,2109 1936.6,2111 C1941.7,2113 1946.6,2115.6 1952,2117 C1957.6,2118.4 1964,2120.8 1969.6,2119.2 C1975.9,2117.4 1983,2104.2 1987.2,2105 C1990.4,2105.6 1991.6,2112.7 1993.8,2116.5 C1996,2120.3 1998.5,2123.6 2000.4,2128 C2002.6,2133.1 2004.1,2139.7 2005.9,2145.6 C2007.7,2151.4 2008.2,2159 2011.4,2163.1 C2014.1,2166.5 2018.6,2169.9 2022.4,2169.7 C2026.7,2169.5 2031.2,2163.1 2035.6,2159.8 C2040,2156.6 2044.5,2149.7 2048.8,2150 C2053.3,2150.3 2058.6,2158.4 2062,2163.1 C2065,2167.3 2066.4,2171.9 2068.6,2176.3 C2070.8,2180.8 2072,2185.1 2075.2,2189.6 C2079.4,2195.4 2087,2203.3 2092.8,2207.1 C2097.2,2210 2101,2211.4 2106,2212.4 C2111.9,2213.5 2119.5,2212.4 2126.2,2212.4 C2132.9,2212.4 2139.7,2212.4 2146.4,2212.4 C2153.1,2212.4 2159.9,2212.4 2166.6,2212.4 C2173.3,2212.4 2180.1,2212.4 2186.8,2212.4 C2193.5,2212.4 2201,2213 2207,2212.4 C2211.9,2211.9 2215.9,2210.6 2220.3,2209.7 C2224.7,2208.8 2231.8,2208 2233.6,2207 C2234.2,2206.7 2234.2,2206.3 2234.5,2206 L2234.5,2220.5 Z" fill="url(#gf5)" fill-opacity="0.88"/>
<path d="M208,2214 L473,2214 L479,2211 L484,2200 L489,2170 L494,2083 L498,1995 L502,1863 L505,1664 L510.4,1509 L515,1494 L521,1465 L527.3,1445 L534,1465 L541,1494 L545.4,1509 L550,1664 L553,1863 L557,1995 L561,2083 L566,2170 L571,2200 L576,2211 L582,2214 L660,2214 C662.1,2212.9 663.8,2211.5 666.2,2210.6 C669.2,2209.5 673.1,2210.5 676.7,2208.7 C681.8,2206.2 687.3,2198.4 692.4,2194.3 C696.8,2190.7 701.1,2188 705.5,2185.1 C709.8,2182.3 713.8,2179.5 718.7,2177.3 C724.2,2174.8 731.4,2172.7 737,2171.3 C741.7,2170.1 745.7,2169.8 750.1,2169.1 C754.5,2168.3 758.6,2167 763.2,2166.8 C768.2,2166.6 773.5,2167.5 779,2168.1 C784.9,2168.8 791.7,2171 797.3,2170.7 C802.1,2170.4 805.8,2167.4 810.4,2167.3 C815.4,2167.2 821.2,2169.2 826.2,2170.7 C830.8,2172.1 834.2,2175.4 839.3,2176 C845.9,2176.7 856.2,2171.9 862.9,2172 C867.9,2172.1 871.6,2173.8 876,2174.7 C880.4,2175.5 884.7,2176.6 889.1,2177.3 C893.5,2178 897.8,2178.4 902.2,2179 C906.6,2179.6 910.9,2180.3 915.3,2180.7 C919.7,2181.1 924,2181.3 928.4,2181.6 C932.8,2181.9 936.7,2181.7 941.5,2182.5 C947.7,2183.5 955.8,2186.9 962.5,2187.8 C968.5,2188.6 974.1,2188.1 980,2188.2 C985.8,2188.4 991.6,2188.5 997.4,2188.7 C1003.3,2188.8 1009,2188.4 1014.9,2189.1 C1021,2189.8 1027.2,2192.3 1033.3,2193 C1039.2,2193.7 1044.9,2193.2 1050.8,2193.3 C1056.6,2193.4 1062.4,2193.4 1068.2,2193.5 C1074.1,2193.6 1080.2,2195 1085.7,2193.8 C1091.2,2192.6 1096.7,2188.3 1101.5,2186.5 C1105.3,2185.1 1108.2,2183.4 1111.9,2183.3 C1116,2183.2 1121.8,2186.6 1125.1,2186.5 C1127.1,2186.5 1128,2185 1130,2185.1 C1133.3,2185.3 1138.7,2188.6 1143.1,2190.3 C1147.5,2192.1 1151.3,2194 1156.2,2195.6 C1162.3,2197.6 1170.4,2200 1177.2,2200.8 C1183.5,2201.6 1189.4,2200.8 1195.6,2200.8 C1201.7,2200.8 1207.8,2200.8 1213.9,2200.8 C1220.1,2200.8 1226.1,2201.7 1232.3,2200.8 C1239.1,2199.8 1245.8,2195.4 1253.2,2194.3 C1261.1,2193.2 1269.8,2194.5 1278.1,2194.6 C1286.4,2194.7 1294.7,2194.8 1303.1,2194.9 C1311.4,2195.1 1319.7,2195.2 1328,2195.3 C1336.3,2195.4 1345.6,2196.2 1352.9,2195.6 C1358.8,2195.1 1363.4,2193.8 1368.6,2192.9 C1373.8,2192.1 1379.3,2191 1384.3,2190.3 C1388.9,2189.7 1393,2189.4 1397.4,2189 C1401.8,2188.6 1405.9,2188.9 1410.5,2187.7 C1415.9,2186.3 1421.9,2182.9 1427.5,2180.5 C1433.2,2178.1 1438.8,2175.8 1444.6,2173.3 C1450.6,2170.7 1457.9,2169.7 1463,2165.4 C1468.6,2160.8 1471.7,2152.3 1476.1,2145.8 C1480.5,2139.2 1483.9,2131.6 1489.2,2126.1 C1494.4,2120.7 1503.2,2118.8 1507.6,2113 C1512.1,2107.1 1512.8,2098.1 1515.4,2090.7 C1518.1,2083.3 1521,2075.5 1523.3,2068.4 C1525.3,2062 1526.5,2056.2 1528.5,2050.1 C1530.5,2043.9 1531.6,2035 1535.1,2031.7 C1537.5,2029.4 1540.8,2029.4 1544.3,2029.1 C1548.8,2028.7 1556.1,2031.6 1560,2030.4 C1562.9,2029.5 1564.3,2026.3 1566.6,2025.2 C1568.7,2024.2 1571.1,2023 1573.1,2023.8 C1576,2025 1578.7,2031.4 1580.9,2035.6 C1583.1,2039.9 1584.4,2044.8 1586.2,2049.4 C1588,2054 1589.7,2058.7 1591.5,2063.2 C1593.2,2067.6 1595,2071.9 1596.7,2076.3 C1598.4,2080.7 1599.7,2084.8 1601.9,2089.4 C1604.5,2094.8 1608.6,2100.8 1612,2106.4 C1615.3,2112.1 1618,2119.4 1622,2123.5 C1625.2,2126.8 1629.3,2127.9 1633,2130.2 C1636.7,2132.4 1640.1,2136.7 1644,2136.8 C1648.2,2137 1652.8,2132.4 1657.2,2130.2 C1661.6,2127.9 1665.9,2126.2 1670.4,2123.5 C1675.5,2120.4 1680.7,2116.2 1685.8,2112.5 C1690.9,2108.8 1695.5,2104.7 1701.2,2101.5 C1707.5,2098 1716.1,2092.3 1722.3,2092.7 C1727.4,2093 1731.4,2097.9 1735.9,2100.4 C1740.5,2103 1745,2107.6 1749.6,2108.2 C1753.9,2108.8 1758.4,2106 1762.8,2104.8 C1767.2,2103.7 1771.7,2103.2 1776,2101.5 C1780.5,2099.7 1784.8,2096.4 1789.2,2093.8 C1793.6,2091.3 1797.8,2089.5 1802.4,2086.2 C1808,2082.2 1816.1,2076.5 1820,2070.8 C1823.4,2065.9 1823.9,2060 1825.9,2054.7 C1827.8,2049.3 1829.8,2043.9 1831.7,2038.5 C1833.7,2033.2 1835.1,2027.4 1837.6,2022.4 C1840,2017.6 1843.5,2013.6 1846.4,2009.2 C1849.3,2004.8 1852.3,2000.2 1855.2,1996 C1857.8,1992.2 1860.3,1988.7 1862.9,1985 C1865.5,1981.3 1868.5,1978.1 1870.6,1974 C1873,1969.4 1874.3,1963.7 1876.1,1958.6 C1877.9,1953.5 1879.3,1948.1 1881.6,1943.2 C1883.9,1938.2 1887.2,1933.7 1889.9,1928.9 C1892.7,1924.1 1894.8,1915.1 1898.3,1914.6 C1902.1,1914 1908.7,1922.4 1912.4,1927.8 C1916.5,1933.6 1918.3,1941.7 1921.2,1948.7 C1924.1,1955.7 1927.2,1963.1 1930,1969.6 C1932.5,1975.3 1934.9,1980.4 1937.3,1985.7 C1939.8,1991.1 1942.2,1996.5 1944.7,2001.9 C1947.1,2007.2 1949,2012.8 1952,2018 C1955.1,2023.3 1959.3,2028.3 1963,2033.4 C1966.7,2038.5 1971,2043.7 1974,2048.8 C1976.7,2053.3 1978.4,2057.6 1980.6,2062 C1982.8,2066.4 1985.3,2070.4 1987.2,2075.2 C1989.4,2080.6 1990.9,2086.9 1992.7,2092.8 C1994.5,2098.7 1995.6,2104.7 1998.2,2110.4 C2001,2116.5 2005.5,2127.6 2009.2,2128 C2012.1,2128.3 2016,2123 2018,2119.2 C2020.4,2114.6 2020,2107.5 2020.9,2101.6 C2021.9,2095.7 2022.9,2089.9 2023.9,2084 C2024.8,2078.1 2026,2072.7 2026.8,2066.4 C2027.7,2059.3 2028,2051.1 2028.6,2043.5 C2029.1,2035.9 2029.7,2028.3 2030.3,2020.6 C2030.9,2013 2031.5,2005.4 2032.1,1997.8 C2032.7,1990.1 2033.3,1982.5 2033.8,1974.9 C2034.4,1967.3 2035.1,1959.6 2035.6,1952 C2036.1,1944.6 2036.4,1937.3 2036.9,1930 C2037.3,1922.7 2037.7,1915.3 2038.1,1908 C2038.5,1900.7 2039,1893.3 2039.4,1886 C2039.8,1878.7 2040.2,1871.3 2040.6,1864 C2041,1856.7 2041.5,1849.3 2041.9,1842 C2042.3,1834.7 2042.7,1827.3 2043.1,1820 C2043.6,1812.7 2043.9,1805.3 2044.4,1798 C2044.9,1790.7 2045.4,1783.3 2045.9,1776 C2046.4,1768.7 2046.8,1761.3 2047.3,1754 C2047.8,1746.7 2048.3,1739.3 2048.8,1732 C2049.3,1724.7 2049.8,1717.3 2050.3,1710 C2050.8,1702.7 2051.2,1695.3 2051.7,1688 C2052.2,1680.7 2052.2,1672.8 2053.2,1666 C2054.1,1660.1 2055.7,1655 2056.9,1649.5 C2058.2,1644 2059.4,1633 2060.7,1633 C2062,1633 2063.3,1644 2064.6,1649.5 C2066,1655 2067.7,1660.1 2068.6,1666 C2069.7,1672.8 2069.8,1680.7 2070.4,1688 C2070.9,1695.3 2071.5,1702.7 2072.1,1710 C2072.7,1717.3 2073.3,1724.7 2073.9,1732 C2074.5,1739.3 2075.1,1746.7 2075.6,1754 C2076.2,1761.3 2076.8,1768.7 2077.4,1776 C2078,1783.3 2078.4,1790.7 2079,1798 C2079.5,1805.3 2080,1812.7 2080.5,1820 C2081.1,1827.3 2081.6,1834.7 2082.1,1842 C2082.6,1849.3 2083.2,1856.7 2083.7,1864 C2084.2,1871.3 2084.7,1878.7 2085.3,1886 C2085.8,1893.3 2086.3,1900.7 2086.8,1908 C2087.4,1915.3 2087.8,1922.7 2088.4,1930 C2089,1937.3 2089.6,1944.7 2090.2,1952 C2090.7,1959.3 2091.3,1966.7 2091.9,1974 C2092.5,1981.3 2093.1,1988.7 2093.7,1996 C2094.3,2003.3 2094.9,2010.7 2095.4,2018 C2096,2025.3 2096.3,2032.6 2097.2,2040 C2098.1,2047.7 2099.6,2055.6 2100.9,2063.5 C2102.1,2071.3 2103.3,2079.1 2104.5,2086.9 C2105.8,2094.8 2105.7,2103.9 2108.2,2110.4 C2110.3,2115.7 2114.1,2119.2 2117,2123.6 C2119.9,2128 2123,2131.7 2125.8,2136.8 C2129.3,2143.1 2132.4,2151.5 2135.7,2158.8 C2139,2166.1 2141.7,2174.6 2145.6,2180.8 C2148.9,2186 2151.5,2192.2 2156.6,2194 C2162.7,2196.2 2173.5,2192 2180.8,2189.6 C2187.3,2187.4 2192.5,2183.7 2198.4,2180.8 C2204.3,2177.9 2211.5,2176.1 2216,2172 C2220.2,2168.2 2222.2,2162.5 2225.2,2157.7 C2228.3,2152.9 2231.4,2148.2 2234.5,2143.4" fill="none" stroke="#f2a0c2" stroke-width="2.3" stroke-linejoin="round" clip-path="url(#clipO)"/>
<path d="M208,2214 L470.8,2213.9 L478.9,2213.4 L487,2209.1 L495.1,2187.2 L503.2,2113.7 L511.3,1956.9 L519.4,1761.7 L527.5,1668 L535.6,1761.7 L543.7,1956.9 L551.8,2113.7 L559.9,2187.2 L568,2209.1 L576.1,2213.4 L584.2,2213.9 L590,2214 L700,2214 C705.3,2212.7 710.8,2211.2 716,2210 C720.9,2208.8 725.6,2207.8 730.5,2206.8 C735.3,2205.7 740,2204.8 744.9,2203.5 C750.1,2202.1 755.4,2200.3 760.6,2198.7 C765.8,2197 770.7,2195.6 776.3,2193.8 C782.8,2191.7 790.8,2189 797.3,2186.5 C803,2184.3 807.9,2181.3 813,2179.9 C817.5,2178.6 821.8,2178.6 826.1,2177.9 C830.5,2177.3 834.8,2177.1 839.3,2176 C844.4,2174.8 849.4,2172.9 855,2170.7 C861.5,2168.2 869.8,2163.8 876,2161.5 C880.8,2159.7 884.7,2158.9 889.1,2157.6 C893.5,2156.3 897.9,2155.1 902.2,2153.7 C906.6,2152.3 910.9,2150.6 915.3,2149.1 C919.7,2147.6 924,2145.7 928.4,2144.5 C932.7,2143.3 937.1,2142.8 941.5,2141.9 C945.9,2141 950.2,2140.3 954.6,2139.3 C959,2138.3 963.4,2137.1 967.8,2136 C972.1,2134.9 976.3,2133.9 980.9,2132.7 C985.9,2131.4 991.4,2130.1 996.6,2128.8 C1001.8,2127.4 1006.9,2125.8 1012.3,2124.8 C1017.8,2123.8 1023.7,2123.5 1029.3,2122.9 C1035,2122.2 1041.1,2121.9 1046.4,2120.9 C1051.1,2120.1 1055.1,2118.7 1059.5,2117.7 C1063.9,2116.6 1068.1,2116.6 1072.6,2114.4 C1078.5,2111.5 1086.2,2105.8 1091,2099.9 C1095.8,2094 1097.5,2084.5 1101.5,2079 C1104.7,2074.6 1108.4,2068.6 1111.9,2068.5 C1115.3,2068.4 1119.3,2074.5 1122.4,2077.7 C1125.3,2080.6 1127.4,2083.2 1130,2086.8 C1133.4,2091.5 1137,2098.2 1140.5,2103.9 C1144,2109.5 1147.1,2116 1151,2120.9 C1154.4,2125.2 1158.4,2128.3 1162.2,2132 C1165.9,2135.7 1169.6,2143.1 1173.3,2143.1 C1177,2143.1 1180.7,2135.7 1184.4,2132 C1188.1,2128.3 1191,2123.3 1195.5,2120.9 C1200.3,2118.4 1206.9,2118.7 1212.5,2117.6 C1218.2,2116.5 1224.4,2116.9 1229.6,2114.3 C1235.4,2111.4 1240.7,2104.1 1245.4,2099.9 C1249,2096.7 1251.9,2094.2 1255.2,2091.4 C1258.5,2088.5 1261.5,2083.1 1265,2082.8 C1268.5,2082.5 1272.4,2087.2 1276.2,2089.4 C1279.9,2091.5 1283.4,2093.7 1287.3,2095.9 C1291.5,2098.3 1296,2100.7 1300.4,2103.2 C1304.8,2105.6 1308.8,2108.1 1313.5,2110.4 C1318.7,2113 1324.9,2115.2 1330.5,2117.6 C1336.2,2120 1341.7,2123.2 1347.6,2124.8 C1353.5,2126.4 1360.4,2127.1 1366,2127.4 C1370.7,2127.6 1374.7,2127 1379.1,2126.8 C1383.5,2126.5 1387.9,2126.9 1392.2,2126.1 C1396.6,2125.2 1400.9,2123 1405.3,2121.5 C1409.7,2120 1413.5,2118.1 1418.4,2116.9 C1424.2,2115.5 1431.5,2115.2 1438.1,2114.3 C1444.6,2113.4 1452,2113.9 1457.7,2111.7 C1462.8,2109.7 1466.5,2105.6 1470.8,2102.5 C1475.2,2099.4 1478.7,2095.1 1484,2093.3 C1490.5,2091.1 1502.3,2095.6 1507.6,2092 C1512.3,2088.8 1512.8,2080.6 1515.4,2074.9 C1518.1,2069.3 1520.5,2063.1 1523.3,2057.9 C1525.8,2053.2 1527.2,2046.9 1531.2,2044.8 C1535.6,2042.5 1544.2,2047.8 1549.5,2046.1 C1554.6,2044.5 1558.8,2039.9 1562.6,2035.6 C1566.8,2030.9 1569.5,2021.6 1573.1,2018.6 C1575.3,2016.8 1577.5,2015.5 1579.7,2016 C1582.8,2016.8 1585.4,2022.9 1588.8,2026.5 C1592.7,2030.7 1596.5,2037.3 1601.9,2039.6 C1607.5,2042 1615.3,2038.6 1622,2040 C1629.3,2041.5 1636.5,2047.6 1644,2048.8 C1651.2,2050 1658.7,2048.1 1666,2047.7 C1673.3,2047.3 1682.7,2049.2 1688,2046.6 C1692.1,2044.6 1693.9,2040 1696.8,2036.7 C1699.7,2033.4 1702,2030.2 1705.6,2026.8 C1710.1,2022.5 1717.2,2012.9 1722.3,2013.5 C1727.5,2014.1 1732.7,2025.1 1736.4,2031.2 C1739.8,2036.9 1741.5,2042.9 1744.1,2048.8 C1746.7,2054.7 1748.5,2061.1 1751.8,2066.4 C1755.1,2071.7 1759.9,2075.9 1763.9,2080.7 C1767.9,2085.5 1772,2089.7 1776,2095 C1780.5,2100.9 1783.9,2110.4 1789.2,2114.8 C1793.7,2118.5 1799.4,2119.8 1804.6,2121.3 C1809.6,2122.7 1814.9,2122.2 1820,2123.5 C1825.2,2124.8 1830.3,2127.2 1835.4,2129 C1840.5,2130.8 1845.2,2134.6 1850.8,2134.5 C1857.5,2134.4 1866.8,2128.7 1872.8,2125.7 C1877.2,2123.5 1880.1,2121.3 1883.8,2119.1 C1887.5,2116.9 1890.8,2114.2 1894.8,2112.5 C1898.9,2110.7 1903.6,2110 1908,2108.8 C1912.4,2107.5 1916.7,2104.8 1921.2,2105 C1926.2,2105.2 1931.5,2109 1936.6,2111 C1941.7,2113 1946.6,2115.6 1952,2117 C1957.6,2118.4 1964,2120.8 1969.6,2119.2 C1975.9,2117.4 1983,2104.2 1987.2,2105 C1990.4,2105.6 1991.6,2112.7 1993.8,2116.5 C1996,2120.3 1998.5,2123.6 2000.4,2128 C2002.6,2133.1 2004.1,2139.7 2005.9,2145.6 C2007.7,2151.4 2008.2,2159 2011.4,2163.1 C2014.1,2166.5 2018.6,2169.9 2022.4,2169.7 C2026.7,2169.5 2031.2,2163.1 2035.6,2159.8 C2040,2156.6 2044.5,2149.7 2048.8,2150 C2053.3,2150.3 2058.6,2158.4 2062,2163.1 C2065,2167.3 2066.4,2171.9 2068.6,2176.3 C2070.8,2180.8 2072,2185.1 2075.2,2189.6 C2079.4,2195.4 2087,2203.3 2092.8,2207.1 C2097.2,2210 2101,2211.4 2106,2212.4 C2111.9,2213.5 2119.5,2212.4 2126.2,2212.4 C2132.9,2212.4 2139.7,2212.4 2146.4,2212.4 C2153.1,2212.4 2159.9,2212.4 2166.6,2212.4 C2173.3,2212.4 2180.1,2212.4 2186.8,2212.4 C2193.5,2212.4 2201,2213 2207,2212.4 C2211.9,2211.9 2215.9,2210.6 2220.3,2209.7 C2224.7,2208.8 2231.8,2208 2233.6,2207 C2234.2,2206.7 2234.2,2206.3 2234.5,2206" fill="none" stroke="#c77c14" stroke-width="2.3" stroke-linejoin="round"/>
<path d="M208,2220.5 L208,2214 L470.8,2213.9 L478.9,2213 L487,2209.1 L495.1,2196 L503.2,2163.9 L511.3,2110.2 L519.4,2053.2 L527.5,2028 L535.6,2053.2 L543.7,2110.2 L551.8,2163.9 L559.9,2196 L568,2209.1 L576.1,2213 L584.2,2213.9 L590,2214 L1100,2214 C1107.8,2214 1115.5,2214 1123.3,2214 C1131.1,2214 1138.8,2214 1146.6,2214 C1154.4,2214 1162.2,2214 1169.9,2214 C1177.7,2214 1185.5,2214 1193.2,2214 C1201,2214 1208.8,2214 1216.5,2214 C1224.3,2214 1232.1,2214 1239.8,2214 C1247.6,2214 1255.4,2214 1263.2,2213.9 C1270.9,2213.9 1278.7,2213.9 1286.5,2213.9 C1294.2,2213.9 1302,2213.9 1309.8,2213.9 C1317.5,2213.9 1325.3,2213.9 1333.1,2213.9 C1340.8,2213.9 1348.6,2213.9 1356.4,2213.9 C1364.1,2213.9 1371.9,2213.9 1379.7,2213.9 C1387.5,2213.9 1395.2,2213.9 1403,2213.9 C1410.8,2213.9 1418.9,2215 1426.3,2213.9 C1433.2,2212.9 1439.4,2210 1445.9,2208 C1452.5,2206 1459.8,2204.4 1465.6,2202.1 C1470.5,2200.2 1474.3,2197.7 1478.7,2195.6 C1483.1,2193.4 1487.1,2190.7 1491.8,2189 C1496.7,2187.2 1503,2188.1 1507.6,2185.1 C1512.9,2181.6 1515.9,2173.3 1520.7,2168 C1525.5,2162.8 1530.4,2156 1536.4,2153.6 C1542.2,2151.3 1549.5,2153.6 1556.1,2153.6 C1562.6,2153.6 1570,2151.1 1575.7,2153.6 C1581.9,2156.3 1586.9,2165.9 1591.5,2170.7 C1594.9,2174.3 1597.6,2176.8 1600.7,2179.8 C1603.7,2182.9 1606.3,2186.5 1609.8,2189 C1613.4,2191.6 1618.1,2192.6 1622,2195 C1625.9,2197.4 1629.3,2200.5 1633,2203.2 C1636.7,2206 1639.4,2209.9 1644,2211.5 C1649.8,2213.5 1658.7,2211.7 1666,2211.8 C1673.3,2212 1680.7,2212.1 1688,2212.2 C1695.3,2212.3 1702.7,2212.4 1710,2212.6 C1717.3,2212.7 1724.7,2213 1732,2212.9 C1739.3,2212.8 1746.7,2212.1 1754,2211.7 C1761.3,2211.3 1768.7,2210.9 1776,2210.5 C1783.3,2210.1 1790.9,2209.7 1798,2209.3 C1804.8,2208.9 1811.2,2208.6 1817.8,2208.2 C1824.4,2207.8 1831.7,2208 1837.6,2207.1 C1842.5,2206.4 1846.4,2204.9 1850.8,2203.8 C1855.2,2202.7 1859.3,2201.7 1864,2200.5 C1869.4,2199.1 1875.7,2197.6 1881.6,2196.1 C1887.5,2194.6 1893.5,2191.8 1899.2,2191.7 C1904.5,2191.6 1909.5,2193.9 1914.6,2195 C1919.7,2196.1 1924.4,2197.1 1930,2198.3 C1936.7,2199.7 1944.7,2201.2 1952,2202.7 C1959.3,2204.2 1967.1,2205.8 1974,2207.1 C1980.2,2208.2 1985.7,2209 1991.6,2210 C1997.5,2211 2002.9,2212.4 2009.2,2212.9 C2016.2,2213.5 2024.2,2213 2031.7,2213 C2039.2,2213 2046.8,2213.1 2054.3,2213.1 C2061.8,2213.2 2069.3,2213.2 2076.8,2213.2 C2084.3,2213.3 2091.8,2213.3 2099.3,2213.3 C2106.8,2213.4 2114.3,2213.4 2121.8,2213.4 C2129.4,2213.5 2136.9,2213.5 2144.4,2213.6 C2151.9,2213.6 2159.4,2213.6 2166.9,2213.7 C2174.4,2213.7 2181.9,2213.7 2189.4,2213.8 C2196.9,2213.8 2204.5,2213.9 2212,2213.9 C2219.5,2213.9 2227,2214 2234.5,2214 L2234.5,2220.5 Z" fill="url(#gf6)" fill-opacity="0.9"/>
<path d="M208,2214 L470.8,2213.9 L478.9,2213 L487,2209.1 L495.1,2196 L503.2,2163.9 L511.3,2110.2 L519.4,2053.2 L527.5,2028 L535.6,2053.2 L543.7,2110.2 L551.8,2163.9 L559.9,2196 L568,2209.1 L576.1,2213 L584.2,2213.9 L590,2214 L1100,2214 C1107.8,2214 1115.5,2214 1123.3,2214 C1131.1,2214 1138.8,2214 1146.6,2214 C1154.4,2214 1162.2,2214 1169.9,2214 C1177.7,2214 1185.5,2214 1193.2,2214 C1201,2214 1208.8,2214 1216.5,2214 C1224.3,2214 1232.1,2214 1239.8,2214 C1247.6,2214 1255.4,2214 1263.2,2213.9 C1270.9,2213.9 1278.7,2213.9 1286.5,2213.9 C1294.2,2213.9 1302,2213.9 1309.8,2213.9 C1317.5,2213.9 1325.3,2213.9 1333.1,2213.9 C1340.8,2213.9 1348.6,2213.9 1356.4,2213.9 C1364.1,2213.9 1371.9,2213.9 1379.7,2213.9 C1387.5,2213.9 1395.2,2213.9 1403,2213.9 C1410.8,2213.9 1418.9,2215 1426.3,2213.9 C1433.2,2212.9 1439.4,2210 1445.9,2208 C1452.5,2206 1459.8,2204.4 1465.6,2202.1 C1470.5,2200.2 1474.3,2197.7 1478.7,2195.6 C1483.1,2193.4 1487.1,2190.7 1491.8,2189 C1496.7,2187.2 1503,2188.1 1507.6,2185.1 C1512.9,2181.6 1515.9,2173.3 1520.7,2168 C1525.5,2162.8 1530.4,2156 1536.4,2153.6 C1542.2,2151.3 1549.5,2153.6 1556.1,2153.6 C1562.6,2153.6 1570,2151.1 1575.7,2153.6 C1581.9,2156.3 1586.9,2165.9 1591.5,2170.7 C1594.9,2174.3 1597.6,2176.8 1600.7,2179.8 C1603.7,2182.9 1606.3,2186.5 1609.8,2189 C1613.4,2191.6 1618.1,2192.6 1622,2195 C1625.9,2197.4 1629.3,2200.5 1633,2203.2 C1636.7,2206 1639.4,2209.9 1644,2211.5 C1649.8,2213.5 1658.7,2211.7 1666,2211.8 C1673.3,2212 1680.7,2212.1 1688,2212.2 C1695.3,2212.3 1702.7,2212.4 1710,2212.6 C1717.3,2212.7 1724.7,2213 1732,2212.9 C1739.3,2212.8 1746.7,2212.1 1754,2211.7 C1761.3,2211.3 1768.7,2210.9 1776,2210.5 C1783.3,2210.1 1790.9,2209.7 1798,2209.3 C1804.8,2208.9 1811.2,2208.6 1817.8,2208.2 C1824.4,2207.8 1831.7,2208 1837.6,2207.1 C1842.5,2206.4 1846.4,2204.9 1850.8,2203.8 C1855.2,2202.7 1859.3,2201.7 1864,2200.5 C1869.4,2199.1 1875.7,2197.6 1881.6,2196.1 C1887.5,2194.6 1893.5,2191.8 1899.2,2191.7 C1904.5,2191.6 1909.5,2193.9 1914.6,2195 C1919.7,2196.1 1924.4,2197.1 1930,2198.3 C1936.7,2199.7 1944.7,2201.2 1952,2202.7 C1959.3,2204.2 1967.1,2205.8 1974,2207.1 C1980.2,2208.2 1985.7,2209 1991.6,2210 C1997.5,2211 2002.9,2212.4 2009.2,2212.9 C2016.2,2213.5 2024.2,2213 2031.7,2213 C2039.2,2213 2046.8,2213.1 2054.3,2213.1 C2061.8,2213.2 2069.3,2213.2 2076.8,2213.2 C2084.3,2213.3 2091.8,2213.3 2099.3,2213.3 C2106.8,2213.4 2114.3,2213.4 2121.8,2213.4 C2129.4,2213.5 2136.9,2213.5 2144.4,2213.6 C2151.9,2213.6 2159.4,2213.6 2166.9,2213.7 C2174.4,2213.7 2181.9,2213.7 2189.4,2213.8 C2196.9,2213.8 2204.5,2213.9 2212,2213.9 C2219.5,2213.9 2227,2214 2234.5,2214" fill="none" stroke="#0e8a8c" stroke-width="2.6999999999999997" stroke-linejoin="round"/>
<line x1="474" y1="531" x2="474" y2="1374.5" stroke="#6050ae" stroke-width="3.2" stroke-dasharray="3.6 4.6" fill="none"/>
<line x1="580.3" y1="531" x2="580.3" y2="1374.5" stroke="#6050ae" stroke-width="3.2" stroke-dasharray="3.6 4.6" fill="none"/>
<line x1="661.8" y1="531" x2="661.8" y2="1374.5" stroke="#6050ae" stroke-width="3.2" stroke-dasharray="3.6 4.6" fill="none"/>
<line x1="1018.4" y1="531" x2="1018.4" y2="1374.5" stroke="#6050ae" stroke-width="3.2" stroke-dasharray="3.6 4.6" fill="none"/>
<line x1="1197.4" y1="531" x2="1197.4" y2="1374.5" stroke="#6050ae" stroke-width="3.2" stroke-dasharray="3.6 4.6" fill="none"/>
<line x1="1384.2" y1="531" x2="1384.2" y2="1374.5" stroke="#6050ae" stroke-width="3.2" stroke-dasharray="3.6 4.6" fill="none"/>
<line x1="1643.6" y1="531" x2="1643.6" y2="1374.5" stroke="#6050ae" stroke-width="3.2" stroke-dasharray="3.6 4.6" fill="none"/>
<line x1="1805.6" y1="531" x2="1805.6" y2="1374.5" stroke="#6050ae" stroke-width="3.2" stroke-dasharray="3.6 4.6" fill="none"/>
<line x1="2009.3" y1="531" x2="2009.3" y2="1374.5" stroke="#6050ae" stroke-width="3.2" stroke-dasharray="3.6 4.6" fill="none"/>
<line x1="2156" y1="531" x2="2156" y2="1374.5" stroke="#6050ae" stroke-width="3.2" stroke-dasharray="3.6 4.6" fill="none"/>
<line x1="474" y1="1402" x2="474" y2="2220" stroke="#6050ae" stroke-width="3.2" stroke-dasharray="3.6 4.6" fill="none"/>
<line x1="580.3" y1="1402" x2="580.3" y2="2220" stroke="#6050ae" stroke-width="3.2" stroke-dasharray="3.6 4.6" fill="none"/>
<line x1="661.8" y1="1402" x2="661.8" y2="2220" stroke="#6050ae" stroke-width="3.2" stroke-dasharray="3.6 4.6" fill="none"/>
<line x1="840" y1="1402" x2="840" y2="2220" stroke="#6050ae" stroke-width="3.2" stroke-dasharray="3.6 4.6" fill="none"/>
<line x1="1018.4" y1="1402" x2="1018.4" y2="2220" stroke="#6050ae" stroke-width="3.2" stroke-dasharray="3.6 4.6" fill="none"/>
<line x1="1197.4" y1="1402" x2="1197.4" y2="2220" stroke="#6050ae" stroke-width="3.2" stroke-dasharray="3.6 4.6" fill="none"/>
<line x1="1384.2" y1="1402" x2="1384.2" y2="2220" stroke="#6050ae" stroke-width="3.2" stroke-dasharray="3.6 4.6" fill="none"/>
<line x1="1643.3" y1="1402" x2="1643.3" y2="2220" stroke="#6050ae" stroke-width="3.2" stroke-dasharray="3.6 4.6" fill="none"/>
<line x1="1805.8" y1="1402" x2="1805.8" y2="2220" stroke="#6050ae" stroke-width="3.2" stroke-dasharray="3.6 4.6" fill="none"/>
<line x1="2009.2" y1="1402" x2="2009.2" y2="2220" stroke="#6050ae" stroke-width="3.2" stroke-dasharray="3.6 4.6" fill="none"/>
<line x1="2155.8" y1="1402" x2="2155.8" y2="2220" stroke="#6050ae" stroke-width="3.2" stroke-dasharray="3.6 4.6" fill="none"/>
<rect x="598" y="635" width="822" height="215" fill="#fff"/>
<rect x="598" y="1412" width="770" height="448" fill="#fff"/>
<rect x="169" y="1494.5" width="2065" height="15" fill="#fff"/>
<g style="font-family:'Liberation Sans',Arial,Helvetica,sans-serif;font-size:84px" fill="#000" stroke="#000" stroke-width="0.9">
<text transform="translate(610,717.8) scale(1,1.042)">(1) H-xy graphene</text>
<text transform="translate(610,821.7) scale(1,1.042)">(2) Pristine graphene</text>
<text transform="translate(608,1528.4) scale(1,1.042)">(3) H-xy TpDOS</text>
<text transform="translate(608,1631) scale(1,1.042)">(4) H-xy O pDOS</text>
<text transform="translate(608,1734.6) scale(1,1.042)">(5) H-xy C pDOS</text>
<text transform="translate(608,1836.8) scale(1,1.042)">(6) H-xy H pDOS</text>
</g>
<g style="font-family:'Liberation Sans',Arial,Helvetica,sans-serif;font-size:68px" fill="#000" stroke="#000" stroke-width="0.9">
<text transform="translate(852,1050)">(1)</text>
<text transform="translate(852,1148.4)">(2)</text>
<text transform="translate(1523,1970.5)">(3)</text>
<text transform="translate(1860,2028)">(4)</text>
<text transform="translate(1607,2114)">(5)</text>
<text transform="translate(1516.5,2209)">(6)</text>
</g>
<g style="font-family:'Liberation Sans',Arial,Helvetica,sans-serif;font-size:69px" fill="#000" stroke="#000" stroke-width="0.9">
<text transform="translate(479.3,600.6) scale(1,1.042)">B8</text>
<text transform="translate(805,600.6) scale(1,1.042)">B7</text>
<text transform="translate(1065.9,600.6) scale(1,1.042)">B6</text>
<text transform="translate(1231.1,600.6) scale(1,1.042)">B5</text>
<text transform="translate(1478,600.6) scale(1,1.042)">B4</text>
<text transform="translate(1681.4,600.6) scale(1,1.042)">B3</text>
<text transform="translate(1859.7,600.6) scale(1,1.042)">B2</text>
<text transform="translate(2043.8,600.6) scale(1,1.042)">B1</text>
<text transform="translate(2153.3,600.6) scale(1,1.042)">B0</text>
</g>
<line x1="163.5" y1="529" x2="2239.8" y2="529" stroke="#000" stroke-width="4.2"/>
<line x1="163.5" y1="2222.5" x2="2239.8" y2="2222.5" stroke="#000" stroke-width="5.1"/>
<line x1="166.2" y1="527" x2="166.2" y2="1486" stroke="#000" stroke-width="5.4"/>
<line x1="166.2" y1="1516" x2="166.2" y2="2225" stroke="#000" stroke-width="5.4"/>
<line x1="2238.45" y1="527" x2="2238.45" y2="1375" stroke="#000" stroke-width="2.7"/>
<line x1="2235.65" y1="527.5" x2="2235.65" y2="1375" stroke="#b41a1a" stroke-width="2.9"/>
<line x1="2236.9" y1="1375" x2="2236.9" y2="2225" stroke="#000" stroke-width="5.6"/>
<g stroke="#000" stroke-width="3.8">
<line x1="144.4" y1="1513.3" x2="187.9" y2="1477.6"/>
<line x1="144.4" y1="1527.6" x2="187.9" y2="1491"/>
<line x1="2216" y1="1512" x2="2257.7" y2="1474.6"/>
<line x1="2216" y1="1529.6" x2="2257.7" y2="1492.2"/>
</g>
<polygon points="160,1500 172,1490 172,1506 160,1516" fill="#fff"/>
<polygon points="2230,1500 2244,1488 2244,1503 2230,1516" fill="#fff"/>
<g stroke="#000" stroke-width="4.6">
<line x1="166" y1="698.4" x2="188" y2="698.4"/>
<line x1="166" y1="918.2" x2="188" y2="918.2"/>
<line x1="166" y1="1137.5" x2="188" y2="1137.5"/>
<line x1="166" y1="1358.5" x2="188" y2="1358.5"/>
<line x1="166" y1="587" x2="177" y2="587"/>
<line x1="166" y1="808" x2="177" y2="808"/>
<line x1="166" y1="1028" x2="177" y2="1028"/>
<line x1="166" y1="1247.5" x2="177" y2="1247.5"/>
<line x1="166" y1="1391.5" x2="188" y2="1391.5"/>
<line x1="166" y1="1421.4" x2="188" y2="1421.4"/>
<line x1="166" y1="1451.4" x2="188" y2="1451.4"/>
<line x1="166" y1="1477.6" x2="188" y2="1477.6"/>
<line x1="166" y1="1375.8" x2="177" y2="1375.8"/>
<line x1="166" y1="1405" x2="177" y2="1405"/>
<line x1="166" y1="1435" x2="177" y2="1435"/>
<line x1="166" y1="1464.9" x2="177" y2="1464.9"/>
<line x1="166" y1="1524.8" x2="188" y2="1524.8"/>
<line x1="166" y1="1696.6" x2="188" y2="1696.6"/>
<line x1="166" y1="1869.6" x2="188" y2="1869.6"/>
<line x1="166" y1="2042" x2="188" y2="2042"/>
<line x1="166" y1="2214.3" x2="188" y2="2214.3"/>
<line x1="166" y1="1611.5" x2="177" y2="1611.5"/>
<line x1="166" y1="1783.4" x2="177" y2="1783.4"/>
<line x1="166" y1="1955.8" x2="177" y2="1955.8"/>
<line x1="166" y1="2128.2" x2="177" y2="2128.2"/>
<line x1="2153.9" y1="2221" x2="2153.9" y2="2211"/>
<line x1="2072.8" y1="2221" x2="2072.8" y2="2200"/>
<line x1="1991.7" y1="2221" x2="1991.7" y2="2211"/>
<line x1="1910.6" y1="2221" x2="1910.6" y2="2200"/>
<line x1="1829.5" y1="2221" x2="1829.5" y2="2211"/>
<line x1="1748.4" y1="2221" x2="1748.4" y2="2200"/>
<line x1="1667.3" y1="2221" x2="1667.3" y2="2211"/>
<line x1="1586.2" y1="2221" x2="1586.2" y2="2200"/>
<line x1="1505.1" y1="2221" x2="1505.1" y2="2211"/>
<line x1="1424" y1="2221" x2="1424" y2="2200"/>
<line x1="1342.9" y1="2221" x2="1342.9" y2="2211"/>
<line x1="1261.8" y1="2221" x2="1261.8" y2="2200"/>
<line x1="1180.7" y1="2221" x2="1180.7" y2="2211"/>
<line x1="1099.6" y1="2221" x2="1099.6" y2="2200"/>
<line x1="1018.5" y1="2221" x2="1018.5" y2="2211"/>
<line x1="937.4" y1="2221" x2="937.4" y2="2200"/>
<line x1="856.3" y1="2221" x2="856.3" y2="2211"/>
<line x1="775.2" y1="2221" x2="775.2" y2="2200"/>
<line x1="694.1" y1="2221" x2="694.1" y2="2211"/>
<line x1="613" y1="2221" x2="613" y2="2200"/>
<line x1="531.9" y1="2221" x2="531.9" y2="2211"/>
<line x1="450.8" y1="2221" x2="450.8" y2="2200"/>
<line x1="369.7" y1="2221" x2="369.7" y2="2211"/>
<line x1="288.6" y1="2221" x2="288.6" y2="2200"/>
<line x1="207.5" y1="2221" x2="207.5" y2="2211"/>
</g>
<g style="font-family:'Liberation Sans',Arial,Helvetica,sans-serif;font-size:68px" fill="#000" text-anchor="middle" stroke="#000" stroke-width="0.9">
<text transform="translate(2233.7,2301.7) scale(1,1.042)">0</text>
<text transform="translate(2071.5,2301.7) scale(1,1.042)">2</text>
<text transform="translate(1909.3,2301.7) scale(1,1.042)">4</text>
<text transform="translate(1747.1,2301.7) scale(1,1.042)">6</text>
<text transform="translate(1584.9,2301.7) scale(1,1.042)">8</text>
<text transform="translate(1422.7,2301.7) scale(1,1.042)">10</text>
<text transform="translate(1260.5,2301.7) scale(1,1.042)">12</text>
<text transform="translate(1098.3,2301.7) scale(1,1.042)">14</text>
<text transform="translate(936.1,2301.7) scale(1,1.042)">16</text>
<text transform="translate(773.9,2301.7) scale(1,1.042)">18</text>
<text transform="translate(611.7,2301.7) scale(1,1.042)">20</text>
<text transform="translate(449.5,2301.7) scale(1,1.042)">22</text>
<text transform="translate(287.3,2301.7) scale(1,1.042)">24</text>
</g>
<text transform="translate(1023,2381.8) scale(1,1.042)" style="font-family:'Liberation Sans',Arial,Helvetica,sans-serif;font-size:84px" stroke="#000" stroke-width="0.9">E-E<tspan style="font-size:55px" dy="21.5">F</tspan><tspan dy="-21.5"> (eV)</tspan></text>
<text transform="translate(101,956) rotate(-90) scale(1,1.042)" text-anchor="middle" style="font-family:'Liberation Sans',Arial,Helvetica,sans-serif;font-size:84px" stroke="#000" stroke-width="0.9">TDOS (Arb. Units)</text>
<text transform="translate(100,1804.5) rotate(-90) scale(1,1.042)" text-anchor="middle" style="font-family:'Liberation Sans',Arial,Helvetica,sans-serif;font-size:84px" stroke="#000" stroke-width="0.9">pDOS (Arb. Units)</text>
<g id="images">
<line x1="481" y1="262" x2="651" y2="262" stroke="#7e4626" stroke-width="14"/><line x1="481" y1="262" x2="651" y2="262" stroke="#f0d0b8" stroke-width="3.08"/>
<path d="M541.3,113.6 C549.5,112.7 558.3,112.5 566.5,113.6 C574.7,114.7 583.7,116.6 590.6,119.9 C596.7,122.8 601.8,127.3 606.3,131.5 C610.4,135.4 613.7,140 616.8,144 C619.6,147.6 622.7,150.2 624.2,154.5 C626,159.7 624.9,166.3 625.2,173.4 C625.6,182.6 625.4,195.5 626.3,204.9 C627,212.6 627.4,219.8 629.4,225.9 C631.1,231.1 636.3,235.1 636.8,239.5 C637.2,243.4 637,248.3 633.6,251 C626.8,256.4 600.9,253 585.4,253.1 C570.9,253.2 555.4,253.7 543.4,252 C534.2,250.7 523.4,249.7 519.3,245.8 C516.7,243.4 517.3,240.1 516.1,236.3 C514.3,230.7 512.3,222.3 509.9,215.4 C507.5,208.4 504.1,201.4 501.5,194.4 C498.9,187.4 496.2,180 494.1,173.4 C492.2,167.5 489.4,162.1 489.4,156.6 C489.4,151.3 491.6,145.7 494.1,140.9 C496.6,135.9 500.5,131 504.6,127.3 C508.6,123.7 512.9,121.1 518.2,118.9 C524.7,116.2 533.4,114.5 541.3,113.6 Z" fill="url(#blob)" stroke="#a0a000" stroke-width="1.8" opacity="1"/>
<line x1="568.6" y1="178" x2="568.6" y2="205" stroke="#ff8a00" stroke-width="9"/>
<line x1="568.6" y1="205" x2="568.6" y2="232" stroke="#c8b818" stroke-width="9"/>
<circle cx="567.5" cy="238" r="15" fill="#c8c020" opacity="0.9"/>
<line x1="577" y1="241" x2="640" y2="252" stroke="#d8cc40" stroke-width="7"/>
<line x1="515" y1="149" x2="570" y2="164" stroke="#f0e070" stroke-width="7"/>
<circle cx="515" cy="149.3" r="8.5" fill="#f0ec90"/>
<circle cx="570.2" cy="164.5" r="15.5" fill="url(#rgO)"/>
<circle cx="525.6" cy="262" r="16.5" fill="url(#rgC)"/>
<circle cx="568.1" cy="262" r="16.5" fill="url(#rgC)"/>
<circle cx="651.4" cy="262" r="16.5" fill="url(#rgC)"/>
<line x1="480" y1="351.5" x2="524" y2="351.5" stroke="#8a5030" stroke-width="11"/><line x1="480" y1="351.5" x2="524" y2="351.5" stroke="#f0d0b8" stroke-width="2.42"/>
<line x1="480" y1="481.4" x2="524" y2="481.4" stroke="#8a5030" stroke-width="11"/><line x1="480" y1="481.4" x2="524" y2="481.4" stroke="#f0d0b8" stroke-width="2.42"/>
<line x1="653" y1="417" x2="671" y2="378" stroke="#8a5030" stroke-width="9"/><line x1="653" y1="417" x2="671" y2="378" stroke="#f0d0b8" stroke-width="1.98"/>
<line x1="653" y1="417" x2="671" y2="456" stroke="#8a5030" stroke-width="9"/><line x1="653" y1="417" x2="671" y2="456" stroke="#f0d0b8" stroke-width="1.98"/>
<circle cx="524.5" cy="351.5" r="17" fill="url(#rgC)"/>
<circle cx="524.5" cy="481.4" r="17" fill="url(#rgC)"/>
<path d="M488.7,411.5 C488.5,403.6 490.6,393.4 494.2,387.3 C497.1,382.3 502.1,380.3 506.3,376.3 C511.2,371.6 515.3,363.7 521.8,360.8 C528.7,357.7 538.1,359.1 547.1,359.2 C557.4,359.3 570.5,359 580.1,361.9 C588.5,364.4 595.6,369.1 602.1,374 C608.4,378.7 613.5,384.2 618.7,390.6 C624.6,397.9 635.2,408 635.2,415.9 C635.2,422.9 627.2,429.2 622,435.7 C616.3,442.8 609.4,451.2 602.1,456.6 C595.3,461.6 588.4,465.3 580.1,467.6 C570.4,470.2 556.7,470.6 547.1,469.9 C539.6,469.3 533.4,468.5 527.3,465.4 C520.5,461.9 514.1,454.3 508.5,448.9 C503.6,444.1 498.6,440.4 495.3,434.6 C491.7,428.2 488.9,419.3 488.7,411.5 Z" fill="url(#blob)" stroke="#a0a000" stroke-width="1.8" opacity="1"/>
<line x1="527" y1="362" x2="569.7" y2="414.8" stroke="#b8ac10" stroke-width="8"/>
<line x1="530" y1="468" x2="569.7" y2="414.8" stroke="#b8ac10" stroke-width="8"/>
<line x1="569.7" y1="414.8" x2="636" y2="416" stroke="#b8ac10" stroke-width="8"/>
<line x1="514.6" y1="408.7" x2="569.7" y2="414.8" stroke="#f0e070" stroke-width="7"/>
<circle cx="514.6" cy="408.7" r="8.5" fill="#f0ec90"/>
<circle cx="569.7" cy="414.8" r="16" fill="url(#rgO)"/>
<circle cx="653.3" cy="417" r="17" fill="url(#rgC)"/>
<clipPath id="cs769"><rect x="769.5" y="77.6" width="173.8" height="214.8"/></clipPath>
<g clip-path="url(#cs769)">
<rect x="769.5" y="227.6" width="173.8" height="64.8" fill="url(#band)"/>
<line x1="769.5" y1="258.5" x2="943.3" y2="258.5" stroke="#dcd400" stroke-width="4"/>

<line x1="815.3" y1="258.5" x2="854.7" y2="258.5" stroke="#6a3418" stroke-width="10"/>
<circle cx="854.7" cy="258.5" r="16" fill="url(#rgC)"/>
<circle cx="815.3" cy="258.5" r="16.5" fill="url(#rgC)"/>
<circle cx="938.4" cy="258.5" r="16.5" fill="url(#rgC)"/>
<path d="M817.8,160 C817.9,155.1 820.1,149 823,145 C825.9,141.1 830.4,137.9 835,136 C839.9,134 846.5,133.6 852,134 C857.4,134.3 863.6,135.5 868,138 C872.1,140.3 875.7,144 878,148 C880.3,152 881.6,157.3 881.6,162 C881.6,166.7 880.5,172 878,176 C875.4,180.1 870.6,183.9 866,186 C861.3,188.2 855.3,189 850,188.7 C844.6,188.4 838.7,186.5 834,184 C829.4,181.6 824.7,178.1 822,174 C819.4,170 817.7,164.7 817.8,160 Z" fill="url(#blob)" stroke="#a0a000" stroke-width="1.8" opacity="1"/>
<line x1="858.2" y1="228" x2="858.2" y2="203" stroke="#8a5030" stroke-width="9"/><line x1="858.2" y1="228" x2="858.2" y2="203" stroke="#ffffff" stroke-width="1.98"/>
<line x1="858.2" y1="203" x2="858.2" y2="186" stroke="#f02020" stroke-width="9"/><line x1="858.2" y1="203" x2="858.2" y2="186" stroke="#ffffff" stroke-width="1.98"/>
<line x1="858.2" y1="186" x2="858.2" y2="172" stroke="#ff9000" stroke-width="9"/><line x1="858.2" y1="186" x2="858.2" y2="172" stroke="#ffffff" stroke-width="1.98"/>
<line x1="805.8" y1="146.9" x2="860.1" y2="162.8" stroke="#ff9a30" stroke-width="6"/>
<circle cx="805.8" cy="146.9" r="10" fill="url(#rgH)"/>
<circle cx="860.1" cy="162.8" r="15" fill="url(#rgO)"/>

</g>
<clipPath id="cs971"><rect x="971" y="77.6" width="174.3" height="214.8"/></clipPath>
<g clip-path="url(#cs971)">
<rect x="971" y="227.6" width="174.3" height="64.8" fill="url(#band)"/>
<line x1="971" y1="259.5" x2="1145.3" y2="259.5" stroke="#dcd400" stroke-width="4"/>
<ellipse cx="1030.2" cy="241.5" rx="9" ry="5" fill="#fff"/><ellipse cx="1034.2" cy="278.5" rx="8" ry="5" fill="#fff"/>
<line x1="1017.8" y1="259.5" x2="1054.7" y2="259.5" stroke="#6a3418" stroke-width="10"/>
<circle cx="1054.7" cy="259.5" r="16" fill="url(#rgC)"/>
<circle cx="1017.8" cy="259.5" r="16.5" fill="url(#rgC)"/>
<circle cx="1138.4" cy="259.5" r="16.5" fill="url(#rgC)"/>
<path d="M1036,228 C1045,218 1080,216 1110,219 C1125,221 1140,225 1145,227 L1145,236 L1036,236 Z" fill="#e0dc10" stroke="#a8a000" stroke-width="1.2"/>
<path d="M1020.3,157 C1020,152.4 1022.7,145.8 1026,142 C1029.3,138.2 1035,135.6 1040,134 C1045,132.4 1050.9,131.9 1056,132.5 C1060.9,133 1066.3,134.3 1070,137 C1073.6,139.6 1076.4,144 1078,148 C1079.5,151.7 1080.4,156.1 1079.6,160 C1078.7,164.2 1075.5,169.1 1072,172 C1068.4,175 1063,176.6 1058,177.3 C1052.5,178.1 1045.5,177.7 1040,176 C1034.8,174.4 1029.3,171.5 1026,168 C1023.1,165 1020.5,161 1020.3,157 Z" fill="url(#blob)" stroke="#a0a000" stroke-width="1.8" opacity="1"/>
<line x1="1061.1" y1="219" x2="1061.1" y2="202.7" stroke="#8a5030" stroke-width="9"/><line x1="1061.1" y1="219" x2="1061.1" y2="202.7" stroke="#ffffff" stroke-width="1.98"/>
<line x1="1061.1" y1="202.7" x2="1061.1" y2="176" stroke="#f02020" stroke-width="9"/><line x1="1061.1" y1="202.7" x2="1061.1" y2="176" stroke="#ffffff" stroke-width="1.98"/>
<line x1="1007.8" y1="147.4" x2="1061.6" y2="161.8" stroke="#ff9a30" stroke-width="6"/>
<circle cx="1007.8" cy="147.4" r="10" fill="url(#rgH)"/>
<circle cx="1061.6" cy="161.8" r="15" fill="url(#rgO)"/><path d="M1076.1,157.9 A15,15 0 0 1 1057.7,176.4 Z" fill="#f01818"/>

</g>
<clipPath id="cs1173"><rect x="1173.8" y="77.5" width="171.2" height="214.2"/></clipPath>
<g clip-path="url(#cs1173)">
<rect x="1173.8" y="227.5" width="171.2" height="64.2" fill="url(#band)"/>
<line x1="1173.8" y1="258.5" x2="1345" y2="258.5" stroke="#dcd400" stroke-width="4"/>
<ellipse cx="1234.6" cy="240.5" rx="9" ry="5" fill="#fff"/><ellipse cx="1238.6" cy="277.5" rx="8" ry="5" fill="#fff"/>
<line x1="1220.4" y1="258.5" x2="1260.7" y2="258.5" stroke="#6a3418" stroke-width="10"/>
<circle cx="1260.7" cy="258.5" r="16" fill="url(#rgC)"/>
<circle cx="1220.4" cy="258.5" r="16.5" fill="url(#rgC)"/>
<circle cx="1337.5" cy="258.5" r="16.5" fill="url(#rgC)"/>
<path d="M1232,228 C1250,218 1268,204 1283,182 C1290,200 1300,212 1320,220 C1330,224 1340,226 1345,227 L1345,236 L1232,236 Z" fill="#e8e418" stroke="#a8a000" stroke-width="1.2"/>
<path d="M1222,152 C1222.1,148.7 1226.5,144.4 1230,142 C1233.9,139.4 1239.8,138.3 1245,137.5 C1250.4,136.6 1256.7,136.3 1262,137 C1266.9,137.6 1273,138.4 1276,141 C1278.5,143.1 1280.2,147 1280,150 C1279.8,153.3 1277.1,157.4 1274,160 C1270.3,163.1 1263.6,165 1258,166 C1252.3,167 1245.3,167.1 1240,166 C1235.5,165.1 1231.1,163.5 1228,161 C1225.2,158.7 1221.9,155 1222,152 Z" fill="url(#blob)" stroke="#a0a000" stroke-width="1.8" opacity="1"/>
<line x1="1264" y1="228" x2="1264" y2="205" stroke="#8a5030" stroke-width="9"/><line x1="1264" y1="228" x2="1264" y2="205" stroke="#ffffff" stroke-width="1.98"/>
<line x1="1264" y1="205" x2="1264" y2="176" stroke="#f02020" stroke-width="9"/><line x1="1264" y1="205" x2="1264" y2="176" stroke="#ffffff" stroke-width="1.98"/>
<line x1="1210.3" y1="147" x2="1265.7" y2="163.3" stroke="#ff9a30" stroke-width="6"/>
<circle cx="1210.3" cy="147" r="10" fill="url(#rgH)"/>
<circle cx="1265.7" cy="163.3" r="16" fill="url(#rgR)"/>

</g>
<clipPath id="cs1375"><rect x="1375" y="77.7" width="168.6" height="211.6"/></clipPath>
<g clip-path="url(#cs1375)">
<rect x="1375" y="227.7" width="168.6" height="61.6" fill="url(#band)"/>
<line x1="1375" y1="258" x2="1543.6" y2="258" stroke="#dcd400" stroke-width="4"/>
<ellipse cx="1433.7" cy="240" rx="9" ry="5" fill="#fff"/><ellipse cx="1437.7" cy="277" rx="8" ry="5" fill="#fff"/>
<line x1="1418.5" y1="258" x2="1460.9" y2="258" stroke="#6a3418" stroke-width="10"/>
<circle cx="1460.9" cy="258" r="16" fill="url(#rgC)"/>
<circle cx="1418.5" cy="258" r="16.5" fill="url(#rgC)"/>
<circle cx="1537.6" cy="258" r="16.5" fill="url(#rgC)"/>
<path d="M1388.7,145.4 C1388.9,140.6 1390.8,135.2 1393.2,131.2 C1395.4,127.5 1398.7,124.5 1402.3,122.2 C1406.1,119.8 1410.2,118.2 1415.4,117.1 C1422.4,115.6 1432.5,115.2 1440.7,115.6 C1448.6,116 1458,116.5 1463.9,119.1 C1468.3,121 1471.2,123.7 1474,127.2 C1477.1,131.2 1477.5,138.8 1481.1,142.4 C1484.4,145.7 1490,145.9 1494.2,148.4 C1498.5,150.9 1502.9,153.9 1506.3,157.5 C1509.6,161 1512.6,165.1 1514.4,169.6 C1516.4,174.4 1516.7,180.1 1517.4,185.8 C1518.1,192.1 1517.6,199.8 1518.4,206 C1519.1,211.4 1519.1,217.2 1521.4,221.1 C1523.3,224.4 1530.7,226.6 1530,228.5 C1527.8,234.5 1418.2,236.6 1414.4,228.5 C1413,225.5 1421.1,220.5 1424.5,216.1 C1428.2,211.3 1432.1,206.6 1435.6,200.9 C1439.6,194.3 1448.1,182.1 1446.7,178.7 C1446,177 1443.3,177.1 1440.7,176.7 C1436,175.9 1426.8,178 1420.5,176.7 C1414.4,175.5 1408.2,172.5 1403.3,169.6 C1399,167 1394.6,164.4 1392.2,160.5 C1389.7,156.4 1388.5,150.3 1388.7,145.4 Z" fill="url(#blob)" stroke="#a0a000" stroke-width="1.8" opacity="1"/>
<line x1="1462.9" y1="227" x2="1462.9" y2="202" stroke="#c8b818" stroke-width="9"/><line x1="1462.9" y1="227" x2="1462.9" y2="202" stroke="#f0e890" stroke-width="1.98"/>
<line x1="1462.9" y1="202" x2="1462.9" y2="177" stroke="#ff9000" stroke-width="9"/><line x1="1462.9" y1="202" x2="1462.9" y2="177" stroke="#ffffff" stroke-width="1.98"/>
<line x1="1409.4" y1="148.4" x2="1466.9" y2="163.6" stroke="#ff9a30" stroke-width="6"/>
<circle cx="1409.4" cy="148.4" r="9" fill="#f0ec90"/>
<circle cx="1466.9" cy="163.6" r="14" fill="url(#rgO)"/><path d="M1453.3,162.2 A14,14 0 0 0 1469.7,177.3 Z" fill="#f01818" opacity="0.85"/>

</g>
<clipPath id="cs1574"><rect x="1574.2" y="75.1" width="171.9" height="224.6"/></clipPath>
<g clip-path="url(#cs1574)">
<rect x="1574.2" y="225.1" width="171.9" height="74.6" fill="url(#band)"/>
<line x1="1574.2" y1="258.2" x2="1746.1" y2="258.2" stroke="#dcd400" stroke-width="4"/>
<ellipse cx="1629.8" cy="240.2" rx="9" ry="5" fill="#fff"/><ellipse cx="1633.8" cy="277.2" rx="8" ry="5" fill="#fff"/>
<line x1="1618.7" y1="258.2" x2="1652.9" y2="258.2" stroke="#6a3418" stroke-width="10"/>
<circle cx="1652.9" cy="258.2" r="16" fill="url(#rgC)"/>
<circle cx="1618.7" cy="258.2" r="16.5" fill="url(#rgC)"/>
<circle cx="1739.9" cy="258.2" r="16.5" fill="url(#rgC)"/>
<path d="M1634.3,141.2 C1635.1,138.7 1637.9,136.9 1640.5,135 C1643.8,132.6 1648.3,130.3 1652.9,128.8 C1657.9,127.2 1664,126 1669.5,126.2 C1675,126.4 1680.8,127.7 1686,129.9 C1691.5,132.2 1698,135.9 1701.6,140.2 C1704.8,144 1706.4,148.9 1707.3,153.7 C1708.2,158.6 1708,164.7 1706.7,169.2 C1705.5,173.2 1703.4,176.4 1700.5,179.6 C1697.1,183.4 1691.5,186.2 1687.1,189.9 C1682.5,193.7 1676.7,198.7 1673.6,202.3 C1671.7,204.6 1670,206.1 1669.5,208.5 C1668.9,211.4 1670.3,215.9 1671.5,218.9 C1672.6,221.6 1676.9,224.3 1676,226 C1673.5,230.6 1620.4,232.8 1615.6,226 C1612.9,222.2 1619.2,213.8 1621.8,208.5 C1624.2,203.6 1628,199.7 1630.1,195.1 C1632.1,190.7 1632.1,184.6 1634.3,181.6 C1635.9,179.4 1638.2,178.9 1640.5,177.5 C1643.3,175.8 1648.9,174.7 1649.8,172.3 C1650.6,170.1 1648.2,166.5 1646.7,164 C1645.1,161.4 1642.4,159.3 1640.5,156.8 C1638.6,154.4 1636.3,152.2 1635.3,149.5 C1634.3,146.9 1633.5,143.6 1634.3,141.2 Z" fill="url(#blob)" stroke="#a0a000" stroke-width="1.8" opacity="1"/>
<line x1="1663.2" y1="225" x2="1663.2" y2="202.3" stroke="#a07030" stroke-width="9"/><line x1="1663.2" y1="225" x2="1663.2" y2="202.3" stroke="#ffffff" stroke-width="1.98"/>
<line x1="1663.2" y1="202.3" x2="1663.2" y2="177" stroke="#ff9000" stroke-width="9"/><line x1="1663.2" y1="202.3" x2="1663.2" y2="177" stroke="#ffffff" stroke-width="1.98"/>
<line x1="1609.4" y1="148.5" x2="1665.3" y2="163" stroke="#f8c8c8" stroke-width="6"/>
<circle cx="1609.4" cy="148.5" r="10" fill="url(#rgH)"/>
<circle cx="1665.3" cy="163" r="14" fill="url(#rgO)"/>
<line x1="1622" y1="154" x2="1640" y2="160" stroke="#f02020" stroke-width="6"/>
</g>
<clipPath id="cs1773"><rect x="1773" y="69.6" width="171.8" height="233.7"/></clipPath>
<g clip-path="url(#cs1773)">
<rect x="1773" y="219.6" width="171.8" height="83.7" fill="url(#band)"/>
<line x1="1773" y1="258.7" x2="1944.8" y2="258.7" stroke="#dcd400" stroke-width="4"/>
<ellipse cx="1828.5" cy="240.7" rx="9" ry="5" fill="#fff"/><ellipse cx="1832.5" cy="277.7" rx="8" ry="5" fill="#fff"/>
<line x1="1818.2" y1="258.7" x2="1850.8" y2="258.7" stroke="#6a3418" stroke-width="10"/>
<circle cx="1850.8" cy="258.7" r="16" fill="url(#rgC)"/>
<circle cx="1818.2" cy="258.7" r="16.5" fill="url(#rgC)"/>
<circle cx="1942" cy="258.7" r="16.5" fill="url(#rgC)"/>
<path d="M1787.7,154.3 C1788.2,149.3 1790.5,141.2 1794.3,138 C1797.9,135 1804.1,134.3 1809.5,134.8 C1816.2,135.4 1825.2,143.8 1831.2,143.5 C1835.5,143.3 1839.3,141.1 1842.1,138 C1845.5,134.3 1844.9,125.7 1848.6,121.7 C1852.2,117.8 1857.8,115.5 1863.8,114.1 C1871.4,112.3 1882.6,112.3 1891,114.1 C1898.8,115.8 1907.4,119 1912.7,123.9 C1917.6,128.4 1920.8,135.5 1922.5,141.3 C1924,146.4 1924.2,151.3 1923.6,156.5 C1922.9,162.2 1921.6,168.9 1918.2,173.9 C1914.6,179.2 1908.1,183.9 1901.9,187 C1895.5,190.2 1885.1,189.9 1880.1,192.4 C1877.1,193.9 1874.6,195.3 1873.6,197.8 C1872.5,200.6 1873.2,205.6 1874.7,208.7 C1876.1,211.7 1882.7,214.3 1882,216 C1880.5,219.6 1841.7,221.1 1833.4,216 C1828.9,213.3 1830,207.4 1826.9,203.3 C1823.2,198.4 1816.7,194 1811.7,189.1 C1806.6,184.2 1800.3,178.4 1796.4,173.9 C1793.6,170.7 1791.3,168.4 1789.9,165.2 C1788.4,161.9 1787.3,158.2 1787.7,154.3 Z" fill="url(#blob)" stroke="#a0a000" stroke-width="1.8" opacity="1"/>
<line x1="1861.7" y1="215" x2="1861.7" y2="200" stroke="#c8b818" stroke-width="9"/><line x1="1861.7" y1="215" x2="1861.7" y2="200" stroke="#f0e890" stroke-width="1.98"/>
<line x1="1861.7" y1="200" x2="1861.7" y2="177" stroke="#ff9000" stroke-width="9"/><line x1="1861.7" y1="200" x2="1861.7" y2="177" stroke="#ffffff" stroke-width="1.98"/>
<line x1="1806.2" y1="147.8" x2="1862.7" y2="162" stroke="#ff9a30" stroke-width="6"/>
<circle cx="1806.2" cy="147.8" r="9" fill="#f0ec90"/>
<circle cx="1862.7" cy="162" r="16" fill="url(#rgO)"/>

</g>
<clipPath id="cb1"><rect x="1975.6" y="100" width="165.6" height="212"/></clipPath><g clip-path="url(#cb1)">
<ellipse cx="2002" cy="229" rx="30" ry="18" fill="url(#blob)" stroke="#a8a800" stroke-width="1.5" opacity="1"/>
<ellipse cx="2056" cy="229" rx="30" ry="18" fill="url(#blob)" stroke="#a8a800" stroke-width="1.5" opacity="1"/>
<ellipse cx="2126" cy="229" rx="20" ry="18" fill="url(#blob)" stroke="#a8a800" stroke-width="1.5" opacity="1"/>
<ellipse cx="2002" cy="289" rx="30" ry="19" fill="url(#blob)" stroke="#a8a800" stroke-width="1.5" opacity="1"/>
<ellipse cx="2056" cy="289" rx="30" ry="19" fill="url(#blob)" stroke="#a8a800" stroke-width="1.5" opacity="1"/>
<ellipse cx="2126" cy="289" rx="20" ry="19" fill="url(#blob)" stroke="#a8a800" stroke-width="1.5" opacity="1"/>
<line x1="1975" y1="257.2" x2="2141" y2="257.2" stroke="#7a4426" stroke-width="12"/><line x1="1975" y1="257.2" x2="2141" y2="257.2" stroke="#f0d0b8" stroke-width="2.64"/>
<line x1="2060" y1="200" x2="2060" y2="215" stroke="#a06a48" stroke-width="7"/>
<circle cx="2016" cy="257.2" r="17" fill="url(#rgC)"/>
<circle cx="2060.3" cy="257.2" r="17" fill="url(#rgC)"/>
<circle cx="2136.3" cy="257.2" r="17" fill="url(#rgC)"/>
</g>
<ellipse cx="2060" cy="159" rx="51" ry="40" fill="url(#blob)" stroke="#a8a800" stroke-width="1.5" opacity="1"/>
<line x1="2004" y1="143" x2="2060" y2="160" stroke="#ff9a30" stroke-width="6"/>
<circle cx="2003.8" cy="143" r="9" fill="url(#rgH)"/>
<circle cx="2060.3" cy="160.3" r="16" fill="url(#rgO)"/>
<clipPath id="cb0"><rect x="2172" y="100" width="160.6" height="226"/></clipPath><g clip-path="url(#cb0)">
<ellipse cx="2230" cy="225" rx="60" ry="30" fill="url(#blob)" stroke="#a8a800" stroke-width="1.5" opacity="1"/>
<ellipse cx="2230" cy="295" rx="60" ry="30" fill="url(#blob)" stroke="#a8a800" stroke-width="1.5" opacity="1"/>
<path d="M2290,215 L2332,197 L2332,250 L2290,250 Z" fill="#e0e020" stroke="#a8a800" stroke-width="1.5"/>
<path d="M2290,265 L2332,265 L2332,324 L2290,300 Z" fill="#e0e020" stroke="#a8a800" stroke-width="1.5"/>
<ellipse cx="2212" cy="230" rx="27" ry="17" fill="url(#blob)" stroke="#a8a800" stroke-width="1.5" opacity="1"/>
<ellipse cx="2262" cy="230" rx="27" ry="17" fill="url(#blob)" stroke="#a8a800" stroke-width="1.5" opacity="1"/>
<ellipse cx="2212" cy="285" rx="27" ry="17" fill="url(#blob)" stroke="#a8a800" stroke-width="1.5" opacity="1"/>
<ellipse cx="2262" cy="285" rx="27" ry="17" fill="url(#blob)" stroke="#a8a800" stroke-width="1.5" opacity="1"/>
<line x1="2172" y1="257.2" x2="2332" y2="257.2" stroke="#7a4426" stroke-width="12"/><line x1="2172" y1="257.2" x2="2332" y2="257.2" stroke="#f0d0b8" stroke-width="2.64"/>
<circle cx="2216" cy="257.2" r="17" fill="url(#rgC)"/>
<circle cx="2259" cy="257.2" r="17" fill="url(#rgC)"/>
<circle cx="2330" cy="257.2" r="17" fill="url(#rgC)"/>
</g>
<path d="M2236,125 C2250,115 2290,115 2295,140 C2298,150 2290,160 2288,170 C2295,190 2285,205 2260,210 C2235,208 2222,200 2220,185 C2218,170 2230,165 2238,160 C2232,150 2232,135 2236,125 Z" fill="url(#blob)" stroke="#a8a800" stroke-width="1.5" opacity="1"/>
<line x1="2205" y1="148" x2="2259" y2="163" stroke="#f03030" stroke-width="6"/>
<circle cx="2205" cy="148" r="9" fill="url(#rgH)"/>
<circle cx="2259" cy="162.7" r="16" fill="url(#rgO)"/>
<clipPath id="ct7"><rect x="769" y="333.2" width="172.39999999999998" height="163.60000000000002"/></clipPath><g clip-path="url(#ct7)">
<path d="M769,333 L893,333 L860,378 L769,378 Z" fill="#f0f020"/>
<path d="M769,452 L860,452 L893,497 L769,497 Z" fill="#f0f020"/>
<path d="M941,333 L935,333 C920,370 905,400 908,415 C905,430 920,460 935,497 L941,497 Z" fill="#eaea20"/>
<line x1="769" y1="349.6" x2="815.5" y2="349.6" stroke="#c0a020" stroke-width="6"/>
<line x1="769" y1="480.5" x2="815.5" y2="480.5" stroke="#c0a020" stroke-width="6"/>
<line x1="815.5" y1="349.6" x2="860.8" y2="415" stroke="#8a5030" stroke-width="7"/>
<line x1="815.5" y1="480.5" x2="860.8" y2="415" stroke="#8a5030" stroke-width="7"/>
<line x1="860.8" y1="415" x2="938.8" y2="415" stroke="#8a5030" stroke-width="7"/>
<circle cx="815.5" cy="349.6" r="16" fill="url(#rgCg)"/>
<circle cx="815.5" cy="480.5" r="16" fill="url(#rgCg)"/>
<circle cx="938.8" cy="415" r="16" fill="url(#rgCg)"/>
<ellipse cx="851" cy="413" rx="32" ry="28" fill="url(#blob)" stroke="#a8a800" stroke-width="1.5" opacity="1"/>
<line x1="806" y1="407.5" x2="860.8" y2="415" stroke="#ffb080" stroke-width="6"/>
<circle cx="806" cy="407.5" r="10" fill="url(#rgH)"/>
<circle cx="860.8" cy="415" r="17" fill="url(#rgO)"/>
</g>
<clipPath id="ct971"><rect x="971" y="333" width="171.7" height="164"/></clipPath>
<g clip-path="url(#ct971)">
<rect x="971" y="333" width="171.7" height="164" fill="#ecec1e"/>

<circle cx="1104" cy="346" r="37" fill="#fff" stroke="#b4b400" stroke-width="3.5"/>
<circle cx="1104" cy="484" r="38" fill="#fff" stroke="#b4b400" stroke-width="3.5"/>
<circle cx="973" cy="414" r="36" fill="#fff" stroke="#b4b400" stroke-width="3.5"/>
<line x1="1017" y1="349.6" x2="1062" y2="415" stroke="#c0a020" stroke-width="6"/>
<line x1="1017" y1="480.5" x2="1062" y2="415" stroke="#c0a020" stroke-width="6"/>
<line x1="971" y1="349.6" x2="1017" y2="349.6" stroke="#c0a020" stroke-width="6"/>
<line x1="971" y1="480.5" x2="1017" y2="480.5" stroke="#c0a020" stroke-width="6"/>
<circle cx="1017" cy="349.6" r="16" fill="url(#rgCg)"/>
<circle cx="1017" cy="480.5" r="16" fill="url(#rgCg)"/>
<ellipse cx="1053" cy="413" rx="30" ry="25" fill="url(#blob)" stroke="#a8a800" stroke-width="1.5" opacity="1"/>
<line x1="1008" y1="410" x2="1062" y2="415" stroke="#ffb080" stroke-width="6"/>
<circle cx="1008" cy="410" r="10" fill="url(#rgH)"/>
<circle cx="1062" cy="415" r="17" fill="url(#rgO)"/>
</g>
<clipPath id="ct1173"><rect x="1173.8" y="333" width="171.2" height="164"/></clipPath>
<g clip-path="url(#ct1173)">
<rect x="1173.8" y="333" width="171.2" height="164" fill="#ecec1e"/>

<circle cx="1308.5" cy="346" r="37" fill="#fff" stroke="#b4b400" stroke-width="3.5"/>
<circle cx="1308.5" cy="484" r="38" fill="#fff" stroke="#b4b400" stroke-width="3.5"/>
<circle cx="1170" cy="414" r="34" fill="#fff" stroke="#b4b400" stroke-width="3.5"/>
<line x1="1220.4" y1="349.6" x2="1264" y2="415" stroke="#c0a020" stroke-width="6"/>
<line x1="1220.4" y1="480.5" x2="1264" y2="415" stroke="#c0a020" stroke-width="6"/>
<line x1="1173.8" y1="349.6" x2="1220.4" y2="349.6" stroke="#c0a020" stroke-width="6"/>
<line x1="1173.8" y1="480.5" x2="1220.4" y2="480.5" stroke="#c0a020" stroke-width="6"/>
<circle cx="1220.4" cy="349.6" r="16" fill="url(#rgCg)"/>
<circle cx="1220.4" cy="480.5" r="16" fill="url(#rgCg)"/>
<circle cx="1268" cy="415" r="17" fill="#f01010"/><ellipse cx="1250" cy="413" rx="30" ry="20" fill="url(#blob)" stroke="#a8a800" stroke-width="1.5" opacity="1"/>
<line x1="1210.3" y1="410" x2="1264" y2="415" stroke="#ffb080" stroke-width="6"/>
<circle cx="1210.3" cy="410" r="10" fill="url(#rgH)"/>
<circle cx="1264" cy="415" r="17" fill="url(#rgO)"/>
</g>
<clipPath id="ct1372"><rect x="1372.7" y="333" width="171.1" height="164"/></clipPath>
<g clip-path="url(#ct1372)">
<rect x="1372.7" y="333" width="171.1" height="164" fill="#ecec1e"/>

<circle cx="1512" cy="340" r="36" fill="#fff" stroke="#b4b400" stroke-width="3.5"/>
<circle cx="1510" cy="490" r="37" fill="#fff" stroke="#b4b400" stroke-width="3.5"/>
<circle cx="1372" cy="412" r="28" fill="#fff" stroke="#b4b400" stroke-width="3.5"/>
<line x1="1420.5" y1="349.6" x2="1465.8" y2="415" stroke="#c0a020" stroke-width="6"/>
<line x1="1420.5" y1="480.5" x2="1465.8" y2="415" stroke="#c0a020" stroke-width="6"/>
<line x1="1372.7" y1="349.6" x2="1420.5" y2="349.6" stroke="#c0a020" stroke-width="6"/>
<line x1="1372.7" y1="480.5" x2="1420.5" y2="480.5" stroke="#c0a020" stroke-width="6"/>
<circle cx="1420.5" cy="349.6" r="16" fill="url(#rgCg)"/>
<circle cx="1420.5" cy="480.5" r="16" fill="url(#rgCg)"/>
<ellipse cx="1434.4" cy="410" rx="45" ry="32" fill="url(#blob)" stroke="#a8a800" stroke-width="1.5" opacity="1"/>
<line x1="1410.4" y1="405" x2="1465.8" y2="415" stroke="#ffb080" stroke-width="6"/>
<circle cx="1410.4" cy="405" r="10" fill="url(#rgH)"/>
<circle cx="1465.8" cy="415" r="17" fill="url(#rgO)"/>
</g>
<clipPath id="ct1576"><rect x="1576.4" y="335.7" width="169.9" height="161.3"/></clipPath>
<g clip-path="url(#ct1576)">
<rect x="1576.4" y="335.7" width="169.9" height="161.3" fill="#ecec1e"/>

<circle cx="1710" cy="346" r="37" fill="#fff" stroke="#b4b400" stroke-width="3.5"/>
<circle cx="1710" cy="484" r="38" fill="#fff" stroke="#b4b400" stroke-width="3.5"/>
<circle cx="1576" cy="414" r="30" fill="#fff" stroke="#b4b400" stroke-width="3.5"/>
<line x1="1620.4" y1="349.6" x2="1666" y2="413" stroke="#c0a020" stroke-width="6"/>
<line x1="1620.4" y1="480.5" x2="1666" y2="413" stroke="#c0a020" stroke-width="6"/>
<line x1="1576.4" y1="349.6" x2="1620.4" y2="349.6" stroke="#c0a020" stroke-width="6"/>
<line x1="1576.4" y1="480.5" x2="1620.4" y2="480.5" stroke="#c0a020" stroke-width="6"/>
<circle cx="1620.4" cy="349.6" r="16" fill="url(#rgCg)"/>
<circle cx="1620.4" cy="480.5" r="16" fill="url(#rgCg)"/>
<ellipse cx="1665" cy="413" rx="42" ry="38" fill="url(#blob)" stroke="#a8a800" stroke-width="1.5" opacity="1"/>
<line x1="1610.3" y1="408" x2="1666" y2="413" stroke="#ffb080" stroke-width="6"/>
<circle cx="1610.3" cy="408" r="10" fill="url(#rgH)"/>
<circle cx="1666" cy="413" r="17" fill="url(#rgO)"/>
</g>
<clipPath id="ct1770"><rect x="1770.2" y="330.7" width="174.8" height="166.3"/></clipPath>
<g clip-path="url(#ct1770)">
<rect x="1770.2" y="330.7" width="174.8" height="166.3" fill="#ecec1e"/>

<circle cx="1937" cy="333" r="27" fill="#fff" stroke="#b4b400" stroke-width="3.5"/>
<circle cx="1918" cy="500" r="48" fill="#fff" stroke="#b4b400" stroke-width="3.5"/>
<circle cx="1768" cy="414" r="24" fill="#fff" stroke="#b4b400" stroke-width="3.5"/>
<line x1="1820.5" y1="349.6" x2="1866" y2="410" stroke="#c0a020" stroke-width="6"/>
<line x1="1820.5" y1="480.5" x2="1866" y2="410" stroke="#c0a020" stroke-width="6"/>
<line x1="1770.2" y1="349.6" x2="1820.5" y2="349.6" stroke="#c0a020" stroke-width="6"/>
<line x1="1770.2" y1="480.5" x2="1820.5" y2="480.5" stroke="#c0a020" stroke-width="6"/>
<circle cx="1820.5" cy="349.6" r="16" fill="url(#rgCg)"/>
<circle cx="1820.5" cy="480.5" r="16" fill="url(#rgCg)"/>
<ellipse cx="1859.5" cy="412.5" rx="67" ry="47" fill="url(#blob)" stroke="#a8a800" stroke-width="1.5" opacity="1"/>
<line x1="1810" y1="405" x2="1866" y2="410" stroke="#ffb080" stroke-width="6"/>
<circle cx="1810" cy="405" r="10" fill="url(#rgH)"/>
<circle cx="1866" cy="410" r="17" fill="url(#rgO)"/>
</g>
<clipPath id="ct1"><rect x="1974.4" y="332" width="166.8" height="164.5"/></clipPath><g clip-path="url(#ct1)">
<path d="M1974,332 L2047,332 L2050,360 L2000,400 L1974,395 Z" fill="#eeee20" stroke="#b0b000" stroke-width="1.5"/>
<path d="M1974,460 L2000,430 L2047,470 L2045,497 L1974,497 Z" fill="#eeee20" stroke="#b0b000" stroke-width="1.5"/>
<path d="M2141,385 L2115,395 L2110,420 L2141,445 Z" fill="#eeee20" stroke="#b0b000" stroke-width="1.5"/>
<circle cx="2017" cy="349.6" r="16" fill="url(#rgCg)"/>
<circle cx="2017" cy="480.5" r="16" fill="url(#rgCg)"/>
<path d="M1974,460 L2010,440 L2050,470 L2045,497 L1974,497 Z" fill="#eeee20" stroke="#b0b000" stroke-width="1.5"/>
<ellipse cx="2062" cy="378" rx="48" ry="46" fill="url(#blob)" stroke="#a8a800" stroke-width="1.5" opacity="1"/>
<ellipse cx="2052" cy="455" rx="52" ry="42" fill="url(#blob)" stroke="#a8a800" stroke-width="1.5" opacity="1"/>
<line x1="2060" y1="414" x2="2130" y2="414" stroke="#8a5030" stroke-width="8"/>
<line x1="2004" y1="407" x2="2060" y2="414" stroke="#ffb0b0" stroke-width="7"/>
<circle cx="2003.8" cy="407" r="10" fill="url(#rgH)"/>
<circle cx="2060.3" cy="414" r="17" fill="url(#rgO)"/>
</g>
<clipPath id="ct0"><rect x="2169.5" y="333.3" width="163.1" height="164.4"/></clipPath><g clip-path="url(#ct0)">
<path d="M2169,333 L2262,333 L2262,370 C2250,380 2240,390 2230,392 L2169,365 Z" fill="#eeee20" stroke="#b0b000" stroke-width="1.5"/>
<path d="M2169,460 L2230,440 C2245,450 2262,465 2262,497 L2169,497 Z" fill="#eeee20" stroke="#b0b000" stroke-width="1.5"/>
<path d="M2332,375 L2300,390 L2290,415 L2300,440 L2332,455 Z" fill="#eeee20" stroke="#b0b000" stroke-width="1.5"/>
<circle cx="2216" cy="350" r="16" fill="url(#rgCg)"/>
<circle cx="2216" cy="480" r="16" fill="url(#rgCg)"/>
<ellipse cx="2258" cy="414" rx="38" ry="35" fill="url(#blob)" stroke="#a8a800" stroke-width="1.5" opacity="1"/>
<line x1="2205" y1="408" x2="2259" y2="414" stroke="#ffb0b0" stroke-width="7"/>
<circle cx="2205" cy="408" r="10" fill="url(#rgH)"/>
<circle cx="2259" cy="414" r="17" fill="url(#rgO)"/>
</g>
</g>
<g style="font-family:'Liberation Sans',Arial,Helvetica,sans-serif;font-size:68px" fill="#000" stroke="#000" stroke-width="0.9">
<text transform="translate(170.5,112.9) scale(1,1.042)">z</text>
<text transform="translate(316,239) scale(1,1.042)">y</text>
<text transform="translate(315.5,331) scale(1,1.042)">y</text>
<text transform="translate(171,484.2) scale(1,1.042)">x</text>
</g>
<rect x="183" y="150" width="10" height="62" fill="#1818e0"/>
<polygon points="188,124.5 202,157 174,157" fill="#1010f0"/>
<rect x="200" y="218" width="70" height="8" fill="#20d020"/>
<polygon points="307,222 266,210 266,234" fill="#10cc10"/>
<rect x="200" y="309" width="70" height="8" fill="#20d020"/>
<polygon points="307,313 266,301 266,325" fill="#10cc10"/>
<rect x="183" y="318" width="10" height="82" fill="#f01818"/>
<polygon points="188,435.3 202,396 174,396" fill="#f00000"/>
<circle cx="188" cy="222.3" r="13.5" fill="#8c0808"/>
<circle cx="188" cy="313" r="13.5" fill="#0a0a90"/>
<text x="188" y="319" text-anchor="middle" style="font-family:'Liberation Sans',Arial,Helvetica,sans-serif;font-size:17px;font-weight:bold" fill="#e8e8ff">z</text>
<text x="188" y="228" text-anchor="middle" style="font-family:'Liberation Sans',Arial,Helvetica,sans-serif;font-size:17px;font-weight:bold" fill="#ffe8e8">x</text>
<g style="font-family:'Liberation Sans',Arial,Helvetica,sans-serif;font-size:69px" fill="#000" stroke="#000" stroke-width="0.9">
<text transform="translate(508.5,91.5) scale(1,1.042)">B8</text>
<text transform="translate(817.5,91.5) scale(1,1.042)">B7</text>
<text transform="translate(1008.4,91.5) scale(1,1.042)">B6</text>
<text transform="translate(1211.1,91.5) scale(1,1.042)">B5</text>
<text transform="translate(1421.3,91.5) scale(1,1.042)">B4</text>
<text transform="translate(1621.2,91.5) scale(1,1.042)">B3</text>
<text transform="translate(1825.1,91.5) scale(1,1.042)">B2</text>
<text transform="translate(2024.1,91.5) scale(1,1.042)">B1</text>
<text transform="translate(2214.3,91.5) scale(1,1.042)">B0</text>
</g>
<line x1="956.5" y1="70" x2="956.5" y2="276" stroke="#6050ae" stroke-width="3.2" stroke-dasharray="3.6 4.6" fill="none"/>
<line x1="1159" y1="70" x2="1159" y2="276" stroke="#6050ae" stroke-width="3.2" stroke-dasharray="3.6 4.6" fill="none"/>
<line x1="1358" y1="70" x2="1358" y2="276" stroke="#6050ae" stroke-width="3.2" stroke-dasharray="3.6 4.6" fill="none"/>
<line x1="1557.7" y1="70" x2="1557.7" y2="276" stroke="#6050ae" stroke-width="3.2" stroke-dasharray="3.6 4.6" fill="none"/>
<line x1="1760.6" y1="70" x2="1760.6" y2="276" stroke="#6050ae" stroke-width="3.2" stroke-dasharray="3.6 4.6" fill="none"/>
<line x1="1961.5" y1="70" x2="1961.5" y2="276" stroke="#6050ae" stroke-width="3.2" stroke-dasharray="3.6 4.6" fill="none"/>
<line x1="2157.2" y1="70" x2="2157.2" y2="276" stroke="#6050ae" stroke-width="3.2" stroke-dasharray="3.6 4.6" fill="none"/>
<line x1="2339.5" y1="70" x2="2339.5" y2="276" stroke="#6050ae" stroke-width="3.2" stroke-dasharray="3.6 4.6" fill="none"/>
<line x1="474" y1="527" x2="474" y2="497" stroke="#6050ae" stroke-width="3.2" stroke-dasharray="3.6 4.6" fill="none"/>
<line x1="580.3" y1="527" x2="666.5" y2="494.4" stroke="#6050ae" stroke-width="3.2" stroke-dasharray="3.6 4.6" fill="none"/>
<line x1="661.8" y1="527" x2="753.8" y2="498.2" stroke="#6050ae" stroke-width="3.2" stroke-dasharray="3.6 4.6" fill="none"/>
<line x1="1018.4" y1="527" x2="959" y2="492.5" stroke="#6050ae" stroke-width="3.2" stroke-dasharray="3.6 4.6" fill="none"/>
<line x1="1197.4" y1="527" x2="1159.7" y2="495.8" stroke="#6050ae" stroke-width="3.2" stroke-dasharray="3.6 4.6" fill="none"/>
<line x1="1384.2" y1="527" x2="1358" y2="496" stroke="#6050ae" stroke-width="3.2" stroke-dasharray="3.6 4.6" fill="none"/>
<line x1="1643.6" y1="527" x2="1562" y2="496" stroke="#6050ae" stroke-width="3.2" stroke-dasharray="3.6 4.6" fill="none"/>
<line x1="1805.6" y1="527" x2="1763" y2="496" stroke="#6050ae" stroke-width="3.2" stroke-dasharray="3.6 4.6" fill="none"/>
<line x1="2009.3" y1="527" x2="1965" y2="498" stroke="#6050ae" stroke-width="3.2" stroke-dasharray="3.6 4.6" fill="none"/>
<line x1="2156" y1="527" x2="2156" y2="496" stroke="#6050ae" stroke-width="3.2" stroke-dasharray="3.6 4.6" fill="none"/>
<line x1="2237" y1="527" x2="2332.6" y2="484" stroke="#6050ae" stroke-width="3.2" stroke-dasharray="3.6 4.6" fill="none"/>
</svg></body></html>
